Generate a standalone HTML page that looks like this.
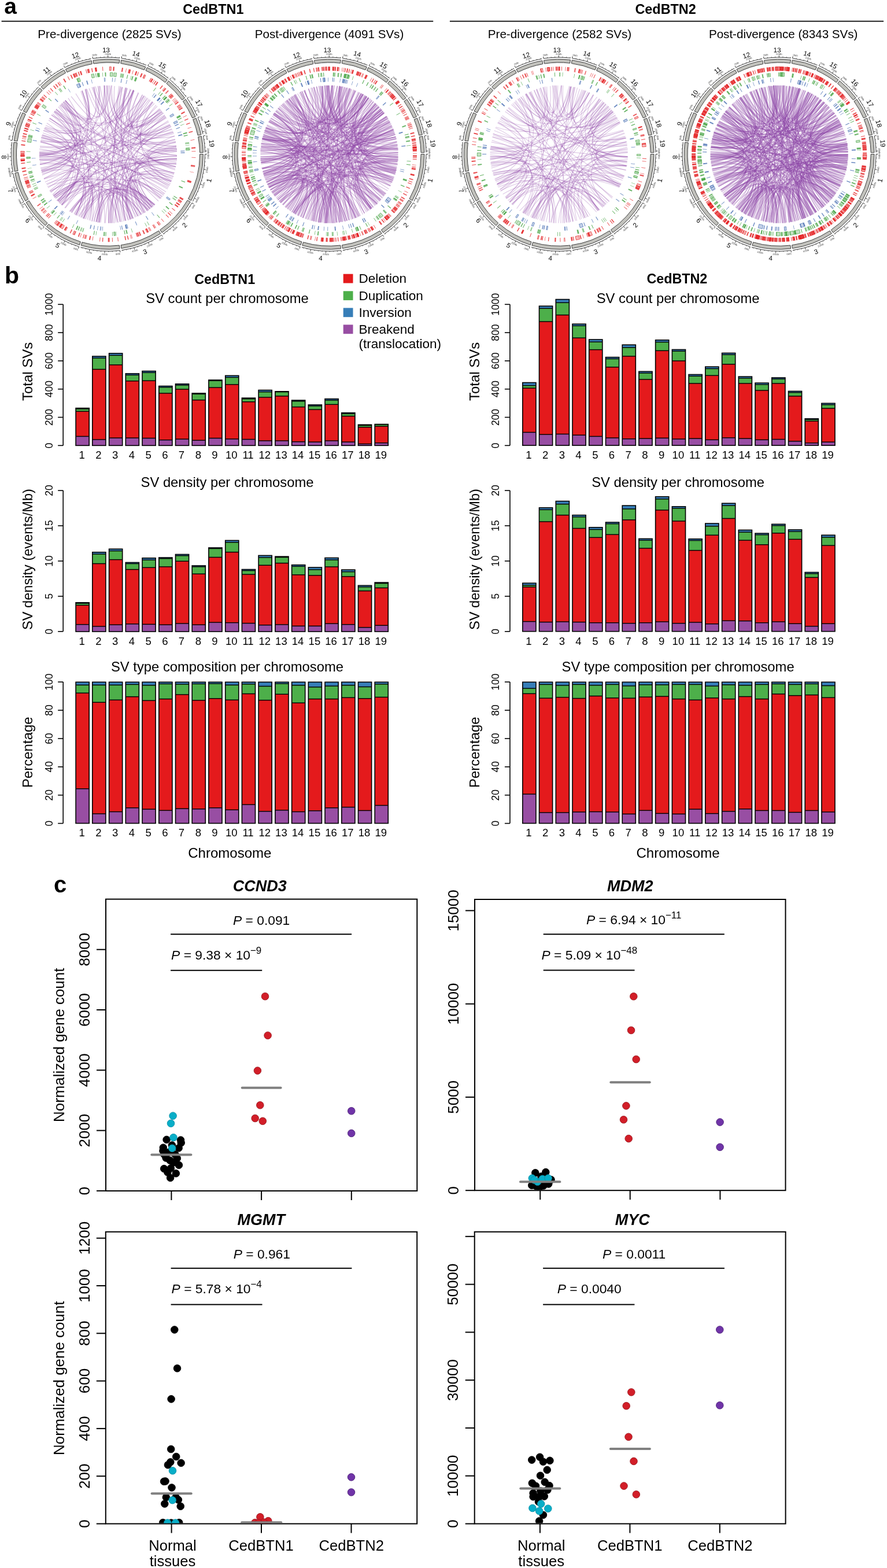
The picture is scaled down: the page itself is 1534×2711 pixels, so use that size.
<!DOCTYPE html><html><head><meta charset="utf-8"><title>Figure</title><style>html,body{margin:0;padding:0;background:#fff;}svg{display:block;}</style></head><body><svg width="1534" height="2711" viewBox="0 0 1534 2711" font-family="'Liberation Sans', Arial, Helvetica, sans-serif"><rect width="1534" height="2711" fill="#fff"/><text x="7.3" y="24" font-size="39" font-weight="bold">a</text><text x="368.8" y="23.7" font-size="23.4" text-anchor="middle" font-weight="bold">CedBTN1</text><text x="1151.1" y="23.7" font-size="23.4" text-anchor="middle" font-weight="bold">CedBTN2</text><line x1="2.6" x2="749.2" y1="36.8" y2="36.8" stroke="#222" stroke-width="2"/><line x1="777.9" x2="1528.1" y1="36.8" y2="36.8" stroke="#222" stroke-width="2"/><text x="189.5" y="65.5" font-size="20.6" text-anchor="middle">Pre-divergence (2825 SVs)</text><text x="569.5" y="65.5" font-size="20.6" text-anchor="middle">Post-divergence (4091 SVs)</text><text x="968" y="65.5" font-size="20.6" text-anchor="middle">Pre-divergence (2582 SVs)</text><text x="1354.7" y="65.5" font-size="20.6" text-anchor="middle">Post-divergence (8343 SVs)</text><g transform="translate(187,266.7)"><path fill="#C2C2BD" stroke="#3C3C3C" stroke-width="1" d="M164.4 -0.1A164.4 164.4 0 0 1 143.6 80L138.6 77.1A158.6 158.6 0 0 0 158.6 -0.1ZM142.2 82.4A164.4 164.4 0 0 1 93.1 135.5L89.8 130.7A158.6 158.6 0 0 0 137.2 79.5ZM90.7 137.1A164.4 164.4 0 0 1 22.9 162.8L22.1 157.1A158.6 158.6 0 0 0 87.5 132.3ZM20 163.2A164.4 164.4 0 0 1 -46.7 157.6L-45 152.1A158.6 158.6 0 0 0 19.3 157.4ZM-49.4 156.8A164.4 164.4 0 0 1 -106.6 125.2L-102.8 120.8A158.6 158.6 0 0 0 -47.7 151.3ZM-108.7 123.3A164.4 164.4 0 0 1 -141.8 83.2L-136.8 80.3A158.6 158.6 0 0 0 -104.9 119ZM-143.2 80.7A164.4 164.4 0 0 1 -161.2 32.5L-155.5 31.3A158.6 158.6 0 0 0 -138.2 77.9ZM-161.7 29.7A164.4 164.4 0 0 1 -163.1 -20.6L-157.3 -19.9A158.6 158.6 0 0 0 -156 28.6ZM-162.7 -23.4A164.4 164.4 0 0 1 -147.9 -71.8L-142.7 -69.3A158.6 158.6 0 0 0 -157 -22.6ZM-146.6 -74.4A164.4 164.4 0 0 1 -118.1 -114.4L-113.9 -110.4A158.6 158.6 0 0 0 -141.4 -71.8ZM-116 -116.5A164.4 164.4 0 0 1 -76.2 -145.7L-73.5 -140.6A158.6 158.6 0 0 0 -112 -112.3ZM-73.6 -147A164.4 164.4 0 0 1 -28.8 -161.9L-27.8 -156.1A158.6 158.6 0 0 0 -71 -141.8ZM-26 -162.3A164.4 164.4 0 0 1 19.8 -163.2L19.1 -157.5A158.6 158.6 0 0 0 -25.1 -156.6ZM22.6 -162.8A164.4 164.4 0 0 1 64.8 -151.1L62.5 -145.8A158.6 158.6 0 0 0 21.8 -157.1ZM67.4 -150A164.4 164.4 0 0 1 102.3 -128.7L98.7 -124.1A158.6 158.6 0 0 0 65 -144.7ZM104.6 -126.9A164.4 164.4 0 0 1 132.5 -97.3L127.8 -93.9A158.6 158.6 0 0 0 100.9 -122.4ZM134.2 -95A164.4 164.4 0 0 1 151 -65L145.7 -62.7A158.6 158.6 0 0 0 129.4 -91.6ZM152.1 -62.4A164.4 164.4 0 0 1 160.9 -33.9L155.2 -32.7A158.6 158.6 0 0 0 146.7 -60.2ZM161.4 -31.1A164.4 164.4 0 0 1 164.4 -3L158.6 -2.9A158.6 158.6 0 0 0 155.7 -30Z"/><path fill="none" stroke="#222" stroke-width="0.9" d="M167.6 -0.1A167.6 167.6 0 0 1 146.4 81.5M145 84.1A167.6 167.6 0 0 1 94.9 138.1M92.5 139.8A167.6 167.6 0 0 1 23.3 166M20.4 166.4A167.6 167.6 0 0 1 -47.6 160.7M-50.4 159.8A167.6 167.6 0 0 1 -108.6 127.6M-110.8 125.7A167.6 167.6 0 0 1 -144.6 84.8M-146 82.3A167.6 167.6 0 0 1 -164.3 33.1M-164.8 30.3A167.6 167.6 0 0 1 -166.3 -21M-165.9 -23.9A167.6 167.6 0 0 1 -150.8 -73.2M-149.5 -75.8A167.6 167.6 0 0 1 -120.4 -116.6M-118.3 -118.7A167.6 167.6 0 0 1 -77.6 -148.5M-75 -149.9A167.6 167.6 0 0 1 -29.4 -165M-26.5 -165.5A167.6 167.6 0 0 1 20.1 -166.4M23 -166A167.6 167.6 0 0 1 66 -154M68.7 -152.9A167.6 167.6 0 0 1 104.3 -131.2M106.6 -129.3A167.6 167.6 0 0 1 135.1 -99.2M136.8 -96.8A167.6 167.6 0 0 1 153.9 -66.3M155.1 -63.6A167.6 167.6 0 0 1 164 -34.6M164.6 -31.7A167.6 167.6 0 0 1 167.6 -3.1"/><path stroke="#333" stroke-width="0.7" d="M167.5 6.4L169.1 6.5M167.1 13L168.7 13.1M166.5 19.6L168 19.7M164.4 32.6L166 32.9M163 39L164.6 39.4M161.3 45.4L162.9 45.8M157.3 57.9L158.8 58.4M154.9 64L156.4 64.6M152.3 70L153.7 70.7M141.6 89.7L142.9 90.5M138 95.2L139.3 96.1M134.1 100.5L135.4 101.5M125.8 110.7L127 111.8M121.4 115.6L122.5 116.7M116.7 120.3L117.9 121.4M106.9 129L108 130.3M101.8 133.1L102.8 134.4M96.5 137L97.4 138.3M86.9 143.3L87.8 144.7M81.3 146.6L82 148M75.4 149.7L76.2 151.1M63.5 155.1L64.1 156.6M57.3 157.5L57.9 159M51.1 159.6L51.6 161.1M38.4 163.1L38.8 164.7M32 164.5L32.3 166.1M25.5 165.6L25.7 167.2M13.9 167L14 168.6M7.3 167.4L7.4 169M0.7 167.6L0.7 169.2M-12.4 167.1L-12.5 168.7M-19 166.5L-19.2 168.1M-25.5 165.6L-25.7 167.2M-38.4 163.1L-38.8 164.7M-44.8 161.5L-45.2 163M-56.6 157.7L-57.2 159.2M-62.8 155.4L-63.4 156.9M-68.8 152.8L-69.5 154.3M-80.6 146.9L-81.4 148.3M-86.3 143.7L-87.1 145M-91.9 140.2L-92.8 141.5M-102.6 132.5L-103.6 133.8M-107.7 128.4L-108.8 129.6M-115.7 121.3L-116.8 122.4M-120.4 116.6L-121.5 117.7M-124.8 111.8L-126 112.9M-133.2 101.7L-134.5 102.7M-137.1 96.4L-138.4 97.3M-140.8 90.9L-142.1 91.8M-149.1 76.5L-150.6 77.2M-152 70.6L-153.5 71.2M-154.7 64.5L-156.2 65.2M-159.3 52.2L-160.8 52.7M-161.2 45.9L-162.7 46.4M-162.9 39.6L-164.4 39.9M-165.9 23.8L-167.5 24M-166.7 17.2L-168.3 17.4M-167.3 10.7L-168.9 10.8M-167.6 -2.5L-169.2 -2.5M-167.4 -9.1L-169 -9.2M-166.9 -15.6L-168.5 -15.8M-164.8 -30.4L-166.4 -30.7M-163.5 -36.8L-165.1 -37.2M-161.9 -43.2L-163.5 -43.6M-158 -55.8L-159.5 -56.3M-155.7 -62L-157.2 -62.6M-153.2 -68L-154.6 -68.7M-146.4 -81.6L-147.8 -82.4M-143.1 -87.3L-144.4 -88.2M-139.5 -92.9L-140.8 -93.8M-131.8 -103.5L-133.1 -104.5M-127.6 -108.6L-128.9 -109.7M-123.3 -113.6L-124.4 -114.6M-113.6 -123.3L-114.6 -124.4M-108.6 -127.6L-109.7 -128.9M-103.5 -131.8L-104.5 -133.1M-92.9 -139.5L-93.8 -140.8M-87.3 -143.1L-88.2 -144.4M-81.6 -146.4L-82.4 -147.8M-69.1 -152.7L-69.8 -154.1M-63.1 -155.3L-63.7 -156.8M-56.9 -157.6L-57.5 -159.1M-44.4 -161.6L-44.8 -163.2M-38 -163.2L-38.3 -164.8M-31.5 -164.6L-31.8 -166.2M-20 -166.4L-20.2 -168M-13.4 -167.1L-13.6 -168.7M-6.9 -167.5L-6.9 -169.1M6.3 -167.5L6.3 -169.1M12.9 -167.1L13 -168.7M19.4 -166.5L19.6 -168.1M29.5 -165L29.8 -166.6M36 -163.7L36.3 -165.3M42.4 -162.2L42.8 -163.7M55 -158.3L55.5 -159.8M61.2 -156L61.7 -157.5M74.7 -150.1L75.4 -151.5M80.5 -147L81.3 -148.4M86.2 -143.7L87 -145.1M97.2 -136.5L98.1 -137.8M102.5 -132.6L103.5 -133.9M111.6 -125L112.7 -126.2M116.4 -120.6L117.5 -121.7M121.1 -115.9L122.2 -117M129.8 -106L131 -107.1M133.9 -100.9L135.1 -101.8M140.5 -91.4L141.8 -92.3M144 -85.8L145.3 -86.6M147.2 -80.1L148.6 -80.9M153.1 -68.3L154.5 -69M157.4 -57.5L158.9 -58M159.6 -51.2L161.1 -51.7M161.5 -44.9L163 -45.4M165.7 -25.2L167.3 -25.4M166.6 -18.7L168.1 -18.9M167.2 -12.1L168.8 -12.2"/><path stroke="#222" stroke-width="0.9" d="M167.6 -0.1L170.9 -0.1M165.6 26.1L168.8 26.6M159.4 51.7L162.6 52.7M149.4 76L152.3 77.5M145 84.1L147.9 85.7M130.1 105.7L132.6 107.8M111.9 124.7L114.1 127.2M92.5 139.8L94.3 142.5M69.5 152.5L70.9 155.5M44.8 161.5L45.7 164.7M20.4 166.4L20.8 169.6M-5.8 167.5L-6 170.8M-32 164.5L-32.6 167.8M-50.4 159.8L-51.4 163M-74.8 150L-76.3 152.9M-97.3 136.4L-99.2 139.1M-110.8 125.7L-113 128.2M-129.1 106.8L-131.7 108.9M-144.3 85.3L-147.1 87M-146 82.3L-148.9 83.9M-157.1 58.4L-160.2 59.6M-164.3 33.1L-167.5 33.8M-164.8 30.3L-168.1 30.9M-167.5 4.1L-170.8 4.2M-165.9 -23.9L-169.2 -24.4M-160.1 -49.6L-163.3 -50.5M-149.5 -75.8L-152.4 -77.3M-135.8 -98.3L-138.4 -100.2M-118.3 -118.7L-120.6 -121.1M-98.3 -135.8L-100.2 -138.4M-75 -149.9L-76.5 -152.8M-50.7 -159.8L-51.7 -162.9M-26.5 -165.5L-27 -168.7M-0.3 -167.6L-0.3 -170.9M23 -166L23.5 -169.3M48.7 -160.4L49.7 -163.5M68.7 -152.9L70.1 -155.9M91.8 -140.2L93.6 -143M106.6 -129.3L108.7 -131.9M125.5 -111.1L128 -113.2M136.8 -96.8L139.5 -98.8M150.3 -74.3L153.2 -75.7M155.1 -63.6L158.1 -64.8M163.1 -38.6L166.3 -39.3M164.6 -31.7L167.8 -32.3M167.5 -5.6L170.8 -5.7"/><g font-size="4.3" fill="#444" text-anchor="middle"><text transform="translate(173.2,4.1) rotate(-88.6)" dy="1.4">0Mb</text><text transform="translate(171.1,26.9) rotate(-81.1)" dy="1.4">20Mb</text><text transform="translate(164.8,53.4) rotate(-72.1)" dy="1.4">40Mb</text><text transform="translate(154.4,78.5) rotate(-63.1)" dy="1.4">60Mb</text><text transform="translate(147.7,90.5) rotate(-58.5)" dy="1.4">0Mb</text><text transform="translate(134.4,109.2) rotate(-50.9)" dy="1.4">20Mb</text><text transform="translate(115.7,128.9) rotate(-41.9)" dy="1.4">40Mb</text><text transform="translate(92,146.7) rotate(-32.1)" dy="1.4">0Mb</text><text transform="translate(71.8,157.6) rotate(-24.5)" dy="1.4">20Mb</text><text transform="translate(46.3,166.9) rotate(-15.5)" dy="1.4">40Mb</text><text transform="translate(16.9,172.4) rotate(-5.6)" dy="1.4">0Mb</text><text transform="translate(-6,173.1) rotate(2)" dy="1.4">20Mb</text><text transform="translate(-33,170) rotate(11)" dy="1.4">40Mb</text><text transform="translate(-56.1,163.9) rotate(18.9)" dy="1.4">0Mb</text><text transform="translate(-77.3,155) rotate(26.5)" dy="1.4">20Mb</text><text transform="translate(-100.6,141) rotate(35.5)" dy="1.4">40Mb</text><text transform="translate(-117.7,127.1) rotate(42.8)" dy="1.4">0Mb</text><text transform="translate(-133.5,110.4) rotate(50.4)" dy="1.4">20Mb</text><text transform="translate(-149.1,88.2) rotate(59.4)" dy="1.4">40Mb</text><text transform="translate(-152.9,81.3) rotate(62)" dy="1.4">0Mb</text><text transform="translate(-162.3,60.4) rotate(69.6)" dy="1.4">20Mb</text><text transform="translate(-169.8,34.2) rotate(78.6)" dy="1.4">40Mb</text><text transform="translate(-171.1,27.1) rotate(81)" dy="1.4">0Mb</text><text transform="translate(-173.1,4.2) rotate(88.6)" dy="1.4">20Mb</text><text transform="translate(-170.8,-28.9) rotate(-80.4)" dy="1.4">0Mb</text><text transform="translate(-165.5,-51.2) rotate(-72.8)" dy="1.4">20Mb</text><text transform="translate(-152.5,-82.1) rotate(-61.7)" dy="1.4">0Mb</text><text transform="translate(-140.3,-101.6) rotate(-54.1)" dy="1.4">20Mb</text><text transform="translate(-119.2,-125.6) rotate(-43.5)" dy="1.4">0Mb</text><text transform="translate(-101.6,-140.3) rotate(-35.9)" dy="1.4">20Mb</text><text transform="translate(-73.7,-156.7) rotate(-25.2)" dy="1.4">0Mb</text><text transform="translate(-52.4,-165.1) rotate(-17.6)" dy="1.4">20Mb</text><text transform="translate(-23.2,-171.6) rotate(-7.7)" dy="1.4">0Mb</text><text transform="translate(-0.3,-173.2) rotate(-0.1)" dy="1.4">20Mb</text><text transform="translate(28,-170.9) rotate(9.3)" dy="1.4">0Mb</text><text transform="translate(50.3,-165.7) rotate(16.9)" dy="1.4">20Mb</text><text transform="translate(74.8,-156.2) rotate(25.6)" dy="1.4">0Mb</text><text transform="translate(94.8,-144.9) rotate(33.2)" dy="1.4">20Mb</text><text transform="translate(113.4,-130.9) rotate(40.9)" dy="1.4">0Mb</text><text transform="translate(129.7,-114.8) rotate(48.5)" dy="1.4">20Mb</text><text transform="translate(143.8,-96.6) rotate(56.1)" dy="1.4">0Mb</text><text transform="translate(155.3,-76.7) rotate(63.7)" dy="1.4">20Mb</text><text transform="translate(161.8,-61.8) rotate(69.1)" dy="1.4">0Mb</text><text transform="translate(168.6,-39.8) rotate(76.7)" dy="1.4">20Mb</text><text transform="translate(170.8,-28.6) rotate(80.5)" dy="1.4">0Mb</text><text transform="translate(173.1,-5.7) rotate(88.1)" dy="1.4">20Mb</text></g><g font-size="11.5" text-anchor="middle"><text transform="translate(174.4,45.2) rotate(-75.5)" dy="4">1</text><text transform="translate(132.2,122.4) rotate(-47.2)" dy="4">2</text><text transform="translate(63.8,168.5) rotate(-20.8)" dy="4">3</text><text transform="translate(-14.9,179.6) rotate(4.8)" dy="4">4</text><text transform="translate(-87.2,157.7) rotate(28.9)" dy="4">5</text><text transform="translate(-139,114.6) rotate(50.5)" dy="4">6</text><text transform="translate(-168.9,62.8) rotate(69.6)" dy="4">7</text><text transform="translate(-180.1,5) rotate(88.4)" dy="4">8</text><text transform="translate(-172.3,-52.8) rotate(-72.9)" dy="4">9</text><text transform="translate(-146.7,-104.6) rotate(-54.5)" dy="4">10</text><text transform="translate(-106.6,-145.3) rotate(-36.2)" dy="4">11</text><text transform="translate(-56.7,-171) rotate(-18.4)" dy="4">12</text><text transform="translate(-3.5,-180.2) rotate(-1.1)" dy="4">13</text><text transform="translate(48.3,-173.6) rotate(15.5)" dy="4">14</text><text transform="translate(93.8,-153.9) rotate(31.4)" dy="4">15</text><text transform="translate(130.9,-123.8) rotate(46.6)" dy="4">16</text><text transform="translate(157.1,-88.2) rotate(60.7)" dy="4">17</text><text transform="translate(172.2,-53) rotate(72.9)" dy="4">18</text><text transform="translate(179.2,-18.8) rotate(84)" dy="4">19</text></g><circle r="148" fill="none" stroke="#E31A1C" stroke-opacity="0.78" stroke-width="7" stroke-dasharray="0.0 5.3 0.7 24.7 0.7 14.8 3.4 35.3 1.3 0.6 1.0 2.7 1.9 18.1 0.7 18.8 0.8 6.3 1.0 1.0 1.5 15.6 0.9 4.5 1.5 15.4 2.1 0.5 1.5 8.0 0.7 33.2 0.9 6.3 1.0 13.4 0.9 11.6 0.8 3.6 2.1 14.9 0.8 9.5 1.0 15.6 1.0 0.5 2.1 8.8 1.4 2.9 2.1 4.2 0.8 17.6 1.3 4.5 0.8 1.1 1.3 1.8 0.9 4.6 0.7 5.3 1.6 19.5 0.8 3.0 1.3 2.0 0.9 5.7 0.8 2.3 1.3 4.8 3.9 30.0 1.5 3.4 2.1 8.6 2.4 13.4 2.1 5.8 0.8 6.6 1.5 2.3 1.5 8.2 0.8 3.8 0.9 1.1 1.0 8.2 1.3 3.4 1.3 9.8 1.5 10.0 1.0 3.8 0.9 6.8 0.9 3.5 0.9 1.4 1.0 2.3 1.2 6.2 0.9 2.9 0.8 45.0 0.9 9.7 0.7 2.3 1.5 16.8 1.5 3.9 1.4 4.4 1.7 29.5 2.3 12.8 2.1 9.7 3.6 9.1 2.1 1.8 1.0 4.6 1.0 16.9 0.8 0.3 0.7 0.9 0.7 3.2 0.8 2.0 1.5 1.7 2.1 15.0 1.5 4.6 0.7 7.2 1.3 1.6 1.3 0.7 0.7 4.6 0.7 1.8 0.8 1.5 1.0 2.6 0.9 4.0 1.0 3.4 1.0 1.5 0.8 6.2 2.1 19.1 1.3 28.1 0.7 12.4 2.1 4.7 0.7 4.5"/><circle r="148" fill="none" stroke="#E31A1C" stroke-opacity="0.78" stroke-width="7" stroke-dasharray="0.0 19.3 0.9 58.7 3.0 1.8 1.3 5.3 0.8 3.4 2.1 6.7 1.0 9.3 1.5 3.9 1.0 26.7 0.9 0.8 1.3 8.4 0.8 9.1 2.1 5.0 1.5 0.3 0.8 14.7 0.7 4.1 1.5 3.0 1.5 11.6 1.0 14.0 2.1 9.2 1.3 27.7 0.8 0.7 1.5 1.6 1.3 6.7 1.7 13.6 1.5 9.4 0.8 7.5 2.1 23.9 1.0 1.8 1.3 13.3 1.3 23.6 0.7 3.9 2.1 5.2 0.8 8.6 1.0 2.1 0.8 1.3 0.9 0.3 2.1 2.9 0.9 1.8 0.7 1.9 1.0 3.8 1.3 4.6 2.1 3.2 2.1 11.0 2.1 6.3 2.5 23.6 0.7 3.5 0.7 1.7 0.8 6.1 0.7 3.4 2.1 1.7 2.2 5.5 1.3 5.0 0.9 1.9 1.3 8.6 1.5 1.2 0.7 9.7 4.5 0.4 2.4 2.7 1.0 5.9 2.4 2.2 0.7 19.5 1.3 5.6 1.5 2.8 1.6 3.2 1.5 1.4 0.8 7.6 2.1 6.4 1.0 4.7 1.3 2.7 3.3 0.6 2.1 6.7 2.5 7.9 1.0 1.5 2.2 11.6 2.8 9.6 1.0 39.6 0.7 11.3 0.8 4.4 0.7 9.8 1.5 2.7 0.8 14.6 2.1 18.3 1.5 3.7 0.7 2.3 0.8 4.6 1.0 8.1 1.5 1.6 1.0 11.3 1.3 6.5 0.7 0.5 0.9 2.4 1.5 13.8 0.8 5.0 1.3 14.4 0.7 6.3 1.5 38.4"/><path d="M-151.1 4.1A151.2 151.2 0 0 1 -151.2 1.2L-144.8 1.1A144.8 144.8 0 0 0 -144.7 3.9Z" fill="#E31A1C" fill-opacity="0.3" stroke="#E31A1C" stroke-opacity="0.85" stroke-width="0.8"/><path d="M2.4 -151.2A151.2 151.2 0 0 1 5.3 -151.1L5.1 -144.7A144.8 144.8 0 0 0 2.3 -144.8Z" fill="#E31A1C" fill-opacity="0.3" stroke="#E31A1C" stroke-opacity="0.85" stroke-width="0.8"/><path d="M-78.9 129A151.2 151.2 0 0 1 -84.3 125.5L-80.7 120.2A144.8 144.8 0 0 0 -75.6 123.5Z" fill="#E31A1C" fill-opacity="0.3" stroke="#E31A1C" stroke-opacity="0.85" stroke-width="0.8"/><path d="M-143.2 -48.4A151.2 151.2 0 0 1 -141.1 -54.4L-135.1 -52.1A144.8 144.8 0 0 0 -137.2 -46.4Z" fill="#E31A1C" fill-opacity="0.3" stroke="#E31A1C" stroke-opacity="0.85" stroke-width="0.8"/><path d="M-59 139.2A151.2 151.2 0 0 1 -61.2 138.3L-58.6 132.4A144.8 144.8 0 0 0 -56.5 133.3Z" fill="#E31A1C" fill-opacity="0.3" stroke="#E31A1C" stroke-opacity="0.85" stroke-width="0.8"/><path d="M-151.2 -2.9A151.2 151.2 0 0 1 -151.1 -5.3L-144.7 -5A144.8 144.8 0 0 0 -144.8 -2.8Z" fill="#E31A1C" fill-opacity="0.3" stroke="#E31A1C" stroke-opacity="0.85" stroke-width="0.8"/><path d="M63.3 -137.3A151.2 151.2 0 0 1 65 -136.5L62.3 -130.7A144.8 144.8 0 0 0 60.7 -131.5Z" fill="#E31A1C" fill-opacity="0.3" stroke="#E31A1C" stroke-opacity="0.85" stroke-width="0.8"/><path d="M149.9 19.8A151.2 151.2 0 0 1 149.6 21.6L143.3 20.7A144.8 144.8 0 0 0 143.6 18.9Z" fill="#E31A1C" fill-opacity="0.3" stroke="#E31A1C" stroke-opacity="0.85" stroke-width="0.8"/><path d="M-132.7 -72.5A151.2 151.2 0 0 1 -130.3 -76.7L-124.8 -73.4A144.8 144.8 0 0 0 -127.1 -69.5Z" fill="#E31A1C" fill-opacity="0.3" stroke="#E31A1C" stroke-opacity="0.85" stroke-width="0.8"/><path d="M-86.3 124.1A151.2 151.2 0 0 1 -91.4 120.4L-87.6 115.3A144.8 144.8 0 0 0 -82.7 118.9Z" fill="#E31A1C" fill-opacity="0.3" stroke="#E31A1C" stroke-opacity="0.85" stroke-width="0.8"/><path d="M69.8 134.1A151.2 151.2 0 0 1 67.3 135.4L64.4 129.7A144.8 144.8 0 0 0 66.9 128.4Z" fill="#E31A1C" fill-opacity="0.3" stroke="#E31A1C" stroke-opacity="0.85" stroke-width="0.8"/><path d="M-150.8 11A151.2 151.2 0 0 1 -151 8.1L-144.6 7.7A144.8 144.8 0 0 0 -144.4 10.5Z" fill="#E31A1C" fill-opacity="0.3" stroke="#E31A1C" stroke-opacity="0.85" stroke-width="0.8"/><circle r="138" fill="none" stroke="#3E9F3B" stroke-opacity="0.78" stroke-width="7" stroke-dasharray="0.0 47.4 1.2 33.6 0.8 17.2 1.9 5.3 0.7 14.2 1.0 20.6 0.8 3.9 0.7 25.4 0.7 8.0 1.9 17.3 0.7 16.8 1.2 43.3 0.8 2.3 1.4 34.3 0.8 4.7 1.2 6.6 0.7 3.1 2.3 10.5 0.7 6.2 1.4 7.2 1.9 34.6 0.8 1.4 0.8 7.4 0.8 3.2 1.4 1.6 1.2 4.8 0.7 17.2 0.8 10.3 0.7 49.0 1.0 15.8 0.7 31.8 1.2 22.2 1.0 1.0 1.2 6.4 1.4 26.5 0.7 30.0 1.0 11.0 0.7 3.6 0.7 28.1 1.4 16.7 1.9 3.6 3.2 49.6 1.4 4.9 1.3 1.1 2.9 4.4 1.4 1.0 0.7 5.5 0.8 27.7 1.2 4.8 0.8 45.9 0.7 9.7"/><circle r="138" fill="none" stroke="#3E9F3B" stroke-opacity="0.78" stroke-width="7" stroke-dasharray="0.0 57.6 1.9 18.1 1.2 2.3 0.7 9.3 1.4 18.8 0.7 75.4 1.2 20.1 0.7 13.2 1.9 12.5 0.8 2.6 1.2 18.4 1.2 1.8 0.8 7.1 1.9 5.9 0.8 18.7 0.7 2.6 0.7 21.4 0.7 15.6 0.8 5.6 0.7 23.9 1.2 1.0 1.0 3.0 0.8 2.7 0.7 6.8 1.4 3.1 1.9 7.2 1.0 16.4 1.0 55.2 0.7 76.4 0.7 42.1 1.2 34.7 4.4 9.5 1.4 25.0 1.2 2.9 1.4 6.0 1.2 5.3 0.7 45.4 1.0 9.5 0.7 12.7 1.2 37.1 3.4 13.1 0.8 14.0 1.9 2.5 1.4 11.6 1.2 0.8 0.7 1.9 0.7 4.0 0.7 2.6 0.7 6.6"/><path d="M3.6 -141.2A141.2 141.2 0 0 1 8 -141L7.7 -134.6A134.8 134.8 0 0 0 3.4 -134.8Z" fill="#3E9F3B" fill-opacity="0.3" stroke="#3E9F3B" stroke-opacity="0.85" stroke-width="0.8"/><path d="M-137.7 -31.3A141.2 141.2 0 0 1 -137.2 -33.5L-131 -32A134.8 134.8 0 0 0 -131.4 -29.9Z" fill="#3E9F3B" fill-opacity="0.3" stroke="#3E9F3B" stroke-opacity="0.85" stroke-width="0.8"/><path d="M-113.1 84.5A141.2 141.2 0 0 1 -114.2 83.1L-109 79.3A134.8 134.8 0 0 0 -108 80.7Z" fill="#3E9F3B" fill-opacity="0.3" stroke="#3E9F3B" stroke-opacity="0.85" stroke-width="0.8"/><path d="M-138.2 -28.9A141.2 141.2 0 0 1 -137.6 -31.6L-131.4 -30.2A134.8 134.8 0 0 0 -131.9 -27.6Z" fill="#3E9F3B" fill-opacity="0.3" stroke="#3E9F3B" stroke-opacity="0.85" stroke-width="0.8"/><path d="M10.1 -140.8A141.2 141.2 0 0 1 14.5 -140.5L13.9 -134.1A134.8 134.8 0 0 0 9.6 -134.5Z" fill="#3E9F3B" fill-opacity="0.3" stroke="#3E9F3B" stroke-opacity="0.85" stroke-width="0.8"/><path d="M-53.8 -130.5A141.2 141.2 0 0 1 -49.7 -132.2L-47.5 -126.2A134.8 134.8 0 0 0 -51.4 -124.6Z" fill="#3E9F3B" fill-opacity="0.3" stroke="#3E9F3B" stroke-opacity="0.85" stroke-width="0.8"/><path d="M103.7 -95.8A141.2 141.2 0 0 1 105.6 -93.8L100.8 -89.5A134.8 134.8 0 0 0 99 -91.4Z" fill="#3E9F3B" fill-opacity="0.3" stroke="#3E9F3B" stroke-opacity="0.85" stroke-width="0.8"/><path d="M-114.6 -82.5A141.2 141.2 0 0 1 -112 -86L-106.9 -82.1A134.8 134.8 0 0 0 -109.4 -78.7Z" fill="#3E9F3B" fill-opacity="0.3" stroke="#3E9F3B" stroke-opacity="0.85" stroke-width="0.8"/><path d="M-29.1 -138.2A141.2 141.2 0 0 1 -24.8 -139L-23.6 -132.7A134.8 134.8 0 0 0 -27.8 -131.9Z" fill="#3E9F3B" fill-opacity="0.3" stroke="#3E9F3B" stroke-opacity="0.85" stroke-width="0.8"/><path d="M140.9 -9.7A141.2 141.2 0 0 1 141 -7.5L134.6 -7.1A134.8 134.8 0 0 0 134.5 -9.3Z" fill="#3E9F3B" fill-opacity="0.3" stroke="#3E9F3B" stroke-opacity="0.85" stroke-width="0.8"/><path d="M-139.6 -21.3A141.2 141.2 0 0 1 -138.6 -27.1L-132.3 -25.9A134.8 134.8 0 0 0 -133.3 -20.3Z" fill="#3E9F3B" fill-opacity="0.3" stroke="#3E9F3B" stroke-opacity="0.85" stroke-width="0.8"/><path d="M12.4 140.7A141.2 141.2 0 0 1 10.2 140.8L9.7 134.4A134.8 134.8 0 0 0 11.9 134.3Z" fill="#3E9F3B" fill-opacity="0.3" stroke="#3E9F3B" stroke-opacity="0.85" stroke-width="0.8"/><path d="M-141 7.5A141.2 141.2 0 0 1 -141.1 4.8L-134.7 4.6A134.8 134.8 0 0 0 -134.6 7.2Z" fill="#3E9F3B" fill-opacity="0.3" stroke="#3E9F3B" stroke-opacity="0.85" stroke-width="0.8"/><path d="M-120.1 74.2A141.2 141.2 0 0 1 -121.5 71.9L-116 68.6A134.8 134.8 0 0 0 -114.7 70.8Z" fill="#3E9F3B" fill-opacity="0.3" stroke="#3E9F3B" stroke-opacity="0.85" stroke-width="0.8"/><circle r="129" fill="none" stroke="#3D66AE" stroke-opacity="0.78" stroke-width="7" stroke-dasharray="0.0 119.2 0.8 57.8 1.1 32.8 0.7 2.0 0.8 0.7 0.7 9.8 1.1 30.0 0.8 15.6 0.9 12.9 1.4 28.2 0.9 79.5 0.7 47.8 1.1 2.7 0.7 33.4 0.9 23.4 1.4 52.6 1.1 15.3 0.7 35.1 0.9 3.8 0.7 10.0 1.1 8.3 0.8 62.9 1.8 52.5 1.4 12.6 0.7 3.8 1.8 26.4 1.1 1.6 1.4 2.4"/><circle r="129" fill="none" stroke="#3D66AE" stroke-opacity="0.78" stroke-width="7" stroke-dasharray="0.0 131.3 1.1 20.1 0.9 17.2 1.8 8.4 0.7 38.8 0.7 11.3 1.4 51.9 0.7 3.8 0.7 10.9 1.8 51.9 1.8 28.8 0.7 41.7 0.9 16.9 0.7 12.9 1.1 22.5 0.8 52.4 0.7 19.3 0.8 12.8 1.8 28.5 0.7 0.7 0.9 88.5 0.7 2.5 1.4 6.3 1.4 3.5 0.7 3.9 1.8 12.6 1.1 36.3 1.1 45.9"/><path d="M34.2 127.7A132.2 132.2 0 0 1 31.7 128.3L30.2 122.1A125.8 125.8 0 0 0 32.5 121.5Z" fill="#3D66AE" fill-opacity="0.3" stroke="#3D66AE" stroke-opacity="0.85" stroke-width="0.8"/><path d="M112.1 -70.1A132.2 132.2 0 0 1 113.8 -67.3L108.3 -64.1A125.8 125.8 0 0 0 106.7 -66.7Z" fill="#3D66AE" fill-opacity="0.3" stroke="#3D66AE" stroke-opacity="0.85" stroke-width="0.8"/><path d="M-54.6 -120.4A132.2 132.2 0 0 1 -49.5 -122.6L-47.1 -116.7A125.8 125.8 0 0 0 -51.9 -114.6Z" fill="#3D66AE" fill-opacity="0.3" stroke="#3D66AE" stroke-opacity="0.85" stroke-width="0.8"/><path d="M118.9 -57.9A132.2 132.2 0 0 1 120.2 -54.9L114.4 -52.3A125.8 125.8 0 0 0 113.1 -55.1Z" fill="#3D66AE" fill-opacity="0.3" stroke="#3D66AE" stroke-opacity="0.85" stroke-width="0.8"/><path d="M107.3 77.3A132.2 132.2 0 0 1 105.8 79.3L100.6 75.5A125.8 125.8 0 0 0 102.1 73.5Z" fill="#3D66AE" fill-opacity="0.3" stroke="#3D66AE" stroke-opacity="0.85" stroke-width="0.8"/><g fill="none" stroke="#8E47A8" stroke-width="1.2" stroke-opacity="0.33"><path d="M80 88Q4 13 -21 117"/><path d="M1 119Q0 0 33 -114"/><path d="M-118 -14Q-1 -3 80 -88"/><path d="M81 87Q-3 16 -105 56"/><path d="M107 53Q15 6 114 35"/><path d="M-93 74Q-2 5 17 118"/><path d="M30 115Q3 3 110 46"/><path d="M89 -79Q0 -0 105 -56"/><path d="M77 -91Q21 -5 110 46"/><path d="M-57 105Q6 13 118 17"/><path d="M-56 -105Q-4 -17 -1 -119"/><path d="M-15 -118Q-9 -6 -114 36"/><path d="M-20 117Q-4 0 -45 -110"/><path d="M65 -100Q8 2 5 119"/><path d="M116 27Q15 -4 83 -85"/><path d="M-90 -78Q-22 -9 -119 -5"/><path d="M119 7Q11 9 35 114"/><path d="M-33 -114Q7 -8 116 25"/><path d="M39 -112Q-5 -7 -119 -2"/><path d="M-85 83Q-15 6 -119 -2"/><path d="M-109 48Q-20 7 -114 34"/><path d="M111 -43Q2 -3 1 -119"/><path d="M-2 -119Q6 -7 117 -22"/><path d="M-118 18Q-27 -2 -114 -34"/><path d="M119 -9Q7 -10 -22 -117"/><path d="M9 119Q1 0 60 -103"/><path d="M51 107Q5 2 116 -26"/><path d="M38 113Q11 7 119 -8"/><path d="M108 -50Q22 -12 100 -65"/><path d="M100 -64Q1 1 -80 88"/><path d="M-24 117Q0 0 31 -115"/><path d="M-91 -76Q-16 -3 -111 42"/><path d="M43 111Q-0 0 -115 -32"/><path d="M-31 115Q-12 4 -96 -70"/><path d="M-119 1Q-3 -1 -78 -90"/><path d="M111 43Q3 -2 -14 -118"/><path d="M52 -107Q10 -6 119 -5"/><path d="M59 -103Q3 1 -28 116"/><path d="M-15 118Q-9 9 -118 15"/><path d="M97 69Q0 13 -91 76"/><path d="M-119 2Q-8 5 -56 105"/><path d="M93 -74Q-0 -2 -114 -33"/><path d="M-119 9Q-2 6 92 76"/><path d="M74 93Q0 -0 -3 -119"/><path d="M6 -119Q-8 -22 -82 -86"/><path d="M-115 -30Q-2 3 77 91"/><path d="M24 -116Q-11 -13 -119 4"/><path d="M-20 117Q0 6 20 117"/><path d="M-7 -119Q-4 -22 -37 -113"/><path d="M107 -52Q-1 -4 -118 12"/><path d="M-74 93Q1 0 78 -90"/><path d="M101 -63Q0 0 -100 65"/><path d="M-25 -116Q4 -5 119 2"/><path d="M-87 81Q-3 -2 44 -111"/><path d="M-88 80Q-1 -1 76 -91"/><path d="M62 101Q14 10 115 32"/><path d="M119 4Q1 6 -111 43"/><path d="M-99 66Q-9 -3 -45 -110"/><path d="M-104 58Q-7 -0 -101 -62"/><path d="M41 112Q0 0 109 -48"/><path d="M-109 -47Q-13 -17 -16 -118"/><path d="M90 -78Q1 -3 25 -116"/><path d="M109 47Q3 3 47 109"/><path d="M58 104Q-1 20 -65 99"/><path d="M-6 119Q-4 14 -64 100"/><path d="M-74 -93Q-9 -19 -24 -117"/><path d="M96 -71Q5 -7 44 -111"/><path d="M62 -101Q-2 -15 -83 -85"/><path d="M-91 76Q-13 17 -53 106"/><path d="M-45 -110Q-10 -17 -74 -93"/><path d="M24 117Q1 4 39 112"/><path d="M119 -10Q7 3 78 90"/><path d="M57 105Q-4 3 -101 -63"/><path d="M118 -13Q10 -15 -28 -116"/><path d="M1 119Q-1 11 -18 118"/><path d="M-80 -88Q-1 1 68 98"/><path d="M49 108Q-3 3 -110 -45"/><path d="M93 -74Q1 -2 53 -106"/><path d="M-116 28Q-17 -6 -78 -90"/><path d="M-83 86Q-5 1 -112 -41"/><path d="M-28 116Q-10 10 -115 30"/><path d="M94 -73Q-1 -2 -106 53"/><path d="M-13 118Q-1 6 -39 112"/><path d="M-113 -37Q-1 2 103 60"/><path d="M-84 -84Q-12 3 -42 111"/><path d="M118 -14Q16 0 117 21"/><path d="M-116 -25Q-7 -3 -90 -78"/><path d="M52 107Q2 16 -25 116"/><path d="M110 -44Q12 -9 73 -94"/><path d="M-77 -91Q0 -0 114 33"/><path d="M-116 28Q0 5 117 22"/><path d="M3 119Q4 2 104 -58"/><path d="M-112 -41Q-8 -18 40 -112"/><path d="M-119 -9Q-17 4 -101 63"/><path d="M119 8Q3 7 -67 99"/><path d="M-33 114Q-5 2 -98 -68"/><path d="M113 39Q0 -1 -102 -62"/><path d="M64 101Q4 4 94 73"/><path d="M-43 111Q-0 1 -84 85"/><path d="M-80 88Q-1 19 70 97"/><path d="M-18 -118Q3 -1 63 101"/><path d="M-116 -29Q-14 -0 -116 26"/><path d="M44 -111Q3 -11 19 -118"/><path d="M108 -50Q0 -0 33 -114"/><path d="M3 -119Q8 -14 98 -68"/><path d="M-55 105Q-12 -1 -40 -112"/><path d="M99 -66Q6 -10 6 -119"/><path d="M-115 29Q-16 3 -119 8"/><path d="M106 54Q-0 2 -119 5"/><path d="M119 3Q2 4 -59 103"/><path d="M-16 118Q2 16 44 111"/><path d="M105 56Q2 -1 11 -118"/><path d="M21 117Q1 0 21 -117"/><path d="M96 71Q0 1 6 119"/><path d="M-58 104Q-0 0 -45 110"/><path d="M-111 42Q0 0 112 -40"/><path d="M-115 32Q-2 -4 77 -90"/><path d="M108 51Q26 3 117 -21"/><path d="M22 -117Q-6 -3 -75 93"/><path d="M52 107Q-0 1 -95 72"/><path d="M-39 -113Q-13 -8 -118 18"/><path d="M-116 -28Q0 -4 116 -25"/><path d="M118 -15Q16 -13 38 -113"/><path d="M115 -32Q16 7 56 105"/><path d="M38 113Q5 4 118 17"/><path d="M-63 101Q-1 2 -36 113"/><path d="M31 115Q3 1 92 -76"/><path d="M118 16Q1 3 -94 72"/><path d="M100 65Q10 8 87 81"/><path d="M-118 17Q-5 13 73 94"/><path d="M113 38Q4 4 43 111"/><path d="M-85 84Q-7 -0 -74 -93"/><path d="M-93 -74Q-0 0 -18 118"/><path d="M-106 -54Q-22 2 -94 73"/><path d="M-86 82Q-1 17 73 94"/><path d="M81 87Q-3 14 -107 51"/><path d="M119 2Q3 -9 -93 -75"/><path d="M43 -111Q-0 -2 -80 -88"/><path d="M42 111Q-1 1 -119 -2"/><path d="M65 100Q3 -0 30 -115"/><path d="M-117 -21Q-1 3 104 58"/><path d="M45 -110Q-5 -7 -119 0"/><path d="M62 -101Q0 -0 76 92"/><path d="M115 -31Q13 -12 44 -111"/><path d="M114 -36Q4 -2 85 -83"/><path d="M-89 80Q-0 -0 71 -95"/><path d="M-93 74Q0 1 119 -7"/><path d="M118 -11Q20 0 118 14"/><path d="M-119 10Q-12 9 -47 109"/><path d="M-117 24Q-3 -0 -103 -59"/><path d="M72 95Q2 -0 32 -115"/><path d="M-117 -23Q-18 -9 -86 -82"/><path d="M75 92Q1 3 27 116"/><path d="M-6 -119Q-1 -0 -16 118"/><path d="M-118 -12Q-22 -5 -111 -44"/><path d="M-87 81Q-4 16 40 112"/><path d="M-101 64Q-6 13 17 118"/><path d="M68 98Q13 2 98 -67"/><path d="M-15 118Q5 22 62 102"/><path d="M-95 71Q-5 7 -41 112"/><path d="M-117 -23Q-21 6 -87 81"/><path d="M-64 -100Q6 -9 117 22"/><path d="M-119 2Q-9 -9 -6 -119"/><path d="M80 88Q4 24 -47 109"/><path d="M-26 -116Q0 -0 29 115"/><path d="M60 103Q6 -2 -7 -119"/><path d="M38 113Q7 0 45 -110"/><path d="M-81 87Q-10 3 -117 -21"/><path d="M54 106Q3 2 119 9"/><path d="M1 119Q6 5 118 -13"/><path d="M119 8Q4 8 -66 99"/><path d="M-47 -109Q-9 -9 -110 -46"/><path d="M-63 101Q1 1 107 -51"/><path d="M112 41Q16 11 78 90"/><path d="M30 -115Q13 -20 91 -77"/><path d="M113 -38Q16 -12 67 -98"/><path d="M-96 70Q-19 -2 -81 -87"/><path d="M93 74Q3 3 70 96"/><path d="M-5 119Q2 1 95 -72"/><path d="M-38 -113Q-10 -5 -115 31"/><path d="M-119 2Q-2 -4 69 -97"/><path d="M109 48Q4 -5 -74 -93"/><path d="M-39 -112Q-13 -17 -98 -68"/><path d="M80 88Q-0 11 -81 87"/><path d="M-75 -93Q-18 -1 -80 88"/><path d="M24 -116Q3 0 4 119"/><path d="M119 11Q1 4 -93 75"/><path d="M98 68Q0 -0 -93 -74"/><path d="M68 98Q2 13 -43 111"/><path d="M-119 5Q-0 -1 113 -38"/><path d="M7 119Q12 10 119 -5"/><path d="M-43 111Q2 27 58 104"/><path d="M-50 108Q3 20 76 91"/><path d="M-90 -78Q1 -4 117 -20"/><path d="M22 117Q-4 2 -76 -91"/><path d="M11 119Q14 19 109 47"/><path d="M91 76Q3 -0 63 -101"/><path d="M76 92Q9 18 30 115"/><path d="M-94 -73Q-14 3 -55 106"/><path d="M-69 -97Q-8 -4 -119 -3"/><path d="M35 114Q2 26 -21 117"/><path d="M114 33Q1 -2 -108 -50"/><path d="M14 118Q3 2 109 -48"/><path d="M-51 107Q2 17 70 97"/><path d="M90 77Q20 21 72 95"/></g></g><g transform="translate(569.5,266.7)"><path fill="#C2C2BD" stroke="#3C3C3C" stroke-width="1" d="M164.4 -0.1A164.4 164.4 0 0 1 143.6 80L138.6 77.1A158.6 158.6 0 0 0 158.6 -0.1ZM142.2 82.4A164.4 164.4 0 0 1 93.1 135.5L89.8 130.7A158.6 158.6 0 0 0 137.2 79.5ZM90.7 137.1A164.4 164.4 0 0 1 22.9 162.8L22.1 157.1A158.6 158.6 0 0 0 87.5 132.3ZM20 163.2A164.4 164.4 0 0 1 -46.7 157.6L-45 152.1A158.6 158.6 0 0 0 19.3 157.4ZM-49.4 156.8A164.4 164.4 0 0 1 -106.6 125.2L-102.8 120.8A158.6 158.6 0 0 0 -47.7 151.3ZM-108.7 123.3A164.4 164.4 0 0 1 -141.8 83.2L-136.8 80.3A158.6 158.6 0 0 0 -104.9 119ZM-143.2 80.7A164.4 164.4 0 0 1 -161.2 32.5L-155.5 31.3A158.6 158.6 0 0 0 -138.2 77.9ZM-161.7 29.7A164.4 164.4 0 0 1 -163.1 -20.6L-157.3 -19.9A158.6 158.6 0 0 0 -156 28.6ZM-162.7 -23.4A164.4 164.4 0 0 1 -147.9 -71.8L-142.7 -69.3A158.6 158.6 0 0 0 -157 -22.6ZM-146.6 -74.4A164.4 164.4 0 0 1 -118.1 -114.4L-113.9 -110.4A158.6 158.6 0 0 0 -141.4 -71.8ZM-116 -116.5A164.4 164.4 0 0 1 -76.2 -145.7L-73.5 -140.6A158.6 158.6 0 0 0 -112 -112.3ZM-73.6 -147A164.4 164.4 0 0 1 -28.8 -161.9L-27.8 -156.1A158.6 158.6 0 0 0 -71 -141.8ZM-26 -162.3A164.4 164.4 0 0 1 19.8 -163.2L19.1 -157.5A158.6 158.6 0 0 0 -25.1 -156.6ZM22.6 -162.8A164.4 164.4 0 0 1 64.8 -151.1L62.5 -145.8A158.6 158.6 0 0 0 21.8 -157.1ZM67.4 -150A164.4 164.4 0 0 1 102.3 -128.7L98.7 -124.1A158.6 158.6 0 0 0 65 -144.7ZM104.6 -126.9A164.4 164.4 0 0 1 132.5 -97.3L127.8 -93.9A158.6 158.6 0 0 0 100.9 -122.4ZM134.2 -95A164.4 164.4 0 0 1 151 -65L145.7 -62.7A158.6 158.6 0 0 0 129.4 -91.6ZM152.1 -62.4A164.4 164.4 0 0 1 160.9 -33.9L155.2 -32.7A158.6 158.6 0 0 0 146.7 -60.2ZM161.4 -31.1A164.4 164.4 0 0 1 164.4 -3L158.6 -2.9A158.6 158.6 0 0 0 155.7 -30Z"/><path fill="none" stroke="#222" stroke-width="0.9" d="M167.6 -0.1A167.6 167.6 0 0 1 146.4 81.5M145 84.1A167.6 167.6 0 0 1 94.9 138.1M92.5 139.8A167.6 167.6 0 0 1 23.3 166M20.4 166.4A167.6 167.6 0 0 1 -47.6 160.7M-50.4 159.8A167.6 167.6 0 0 1 -108.6 127.6M-110.8 125.7A167.6 167.6 0 0 1 -144.6 84.8M-146 82.3A167.6 167.6 0 0 1 -164.3 33.1M-164.8 30.3A167.6 167.6 0 0 1 -166.3 -21M-165.9 -23.9A167.6 167.6 0 0 1 -150.8 -73.2M-149.5 -75.8A167.6 167.6 0 0 1 -120.4 -116.6M-118.3 -118.7A167.6 167.6 0 0 1 -77.6 -148.5M-75 -149.9A167.6 167.6 0 0 1 -29.4 -165M-26.5 -165.5A167.6 167.6 0 0 1 20.1 -166.4M23 -166A167.6 167.6 0 0 1 66 -154M68.7 -152.9A167.6 167.6 0 0 1 104.3 -131.2M106.6 -129.3A167.6 167.6 0 0 1 135.1 -99.2M136.8 -96.8A167.6 167.6 0 0 1 153.9 -66.3M155.1 -63.6A167.6 167.6 0 0 1 164 -34.6M164.6 -31.7A167.6 167.6 0 0 1 167.6 -3.1"/><path stroke="#333" stroke-width="0.7" d="M167.5 6.4L169.1 6.5M167.1 13L168.7 13.1M166.5 19.6L168 19.7M164.4 32.6L166 32.9M163 39L164.6 39.4M161.3 45.4L162.9 45.8M157.3 57.9L158.8 58.4M154.9 64L156.4 64.6M152.3 70L153.7 70.7M141.6 89.7L142.9 90.5M138 95.2L139.3 96.1M134.1 100.5L135.4 101.5M125.8 110.7L127 111.8M121.4 115.6L122.5 116.7M116.7 120.3L117.9 121.4M106.9 129L108 130.3M101.8 133.1L102.8 134.4M96.5 137L97.4 138.3M86.9 143.3L87.8 144.7M81.3 146.6L82 148M75.4 149.7L76.2 151.1M63.5 155.1L64.1 156.6M57.3 157.5L57.9 159M51.1 159.6L51.6 161.1M38.4 163.1L38.8 164.7M32 164.5L32.3 166.1M25.5 165.6L25.7 167.2M13.9 167L14 168.6M7.3 167.4L7.4 169M0.7 167.6L0.7 169.2M-12.4 167.1L-12.5 168.7M-19 166.5L-19.2 168.1M-25.5 165.6L-25.7 167.2M-38.4 163.1L-38.8 164.7M-44.8 161.5L-45.2 163M-56.6 157.7L-57.2 159.2M-62.8 155.4L-63.4 156.9M-68.8 152.8L-69.5 154.3M-80.6 146.9L-81.4 148.3M-86.3 143.7L-87.1 145M-91.9 140.2L-92.8 141.5M-102.6 132.5L-103.6 133.8M-107.7 128.4L-108.8 129.6M-115.7 121.3L-116.8 122.4M-120.4 116.6L-121.5 117.7M-124.8 111.8L-126 112.9M-133.2 101.7L-134.5 102.7M-137.1 96.4L-138.4 97.3M-140.8 90.9L-142.1 91.8M-149.1 76.5L-150.6 77.2M-152 70.6L-153.5 71.2M-154.7 64.5L-156.2 65.2M-159.3 52.2L-160.8 52.7M-161.2 45.9L-162.7 46.4M-162.9 39.6L-164.4 39.9M-165.9 23.8L-167.5 24M-166.7 17.2L-168.3 17.4M-167.3 10.7L-168.9 10.8M-167.6 -2.5L-169.2 -2.5M-167.4 -9.1L-169 -9.2M-166.9 -15.6L-168.5 -15.8M-164.8 -30.4L-166.4 -30.7M-163.5 -36.8L-165.1 -37.2M-161.9 -43.2L-163.5 -43.6M-158 -55.8L-159.5 -56.3M-155.7 -62L-157.2 -62.6M-153.2 -68L-154.6 -68.7M-146.4 -81.6L-147.8 -82.4M-143.1 -87.3L-144.4 -88.2M-139.5 -92.9L-140.8 -93.8M-131.8 -103.5L-133.1 -104.5M-127.6 -108.6L-128.9 -109.7M-123.3 -113.6L-124.4 -114.6M-113.6 -123.3L-114.6 -124.4M-108.6 -127.6L-109.7 -128.9M-103.5 -131.8L-104.5 -133.1M-92.9 -139.5L-93.8 -140.8M-87.3 -143.1L-88.2 -144.4M-81.6 -146.4L-82.4 -147.8M-69.1 -152.7L-69.8 -154.1M-63.1 -155.3L-63.7 -156.8M-56.9 -157.6L-57.5 -159.1M-44.4 -161.6L-44.8 -163.2M-38 -163.2L-38.3 -164.8M-31.5 -164.6L-31.8 -166.2M-20 -166.4L-20.2 -168M-13.4 -167.1L-13.6 -168.7M-6.9 -167.5L-6.9 -169.1M6.3 -167.5L6.3 -169.1M12.9 -167.1L13 -168.7M19.4 -166.5L19.6 -168.1M29.5 -165L29.8 -166.6M36 -163.7L36.3 -165.3M42.4 -162.2L42.8 -163.7M55 -158.3L55.5 -159.8M61.2 -156L61.7 -157.5M74.7 -150.1L75.4 -151.5M80.5 -147L81.3 -148.4M86.2 -143.7L87 -145.1M97.2 -136.5L98.1 -137.8M102.5 -132.6L103.5 -133.9M111.6 -125L112.7 -126.2M116.4 -120.6L117.5 -121.7M121.1 -115.9L122.2 -117M129.8 -106L131 -107.1M133.9 -100.9L135.1 -101.8M140.5 -91.4L141.8 -92.3M144 -85.8L145.3 -86.6M147.2 -80.1L148.6 -80.9M153.1 -68.3L154.5 -69M157.4 -57.5L158.9 -58M159.6 -51.2L161.1 -51.7M161.5 -44.9L163 -45.4M165.7 -25.2L167.3 -25.4M166.6 -18.7L168.1 -18.9M167.2 -12.1L168.8 -12.2"/><path stroke="#222" stroke-width="0.9" d="M167.6 -0.1L170.9 -0.1M165.6 26.1L168.8 26.6M159.4 51.7L162.6 52.7M149.4 76L152.3 77.5M145 84.1L147.9 85.7M130.1 105.7L132.6 107.8M111.9 124.7L114.1 127.2M92.5 139.8L94.3 142.5M69.5 152.5L70.9 155.5M44.8 161.5L45.7 164.7M20.4 166.4L20.8 169.6M-5.8 167.5L-6 170.8M-32 164.5L-32.6 167.8M-50.4 159.8L-51.4 163M-74.8 150L-76.3 152.9M-97.3 136.4L-99.2 139.1M-110.8 125.7L-113 128.2M-129.1 106.8L-131.7 108.9M-144.3 85.3L-147.1 87M-146 82.3L-148.9 83.9M-157.1 58.4L-160.2 59.6M-164.3 33.1L-167.5 33.8M-164.8 30.3L-168.1 30.9M-167.5 4.1L-170.8 4.2M-165.9 -23.9L-169.2 -24.4M-160.1 -49.6L-163.3 -50.5M-149.5 -75.8L-152.4 -77.3M-135.8 -98.3L-138.4 -100.2M-118.3 -118.7L-120.6 -121.1M-98.3 -135.8L-100.2 -138.4M-75 -149.9L-76.5 -152.8M-50.7 -159.8L-51.7 -162.9M-26.5 -165.5L-27 -168.7M-0.3 -167.6L-0.3 -170.9M23 -166L23.5 -169.3M48.7 -160.4L49.7 -163.5M68.7 -152.9L70.1 -155.9M91.8 -140.2L93.6 -143M106.6 -129.3L108.7 -131.9M125.5 -111.1L128 -113.2M136.8 -96.8L139.5 -98.8M150.3 -74.3L153.2 -75.7M155.1 -63.6L158.1 -64.8M163.1 -38.6L166.3 -39.3M164.6 -31.7L167.8 -32.3M167.5 -5.6L170.8 -5.7"/><g font-size="4.3" fill="#444" text-anchor="middle"><text transform="translate(173.2,4.1) rotate(-88.6)" dy="1.4">0Mb</text><text transform="translate(171.1,26.9) rotate(-81.1)" dy="1.4">20Mb</text><text transform="translate(164.8,53.4) rotate(-72.1)" dy="1.4">40Mb</text><text transform="translate(154.4,78.5) rotate(-63.1)" dy="1.4">60Mb</text><text transform="translate(147.7,90.5) rotate(-58.5)" dy="1.4">0Mb</text><text transform="translate(134.4,109.2) rotate(-50.9)" dy="1.4">20Mb</text><text transform="translate(115.7,128.9) rotate(-41.9)" dy="1.4">40Mb</text><text transform="translate(92,146.7) rotate(-32.1)" dy="1.4">0Mb</text><text transform="translate(71.8,157.6) rotate(-24.5)" dy="1.4">20Mb</text><text transform="translate(46.3,166.9) rotate(-15.5)" dy="1.4">40Mb</text><text transform="translate(16.9,172.4) rotate(-5.6)" dy="1.4">0Mb</text><text transform="translate(-6,173.1) rotate(2)" dy="1.4">20Mb</text><text transform="translate(-33,170) rotate(11)" dy="1.4">40Mb</text><text transform="translate(-56.1,163.9) rotate(18.9)" dy="1.4">0Mb</text><text transform="translate(-77.3,155) rotate(26.5)" dy="1.4">20Mb</text><text transform="translate(-100.6,141) rotate(35.5)" dy="1.4">40Mb</text><text transform="translate(-117.7,127.1) rotate(42.8)" dy="1.4">0Mb</text><text transform="translate(-133.5,110.4) rotate(50.4)" dy="1.4">20Mb</text><text transform="translate(-149.1,88.2) rotate(59.4)" dy="1.4">40Mb</text><text transform="translate(-152.9,81.3) rotate(62)" dy="1.4">0Mb</text><text transform="translate(-162.3,60.4) rotate(69.6)" dy="1.4">20Mb</text><text transform="translate(-169.8,34.2) rotate(78.6)" dy="1.4">40Mb</text><text transform="translate(-171.1,27.1) rotate(81)" dy="1.4">0Mb</text><text transform="translate(-173.1,4.2) rotate(88.6)" dy="1.4">20Mb</text><text transform="translate(-170.8,-28.9) rotate(-80.4)" dy="1.4">0Mb</text><text transform="translate(-165.5,-51.2) rotate(-72.8)" dy="1.4">20Mb</text><text transform="translate(-152.5,-82.1) rotate(-61.7)" dy="1.4">0Mb</text><text transform="translate(-140.3,-101.6) rotate(-54.1)" dy="1.4">20Mb</text><text transform="translate(-119.2,-125.6) rotate(-43.5)" dy="1.4">0Mb</text><text transform="translate(-101.6,-140.3) rotate(-35.9)" dy="1.4">20Mb</text><text transform="translate(-73.7,-156.7) rotate(-25.2)" dy="1.4">0Mb</text><text transform="translate(-52.4,-165.1) rotate(-17.6)" dy="1.4">20Mb</text><text transform="translate(-23.2,-171.6) rotate(-7.7)" dy="1.4">0Mb</text><text transform="translate(-0.3,-173.2) rotate(-0.1)" dy="1.4">20Mb</text><text transform="translate(28,-170.9) rotate(9.3)" dy="1.4">0Mb</text><text transform="translate(50.3,-165.7) rotate(16.9)" dy="1.4">20Mb</text><text transform="translate(74.8,-156.2) rotate(25.6)" dy="1.4">0Mb</text><text transform="translate(94.8,-144.9) rotate(33.2)" dy="1.4">20Mb</text><text transform="translate(113.4,-130.9) rotate(40.9)" dy="1.4">0Mb</text><text transform="translate(129.7,-114.8) rotate(48.5)" dy="1.4">20Mb</text><text transform="translate(143.8,-96.6) rotate(56.1)" dy="1.4">0Mb</text><text transform="translate(155.3,-76.7) rotate(63.7)" dy="1.4">20Mb</text><text transform="translate(161.8,-61.8) rotate(69.1)" dy="1.4">0Mb</text><text transform="translate(168.6,-39.8) rotate(76.7)" dy="1.4">20Mb</text><text transform="translate(170.8,-28.6) rotate(80.5)" dy="1.4">0Mb</text><text transform="translate(173.1,-5.7) rotate(88.1)" dy="1.4">20Mb</text></g><g font-size="11.5" text-anchor="middle"><text transform="translate(174.4,45.2) rotate(-75.5)" dy="4">1</text><text transform="translate(132.2,122.4) rotate(-47.2)" dy="4">2</text><text transform="translate(63.8,168.5) rotate(-20.8)" dy="4">3</text><text transform="translate(-14.9,179.6) rotate(4.8)" dy="4">4</text><text transform="translate(-87.2,157.7) rotate(28.9)" dy="4">5</text><text transform="translate(-139,114.6) rotate(50.5)" dy="4">6</text><text transform="translate(-168.9,62.8) rotate(69.6)" dy="4">7</text><text transform="translate(-180.1,5) rotate(88.4)" dy="4">8</text><text transform="translate(-172.3,-52.8) rotate(-72.9)" dy="4">9</text><text transform="translate(-146.7,-104.6) rotate(-54.5)" dy="4">10</text><text transform="translate(-106.6,-145.3) rotate(-36.2)" dy="4">11</text><text transform="translate(-56.7,-171) rotate(-18.4)" dy="4">12</text><text transform="translate(-3.5,-180.2) rotate(-1.1)" dy="4">13</text><text transform="translate(48.3,-173.6) rotate(15.5)" dy="4">14</text><text transform="translate(93.8,-153.9) rotate(31.4)" dy="4">15</text><text transform="translate(130.9,-123.8) rotate(46.6)" dy="4">16</text><text transform="translate(157.1,-88.2) rotate(60.7)" dy="4">17</text><text transform="translate(172.2,-53) rotate(72.9)" dy="4">18</text><text transform="translate(179.2,-18.8) rotate(84)" dy="4">19</text></g><circle r="148" fill="none" stroke="#E31A1C" stroke-opacity="0.78" stroke-width="7" stroke-dasharray="0.0 6.0 0.8 11.3 0.7 4.0 0.7 0.5 2.7 7.7 2.1 6.3 1.7 34.0 1.6 13.1 1.3 0.6 0.9 0.7 0.7 6.1 0.8 11.6 0.8 2.6 0.7 2.3 0.7 1.5 2.1 2.2 0.7 7.6 1.8 10.4 0.8 2.8 3.8 4.3 1.3 3.4 0.9 0.5 0.8 5.6 1.1 5.9 3.7 3.2 3.6 1.6 0.8 3.9 2.9 1.9 1.0 2.8 2.2 3.2 1.2 9.4 0.8 1.6 0.7 3.9 0.7 13.6 1.5 9.0 0.8 8.7 1.0 0.6 0.9 3.0 1.6 7.7 0.9 0.6 1.2 6.9 1.0 0.4 2.1 4.6 0.9 1.0 0.7 16.4 3.8 5.7 0.9 3.5 3.1 0.9 1.3 0.5 0.9 4.6 0.8 1.7 1.5 5.7 1.0 1.6 3.0 1.0 1.3 0.5 1.0 3.9 0.8 2.4 1.0 1.6 0.9 8.2 2.1 1.0 2.0 2.0 0.8 7.3 2.1 3.9 1.9 6.1 0.7 0.9 1.5 3.0 1.8 1.6 3.8 2.6 2.1 6.9 1.3 1.2 1.0 3.9 4.5 2.4 2.8 1.9 0.9 1.2 3.0 1.1 2.4 3.7 0.9 2.8 1.5 1.2 0.7 8.0 1.0 1.9 4.1 3.7 1.5 2.3 0.9 7.4 1.3 0.7 0.7 9.8 0.8 4.0 1.9 3.9 1.5 0.6 0.9 9.8 0.7 1.6 7.7 7.1 0.9 2.7 1.6 2.6 0.9 1.5 2.1 1.6 1.0 3.8 2.1 1.2 0.9 8.2 0.9 3.5 1.8 0.6 1.0 1.0 2.4 0.7 2.1 1.2 2.1 3.2 0.8 0.3 1.0 3.1 3.7 2.8 2.1 2.9 1.3 0.3 1.8 5.5 3.5 1.5 0.9 4.1 1.3 1.7 0.7 1.4 3.4 3.8 1.3 14.9 1.3 3.1 1.7 2.3 0.8 10.6 1.1 1.1 1.0 1.9 4.0 6.3 0.9 4.6 1.3 11.7 0.8 3.1 2.1 1.9 0.8 4.8 0.7 10.0 2.2 0.6 0.7 3.4 0.7 5.5 1.9 9.4 0.7 2.2 0.8 0.3 0.7 29.1 2.1 4.2 1.0 5.5 1.5 1.0 2.1 1.6 1.6 5.8 3.0 7.3 1.6 4.9 1.3 0.7 1.5 5.5 0.9 15.6 0.8 4.8 0.9 2.8 0.9 18.3 3.0 0.6 0.7 1.6 0.9 6.0 3.1 2.1 3.5 3.0 0.7 2.2"/><circle r="148" fill="none" stroke="#E31A1C" stroke-opacity="0.78" stroke-width="7" stroke-dasharray="0.0 1.5 1.9 0.6 1.3 3.1 0.9 11.9 0.8 13.8 1.3 10.4 1.0 2.3 1.2 6.8 1.3 6.7 0.7 3.8 1.5 9.3 0.8 0.5 1.5 3.2 1.6 1.0 0.8 7.6 5.4 2.9 1.8 8.1 0.9 1.0 3.4 8.8 1.7 3.4 0.9 18.2 1.3 1.9 1.3 4.8 1.1 1.6 2.1 2.7 0.8 4.4 0.7 2.5 3.1 1.0 1.5 1.8 1.0 2.1 1.2 3.0 2.1 5.9 2.4 1.8 2.4 6.4 1.3 2.3 0.9 4.2 7.0 3.0 3.2 3.9 4.7 6.0 0.8 2.7 0.7 20.9 0.7 3.2 1.5 1.6 4.1 5.3 3.6 1.8 1.3 2.3 1.6 6.4 1.3 6.9 2.2 1.3 1.3 0.6 1.3 0.4 0.8 1.6 1.0 10.5 1.0 3.4 0.9 5.0 2.8 8.0 0.8 6.7 1.0 7.5 1.0 1.4 1.0 9.9 1.5 2.8 1.0 2.1 1.5 5.3 0.9 1.2 1.0 3.9 2.6 2.6 2.6 0.4 0.9 0.8 3.4 1.2 1.5 2.1 1.0 12.5 2.1 9.4 4.2 3.3 0.8 13.6 0.9 0.3 1.3 7.3 2.0 2.1 1.1 4.2 1.0 1.5 0.8 2.4 2.4 1.2 1.5 1.7 0.8 0.4 0.9 1.7 0.8 11.3 2.1 0.4 0.9 3.1 1.5 9.7 0.7 1.8 2.2 0.7 1.5 0.5 2.1 2.1 1.5 0.9 3.4 2.1 1.3 4.7 1.3 8.6 1.0 9.8 0.9 2.8 1.6 5.2 3.9 5.0 0.7 2.7 2.1 1.2 0.7 1.4 0.8 4.9 2.1 0.7 0.8 2.0 0.9 2.8 1.0 5.3 1.3 4.5 0.7 8.4 0.9 8.5 1.5 12.6 0.9 0.5 1.7 4.1 1.9 0.6 2.1 2.5 2.1 3.9 0.8 4.5 3.5 0.8 2.1 2.4 2.1 0.6 0.8 4.4 0.7 1.7 0.7 2.6 0.9 5.8 1.0 2.2 0.7 1.4 2.8 5.5 3.0 2.7 2.1 3.3 1.0 5.0 2.3 14.8 1.0 1.4 2.1 9.4 0.7 1.3 1.0 7.2 0.7 2.4 0.8 2.9 0.7 0.8 0.7 2.0 1.3 0.5 3.0 0.8 1.5 1.0 1.5 7.2 2.4 0.7 1.5 3.3 1.3 6.5 0.7 6.8 1.0 6.9 0.7 0.4 1.3 0.6 1.5 0.6 0.8 8.5 0.9 0.5 1.0 2.4 0.7 9.7 2.1 3.4 1.5 3.4 1.0 7.2 1.0 1.4 2.1 1.6 2.6 2.1 0.8 7.5"/><path d="M-150.9 -9.8A151.2 151.2 0 0 1 -150.5 -14.6L-144.1 -14A144.8 144.8 0 0 0 -144.5 -9.4Z" fill="#E31A1C" fill-opacity="0.3" stroke="#E31A1C" stroke-opacity="0.85" stroke-width="0.8"/><path d="M-69.8 134.1A151.2 151.2 0 0 1 -75.3 131.1L-72.1 125.5A144.8 144.8 0 0 0 -66.8 128.5Z" fill="#E31A1C" fill-opacity="0.3" stroke="#E31A1C" stroke-opacity="0.85" stroke-width="0.8"/><path d="M-145.5 -41.2A151.2 151.2 0 0 1 -143.6 -47.3L-137.5 -45.3A144.8 144.8 0 0 0 -139.3 -39.5Z" fill="#E31A1C" fill-opacity="0.3" stroke="#E31A1C" stroke-opacity="0.85" stroke-width="0.8"/><path d="M-146.2 -38.7A151.2 151.2 0 0 1 -144.4 -44.8L-138.3 -42.9A144.8 144.8 0 0 0 -140 -37.1Z" fill="#E31A1C" fill-opacity="0.3" stroke="#E31A1C" stroke-opacity="0.85" stroke-width="0.8"/><path d="M102.7 111A151.2 151.2 0 0 1 99.9 113.5L95.7 108.7A144.8 144.8 0 0 0 98.3 106.3Z" fill="#E31A1C" fill-opacity="0.3" stroke="#E31A1C" stroke-opacity="0.85" stroke-width="0.8"/><path d="M-109.8 104A151.2 151.2 0 0 1 -115.4 97.7L-110.5 93.5A144.8 144.8 0 0 0 -105.1 99.6Z" fill="#E31A1C" fill-opacity="0.3" stroke="#E31A1C" stroke-opacity="0.85" stroke-width="0.8"/><path d="M-149.4 23.3A151.2 151.2 0 0 1 -149.9 19.7L-143.6 18.9A144.8 144.8 0 0 0 -143.1 22.4Z" fill="#E31A1C" fill-opacity="0.3" stroke="#E31A1C" stroke-opacity="0.85" stroke-width="0.8"/><path d="M-134.8 68.4A151.2 151.2 0 0 1 -135.7 66.8L-129.9 63.9A144.8 144.8 0 0 0 -129.1 65.5Z" fill="#E31A1C" fill-opacity="0.3" stroke="#E31A1C" stroke-opacity="0.85" stroke-width="0.8"/><path d="M114.5 98.8A151.2 151.2 0 0 1 112.9 100.6L108.1 96.3A144.8 144.8 0 0 0 109.6 94.6Z" fill="#E31A1C" fill-opacity="0.3" stroke="#E31A1C" stroke-opacity="0.85" stroke-width="0.8"/><path d="M101.2 112.4A151.2 151.2 0 0 1 99.4 114L95.2 109.1A144.8 144.8 0 0 0 96.9 107.6Z" fill="#E31A1C" fill-opacity="0.3" stroke="#E31A1C" stroke-opacity="0.85" stroke-width="0.8"/><path d="M27.6 148.7A151.2 151.2 0 0 1 25.8 149L24.7 142.7A144.8 144.8 0 0 0 26.4 142.4Z" fill="#E31A1C" fill-opacity="0.3" stroke="#E31A1C" stroke-opacity="0.85" stroke-width="0.8"/><path d="M-138 61.9A151.2 151.2 0 0 1 -139.4 58.5L-133.5 56A144.8 144.8 0 0 0 -132.1 59.3Z" fill="#E31A1C" fill-opacity="0.3" stroke="#E31A1C" stroke-opacity="0.85" stroke-width="0.8"/><path d="M-128.7 79.4A151.2 151.2 0 0 1 -130.2 76.9L-124.7 73.6A144.8 144.8 0 0 0 -123.3 76Z" fill="#E31A1C" fill-opacity="0.3" stroke="#E31A1C" stroke-opacity="0.85" stroke-width="0.8"/><path d="M-146.8 -36.1A151.2 151.2 0 0 1 -145.2 -42.2L-139.1 -40.4A144.8 144.8 0 0 0 -140.6 -34.5Z" fill="#E31A1C" fill-opacity="0.3" stroke="#E31A1C" stroke-opacity="0.85" stroke-width="0.8"/><path d="M-49.2 143A151.2 151.2 0 0 1 -53.6 141.4L-51.4 135.4A144.8 144.8 0 0 0 -47.1 136.9Z" fill="#E31A1C" fill-opacity="0.3" stroke="#E31A1C" stroke-opacity="0.85" stroke-width="0.8"/><path d="M-128.3 -80A151.2 151.2 0 0 1 -127.3 -81.6L-121.9 -78.1A144.8 144.8 0 0 0 -122.9 -76.6Z" fill="#E31A1C" fill-opacity="0.3" stroke="#E31A1C" stroke-opacity="0.85" stroke-width="0.8"/><path d="M-111.1 102.5A151.2 151.2 0 0 1 -115.3 97.8L-110.4 93.6A144.8 144.8 0 0 0 -106.4 98.2Z" fill="#E31A1C" fill-opacity="0.3" stroke="#E31A1C" stroke-opacity="0.85" stroke-width="0.8"/><path d="M150.8 -10.3A151.2 151.2 0 0 1 151 -8L144.6 -7.6A144.8 144.8 0 0 0 144.5 -9.9Z" fill="#E31A1C" fill-opacity="0.3" stroke="#E31A1C" stroke-opacity="0.85" stroke-width="0.8"/><path d="M-123.5 87.2A151.2 151.2 0 0 1 -126.2 83.3L-120.8 79.8A144.8 144.8 0 0 0 -118.3 83.5Z" fill="#E31A1C" fill-opacity="0.3" stroke="#E31A1C" stroke-opacity="0.85" stroke-width="0.8"/><path d="M-147.7 32.2A151.2 151.2 0 0 1 -148.2 29.9L-141.9 28.6A144.8 144.8 0 0 0 -141.5 30.8Z" fill="#E31A1C" fill-opacity="0.3" stroke="#E31A1C" stroke-opacity="0.85" stroke-width="0.8"/><path d="M-116.1 -96.9A151.2 151.2 0 0 1 -113.7 -99.7L-108.8 -95.5A144.8 144.8 0 0 0 -111.1 -92.8Z" fill="#E31A1C" fill-opacity="0.3" stroke="#E31A1C" stroke-opacity="0.85" stroke-width="0.8"/><path d="M-70.7 133.6A151.2 151.2 0 0 1 -72.4 132.8L-69.3 127.1A144.8 144.8 0 0 0 -67.7 128Z" fill="#E31A1C" fill-opacity="0.3" stroke="#E31A1C" stroke-opacity="0.85" stroke-width="0.8"/><circle r="138" fill="none" stroke="#3E9F3B" stroke-opacity="0.78" stroke-width="7" stroke-dasharray="0.0 66.4 0.7 11.1 1.2 1.9 1.4 1.1 0.7 14.3 0.7 10.8 0.7 14.9 1.6 0.6 0.7 3.5 0.7 28.3 1.0 3.2 0.7 2.8 1.2 5.9 0.8 10.2 0.7 2.7 1.0 1.3 0.7 9.0 0.7 15.5 0.7 2.0 0.7 13.1 1.9 14.1 0.8 9.3 1.4 0.7 1.0 6.7 1.2 3.2 1.4 10.6 0.7 3.1 0.7 21.9 0.8 23.0 1.9 7.0 1.0 16.8 1.9 2.2 0.7 1.8 0.8 5.8 0.7 4.6 0.7 1.9 1.9 2.1 0.7 1.9 2.1 2.7 0.7 4.0 0.7 3.1 1.2 8.5 0.7 1.7 2.9 0.8 1.9 7.2 1.4 9.9 1.0 1.0 1.4 9.1 0.7 7.0 0.7 15.1 2.5 11.8 1.9 12.6 1.0 3.4 1.2 5.6 1.0 4.6 3.3 6.3 0.7 3.7 3.1 7.0 1.9 32.5 1.4 33.5 1.4 1.3 2.4 9.1 1.4 7.4 1.2 15.6 1.9 0.7 1.4 9.1 1.0 6.2 1.2 1.3 0.7 3.1 1.2 25.8 1.2 13.8 1.2 6.8 1.4 38.5 1.0 19.5 0.8 48.8 1.9 6.4 0.7 14.5"/><circle r="138" fill="none" stroke="#3E9F3B" stroke-opacity="0.78" stroke-width="7" stroke-dasharray="0.0 11.5 1.0 5.0 1.2 24.9 3.0 8.8 1.4 19.8 0.7 4.9 1.3 15.9 0.7 22.7 1.4 21.2 0.7 3.0 1.2 15.9 1.0 42.1 0.7 0.7 1.4 6.6 1.4 21.2 0.7 8.8 0.8 23.9 0.7 7.0 1.9 4.3 2.2 0.6 1.0 0.5 0.7 18.5 0.7 7.0 1.4 14.5 0.7 1.9 0.7 0.8 0.8 11.3 1.9 8.7 1.2 14.3 1.4 9.3 1.4 12.2 1.4 5.6 1.4 1.1 0.7 3.6 1.9 9.7 1.0 12.5 1.9 5.5 1.2 8.9 0.8 2.0 1.3 8.9 0.7 10.4 0.7 0.9 1.2 0.8 0.8 17.4 1.4 5.8 0.7 11.6 2.6 14.1 2.6 0.5 0.7 9.5 1.2 0.3 0.8 4.8 0.8 4.3 1.0 20.0 1.0 1.8 0.7 5.6 1.2 11.0 1.2 5.8 0.7 17.3 0.8 0.8 1.6 26.8 1.2 0.3 1.0 3.7 1.0 3.5 0.8 1.0 1.9 2.7 1.4 2.1 0.7 5.3 0.8 26.2 1.4 8.6 1.9 7.3 1.4 7.1 1.7 0.7 1.7 66.5 1.9 13.5 1.2 2.5 0.8 29.7"/><path d="M51.1 131.6A141.2 141.2 0 0 1 48.5 132.6L46.3 126.6A134.8 134.8 0 0 0 48.8 125.7Z" fill="#3E9F3B" fill-opacity="0.3" stroke="#3E9F3B" stroke-opacity="0.85" stroke-width="0.8"/><path d="M-86 -112A141.2 141.2 0 0 1 -81.3 -115.5L-77.6 -110.2A134.8 134.8 0 0 0 -82.1 -106.9Z" fill="#3E9F3B" fill-opacity="0.3" stroke="#3E9F3B" stroke-opacity="0.85" stroke-width="0.8"/><path d="M99 100.7A141.2 141.2 0 0 1 97.4 102.2L93 97.6A134.8 134.8 0 0 0 94.5 96.1Z" fill="#3E9F3B" fill-opacity="0.3" stroke="#3E9F3B" stroke-opacity="0.85" stroke-width="0.8"/><path d="M-120 74.4A141.2 141.2 0 0 1 -121.8 71.5L-116.3 68.2A134.8 134.8 0 0 0 -114.6 71Z" fill="#3E9F3B" fill-opacity="0.3" stroke="#3E9F3B" stroke-opacity="0.85" stroke-width="0.8"/><path d="M-95.1 104.3A141.2 141.2 0 0 1 -96.8 102.8L-92.4 98.2A134.8 134.8 0 0 0 -90.8 99.6Z" fill="#3E9F3B" fill-opacity="0.3" stroke="#3E9F3B" stroke-opacity="0.85" stroke-width="0.8"/><path d="M-141 -6.8A141.2 141.2 0 0 1 -140.8 -10.3L-134.4 -9.8A134.8 134.8 0 0 0 -134.6 -6.5Z" fill="#3E9F3B" fill-opacity="0.3" stroke="#3E9F3B" stroke-opacity="0.85" stroke-width="0.8"/><path d="M-140.5 -14.2A141.2 141.2 0 0 1 -140.1 -17.6L-133.7 -16.8A134.8 134.8 0 0 0 -134.1 -13.6Z" fill="#3E9F3B" fill-opacity="0.3" stroke="#3E9F3B" stroke-opacity="0.85" stroke-width="0.8"/><path d="M93.1 106.2A141.2 141.2 0 0 1 89.7 109.1L85.6 104.1A134.8 134.8 0 0 0 88.8 101.4Z" fill="#3E9F3B" fill-opacity="0.3" stroke="#3E9F3B" stroke-opacity="0.85" stroke-width="0.8"/><path d="M137.8 -30.8A141.2 141.2 0 0 1 138.2 -29.1L131.9 -27.8A134.8 134.8 0 0 0 131.6 -29.4Z" fill="#3E9F3B" fill-opacity="0.3" stroke="#3E9F3B" stroke-opacity="0.85" stroke-width="0.8"/><path d="M-117.6 78.2A141.2 141.2 0 0 1 -118.8 76.3L-113.4 72.9A134.8 134.8 0 0 0 -112.2 74.6Z" fill="#3E9F3B" fill-opacity="0.3" stroke="#3E9F3B" stroke-opacity="0.85" stroke-width="0.8"/><path d="M26.6 -138.7A141.2 141.2 0 0 1 34.3 -137L32.8 -130.8A134.8 134.8 0 0 0 25.4 -132.4Z" fill="#3E9F3B" fill-opacity="0.3" stroke="#3E9F3B" stroke-opacity="0.85" stroke-width="0.8"/><path d="M-136.9 -34.6A141.2 141.2 0 0 1 -134.7 -42.2L-128.6 -40.3A134.8 134.8 0 0 0 -130.7 -33.1Z" fill="#3E9F3B" fill-opacity="0.3" stroke="#3E9F3B" stroke-opacity="0.85" stroke-width="0.8"/><circle r="129" fill="none" stroke="#3D66AE" stroke-opacity="0.78" stroke-width="7" stroke-dasharray="0.0 26.5 0.7 71.6 1.4 37.6 1.4 1.6 1.4 17.7 1.4 17.1 0.7 12.3 1.8 11.7 0.8 22.5 0.8 2.2 1.4 40.8 0.8 5.5 1.1 21.3 0.7 4.8 1.7 3.4 1.4 4.8 0.8 1.5 0.9 3.5 0.8 2.4 0.9 17.2 1.1 9.9 1.8 47.1 0.7 24.8 0.8 1.3 1.8 23.6 1.8 17.8 1.1 50.4 1.1 8.5 0.7 0.8 1.4 14.6 2.0 9.4 1.8 5.3 0.7 22.3 1.1 32.6 1.8 1.0 1.4 76.6 1.4 95.8"/><circle r="129" fill="none" stroke="#3D66AE" stroke-opacity="0.78" stroke-width="7" stroke-dasharray="0.0 29.6 0.9 133.5 1.1 2.5 0.9 42.9 0.7 8.6 1.8 25.3 1.1 10.2 0.7 11.3 1.4 66.9 1.1 51.2 0.8 9.0 0.8 9.1 0.9 5.3 0.9 13.2 0.7 13.2 0.7 5.0 0.7 2.4 0.7 8.0 1.1 21.3 0.9 6.9 0.9 25.7 1.1 45.3 0.7 25.2 1.1 4.6 0.8 6.6 0.7 7.0 1.1 1.4 0.9 9.7 0.7 3.6 2.6 5.6 0.8 8.1 0.7 8.3 0.7 114.5 1.8 21.8 1.4 13.8"/><path d="M106.8 77.9A132.2 132.2 0 0 1 103.5 82.3L98.4 78.3A125.8 125.8 0 0 0 101.6 74.1Z" fill="#3D66AE" fill-opacity="0.3" stroke="#3D66AE" stroke-opacity="0.85" stroke-width="0.8"/><path d="M-11.2 -131.7A132.2 132.2 0 0 1 -8 -132L-7.6 -125.6A125.8 125.8 0 0 0 -10.6 -125.3Z" fill="#3D66AE" fill-opacity="0.3" stroke="#3D66AE" stroke-opacity="0.85" stroke-width="0.8"/><path d="M85.2 -101.1A132.2 132.2 0 0 1 86.5 -100L82.3 -95.2A125.8 125.8 0 0 0 81.1 -96.2Z" fill="#3D66AE" fill-opacity="0.3" stroke="#3D66AE" stroke-opacity="0.85" stroke-width="0.8"/><path d="M103.4 82.4A132.2 132.2 0 0 1 101.4 84.9L96.5 80.7A125.8 125.8 0 0 0 98.4 78.4Z" fill="#3D66AE" fill-opacity="0.3" stroke="#3D66AE" stroke-opacity="0.85" stroke-width="0.8"/><path d="M-104.7 80.7A132.2 132.2 0 0 1 -106.6 78.1L-101.5 74.3A125.8 125.8 0 0 0 -99.6 76.8Z" fill="#3D66AE" fill-opacity="0.3" stroke="#3D66AE" stroke-opacity="0.85" stroke-width="0.8"/><path d="M-129 28.7A132.2 132.2 0 0 1 -129.6 26.3L-123.3 25A125.8 125.8 0 0 0 -122.8 27.4Z" fill="#3D66AE" fill-opacity="0.3" stroke="#3D66AE" stroke-opacity="0.85" stroke-width="0.8"/><path d="M-38 -126.6A132.2 132.2 0 0 1 -36 -127.2L-34.3 -121A125.8 125.8 0 0 0 -36.2 -120.5Z" fill="#3D66AE" fill-opacity="0.3" stroke="#3D66AE" stroke-opacity="0.85" stroke-width="0.8"/><path d="M-63.8 115.8A132.2 132.2 0 0 1 -65.2 115L-62 109.5A125.8 125.8 0 0 0 -60.7 110.2Z" fill="#3D66AE" fill-opacity="0.3" stroke="#3D66AE" stroke-opacity="0.85" stroke-width="0.8"/><g fill="none" stroke="#8E47A8" stroke-width="1.2" stroke-opacity="0.33"><path d="M-29 115Q-2 2 -119 7"/><path d="M-79 -89Q-13 -10 -104 -58"/><path d="M-100 65Q-7 0 -105 -56"/><path d="M-18 -118Q2 -4 94 -73"/><path d="M83 86Q5 9 30 115"/><path d="M-119 8Q-7 -3 -77 -91"/><path d="M-16 118Q0 10 27 116"/><path d="M-80 88Q-6 2 -119 -10"/><path d="M-99 66Q-5 -4 26 -116"/><path d="M-102 62Q-0 -0 91 -77"/><path d="M-16 118Q2 16 47 109"/><path d="M39 -112Q-0 -3 -64 -100"/><path d="M-30 -115Q-1 0 22 117"/><path d="M95 -72Q3 2 7 119"/><path d="M117 -22Q5 5 -25 116"/><path d="M-116 25Q-1 2 5 119"/><path d="M-30 115Q-0 1 -53 107"/><path d="M-7 119Q-2 8 -48 109"/><path d="M21 -117Q1 -10 -5 -119"/><path d="M58 104Q9 7 115 30"/><path d="M-101 -63Q-1 1 76 91"/><path d="M-62 101Q-0 -0 -47 -109"/><path d="M-118 -19Q-2 0 -109 47"/><path d="M-84 84Q-4 11 5 119"/><path d="M71 96Q1 0 116 28"/><path d="M-95 -71Q-6 -1 -115 31"/><path d="M-30 -115Q0 -4 52 -107"/><path d="M-114 33Q-0 -1 99 -66"/><path d="M-1 119Q3 1 99 -66"/><path d="M68 -97Q-0 -0 -105 -56"/><path d="M18 -118Q0 -0 44 111"/><path d="M6 -119Q-5 -4 -115 30"/><path d="M-119 11Q-5 -1 -103 -59"/><path d="M119 4Q8 1 116 24"/><path d="M76 -91Q1 -1 105 -56"/><path d="M72 95Q-1 2 -110 -47"/><path d="M85 83Q4 -1 22 -117"/><path d="M-104 -57Q0 -3 105 -57"/><path d="M-97 -70Q-0 0 -72 95"/><path d="M49 109Q-1 1 -108 -49"/><path d="M18 -118Q4 -6 93 -74"/><path d="M-31 115Q-9 12 -99 66"/><path d="M-44 -110Q1 -11 59 -104"/><path d="M-112 40Q-0 -1 57 -105"/><path d="M-102 62Q-4 10 20 117"/><path d="M-115 31Q-2 2 -38 113"/><path d="M-55 106Q-2 2 -107 52"/><path d="M-61 102Q1 9 89 79"/><path d="M-60 -103Q1 -9 86 -82"/><path d="M-118 15Q-3 -3 19 -118"/><path d="M4 119Q0 2 18 118"/><path d="M51 108Q1 3 20 117"/><path d="M64 -100Q6 -0 73 94"/><path d="M52 107Q1 0 86 -82"/><path d="M86 -82Q-1 -3 -119 -7"/><path d="M46 110Q-2 2 -116 -26"/><path d="M43 -111Q1 0 -16 118"/><path d="M118 -15Q1 -3 -89 -79"/><path d="M115 -30Q1 -1 5 -119"/><path d="M80 -88Q3 1 -23 117"/><path d="M118 12Q3 7 -59 103"/><path d="M-81 87Q1 6 109 48"/><path d="M14 118Q-4 7 -105 57"/><path d="M-19 118Q3 1 91 -77"/><path d="M-1 119Q-4 6 -113 37"/><path d="M106 -54Q1 1 -41 112"/><path d="M-116 25Q-0 5 112 39"/><path d="M-104 57Q-3 2 -85 84"/><path d="M-114 -34Q-3 -1 -111 -44"/><path d="M71 95Q-0 0 -74 -93"/><path d="M-110 -45Q-6 -9 9 -119"/><path d="M30 115Q-2 2 -112 -41"/><path d="M-60 -103Q-0 -0 -74 93"/><path d="M4 -119Q-6 -13 -95 -71"/><path d="M-45 110Q-5 5 -104 58"/><path d="M119 10Q8 -1 111 -43"/><path d="M-106 53Q-8 7 -72 95"/><path d="M114 -34Q0 1 -91 77"/><path d="M28 116Q-1 0 -43 -111"/><path d="M-68 98Q-8 6 -112 41"/><path d="M72 -95Q-1 -2 -118 13"/><path d="M-105 57Q-6 10 -7 119"/><path d="M92 76Q3 0 102 -62"/><path d="M-105 56Q-8 11 -18 118"/><path d="M82 87Q2 -1 22 -117"/><path d="M76 -91Q12 -12 86 -82"/><path d="M99 -65Q-0 -0 -114 35"/><path d="M-70 -96Q0 -0 119 2"/><path d="M-111 42Q0 0 112 -41"/><path d="M-96 71Q-9 9 -65 100"/><path d="M-9 -119Q8 -9 119 -8"/><path d="M-81 87Q-1 -1 58 -104"/><path d="M-26 -116Q4 -13 90 -77"/><path d="M-15 -118Q-1 -17 -3 -119"/><path d="M69 97Q-0 0 -113 -38"/><path d="M-50 108Q1 1 74 -93"/><path d="M46 -110Q2 -8 -2 -119"/><path d="M90 -78Q10 -7 104 -58"/><path d="M21 -117Q3 -0 34 114"/><path d="M31 115Q-6 5 -111 -43"/><path d="M-104 58Q0 0 118 18"/><path d="M117 23Q0 -0 -95 -71"/><path d="M114 -34Q-0 -2 -118 -19"/><path d="M79 -89Q1 0 13 118"/><path d="M101 -64Q5 3 -20 117"/><path d="M51 107Q-2 2 -114 -35"/><path d="M107 51Q0 0 -89 79"/><path d="M-64 100Q-11 11 -102 62"/><path d="M67 -98Q1 -2 -1 -119"/><path d="M-116 -28Q-0 -1 69 -97"/><path d="M-69 97Q-7 -1 -22 -117"/><path d="M55 -105Q10 -5 117 24"/><path d="M-60 -103Q-0 0 -27 116"/><path d="M89 79Q1 -1 -67 -98"/><path d="M112 -41Q1 -0 109 -47"/><path d="M-26 116Q-2 0 -65 -100"/><path d="M19 -117Q4 -2 108 49"/><path d="M-29 115Q-3 -0 -8 -119"/><path d="M-12 -118Q-5 -4 -119 6"/><path d="M-108 -51Q-1 -3 42 -112"/><path d="M112 40Q2 8 -87 81"/><path d="M95 -71Q3 1 19 117"/><path d="M19 -117Q0 -0 95 -71"/><path d="M-113 39Q0 0 118 -16"/><path d="M-66 -99Q-10 -3 -111 43"/><path d="M-27 -116Q4 -2 80 88"/><path d="M-62 102Q0 2 105 55"/><path d="M111 43Q10 -2 89 -79"/><path d="M-116 25Q-4 -4 14 -118"/><path d="M119 0Q1 -0 116 -26"/><path d="M-61 -102Q0 -0 73 94"/><path d="M72 95Q-1 2 -118 -12"/><path d="M-12 -118Q1 -0 42 111"/><path d="M-103 -59Q-3 -5 5 -119"/><path d="M-108 49Q-6 -4 14 -118"/><path d="M-42 -111Q-10 -10 -112 -41"/><path d="M-115 29Q-0 1 110 46"/><path d="M35 -114Q-2 -5 -91 -77"/><path d="M-50 -108Q1 -1 110 45"/><path d="M117 21Q4 -3 -4 -119"/><path d="M109 48Q2 6 -62 101"/><path d="M62 -102Q9 -3 114 34"/><path d="M108 -50Q2 3 -75 92"/><path d="M-110 -46Q-6 -9 4 -119"/><path d="M45 -110Q-4 -4 -114 34"/><path d="M95 72Q11 3 117 -21"/><path d="M27 116Q-4 7 -110 45"/><path d="M119 9Q9 7 46 110"/><path d="M-119 9Q-16 -2 -113 -37"/><path d="M-80 -88Q0 -3 89 -79"/><path d="M-118 15Q-5 8 28 116"/><path d="M84 84Q1 -0 36 -114"/><path d="M-108 -50Q-13 -5 -116 -27"/><path d="M111 -42Q5 -1 119 -2"/><path d="M118 13Q5 -1 92 -75"/><path d="M-114 33Q-3 -0 -110 -45"/><path d="M-3 119Q1 1 113 -37"/><path d="M112 -39Q16 -3 119 -10"/><path d="M-118 -13Q-6 -4 -65 -100"/><path d="M-97 -70Q-2 0 -65 100"/><path d="M-113 37Q-12 2 -119 -4"/><path d="M-95 71Q-5 10 12 118"/><path d="M116 28Q10 -3 77 -91"/><path d="M85 -83Q7 -8 65 -99"/><path d="M-69 -97Q-1 -3 -7 -119"/><path d="M110 -45Q1 -3 -82 -86"/><path d="M68 97Q-3 9 -113 36"/><path d="M65 -100Q-0 -0 -100 65"/><path d="M76 92Q0 -0 -13 -118"/><path d="M111 42Q-0 2 -119 -8"/><path d="M-36 -113Q-3 0 -14 118"/><path d="M-27 -116Q1 -0 45 110"/><path d="M74 93Q-0 3 -84 84"/><path d="M62 -101Q3 1 -8 119"/><path d="M12 118Q3 14 33 114"/><path d="M-114 -33Q0 -0 115 29"/><path d="M31 115Q-4 9 -111 44"/><path d="M-24 117Q-1 2 -42 111"/><path d="M30 -115Q-3 -13 -83 -85"/><path d="M35 -114Q0 -0 53 107"/><path d="M61 102Q0 1 -59 104"/><path d="M-60 103Q-0 6 47 110"/><path d="M-18 118Q-5 1 -70 -96"/><path d="M73 94Q-0 1 -99 -66"/><path d="M116 25Q3 -1 83 -85"/><path d="M-36 113Q-3 -0 -13 -118"/><path d="M-102 61Q-0 4 101 63"/><path d="M118 -11Q1 -2 -5 -119"/><path d="M36 -114Q-4 -3 -98 67"/><path d="M-114 33Q-0 4 106 55"/><path d="M-59 -104Q-7 -5 -116 -28"/><path d="M64 -100Q4 -2 119 7"/><path d="M-89 -80Q-2 1 -4 119"/><path d="M119 5Q3 -6 -74 -93"/><path d="M-112 -40Q-13 2 -94 73"/><path d="M-87 -82Q-13 -10 -102 -62"/><path d="M116 26Q8 -6 -3 -119"/><path d="M115 -30Q3 -1 93 -74"/><path d="M-119 -0Q-0 -1 115 -30"/><path d="M-98 68Q0 0 103 -59"/><path d="M-110 -46Q-5 -8 14 -118"/><path d="M17 118Q-6 5 -114 -34"/><path d="M118 18Q1 -0 68 -98"/><path d="M-44 -110Q4 -6 119 -8"/><path d="M-97 -68Q-2 -12 64 -101"/><path d="M-109 48Q-10 2 -119 -4"/><path d="M-49 108Q-1 -0 -18 -118"/><path d="M115 30Q0 2 -106 54"/><path d="M110 45Q-0 2 -119 4"/><path d="M115 32Q1 7 -95 72"/><path d="M-73 -94Q1 -1 111 44"/><path d="M118 12Q11 7 61 102"/><path d="M58 -104Q-1 -7 -73 -94"/><path d="M-80 88Q-8 11 -55 105"/><path d="M119 -3Q0 0 -119 10"/><path d="M89 -79Q5 -4 103 -59"/><path d="M71 -96Q0 -11 -70 -96"/><path d="M-36 -114Q3 -9 100 -65"/><path d="M-105 -57Q0 -4 113 -36"/><path d="M82 -86Q1 -2 -5 -119"/><path d="M-109 47Q-9 8 -50 108"/><path d="M113 -36Q7 -10 -1 -119"/><path d="M-6 119Q3 1 80 -88"/><path d="M119 7Q1 4 -86 82"/><path d="M29 -115Q-3 -11 -88 -80"/><path d="M103 60Q0 -0 65 -100"/><path d="M-4 119Q-0 0 -116 -27"/><path d="M-96 -70Q0 -9 102 -61"/><path d="M97 69Q0 -0 -75 -92"/><path d="M-63 101Q0 0 111 -43"/><path d="M-106 55Q-4 3 -70 96"/><path d="M109 -48Q14 -2 118 16"/><path d="M-61 102Q1 1 94 -72"/><path d="M89 79Q0 -0 -71 -95"/><path d="M111 42Q-0 1 -116 -28"/><path d="M17 -118Q-5 -8 -109 -47"/><path d="M118 -14Q0 1 -105 57"/><path d="M-92 -76Q-1 0 -46 110"/><path d="M-118 14Q-4 -2 -74 -93"/><path d="M106 54Q5 -2 31 -115"/><path d="M94 73Q8 2 118 -17"/><path d="M83 -85Q-1 -2 -118 17"/><path d="M59 -103Q-3 -10 -110 -45"/><path d="M23 -117Q-4 -10 -92 -75"/><path d="M-86 -83Q-3 -9 18 -118"/><path d="M74 93Q11 12 88 80"/><path d="M118 18Q2 -2 6 -119"/><path d="M-47 -109Q-2 1 8 119"/><path d="M-57 104Q2 4 119 1"/><path d="M-67 98Q-12 11 -104 58"/><path d="M100 -65Q3 2 -19 118"/><path d="M64 -100Q0 -5 -62 -101"/><path d="M-96 70Q-3 6 6 119"/><path d="M-58 -104Q-3 -1 -117 24"/><path d="M-116 25Q-7 -5 -3 -119"/><path d="M-88 -80Q-6 -1 -109 49"/><path d="M-76 92Q-0 4 54 106"/><path d="M30 -115Q1 -10 -2 -119"/><path d="M116 28Q2 3 -12 118"/><path d="M72 94Q8 8 95 71"/><path d="M40 112Q-4 3 -103 -60"/><path d="M-114 33Q-2 -3 63 -101"/><path d="M115 31Q11 -1 104 -57"/><path d="M119 10Q4 4 -5 119"/><path d="M-22 -117Q5 -6 119 -11"/><path d="M91 -76Q-1 -3 -119 -7"/><path d="M119 11Q8 0 119 -9"/><path d="M66 99Q12 6 119 -3"/><path d="M27 -116Q4 -8 68 -98"/><path d="M111 -42Q0 1 -107 52"/><path d="M119 6Q0 -1 -116 -26"/><path d="M-117 -22Q-1 2 90 78"/><path d="M-115 -31Q-3 -6 61 -102"/><path d="M8 -119Q-0 -9 -16 -118"/><path d="M119 -9Q0 -1 -119 -10"/><path d="M98 68Q5 -3 0 -119"/><path d="M-116 26Q-11 0 -118 -18"/><path d="M110 45Q8 6 76 92"/><path d="M81 87Q-0 0 -110 -46"/><path d="M95 -72Q3 -2 116 -27"/><path d="M96 70Q1 0 114 -35"/><path d="M35 114Q0 0 93 -75"/><path d="M-112 -39Q-6 -4 -81 -87"/><path d="M-60 103Q3 8 108 49"/><path d="M-107 53Q0 0 108 -49"/><path d="M-119 8Q-3 7 83 85"/><path d="M109 -47Q6 -7 24 -117"/><path d="M-116 -26Q-6 1 -89 79"/><path d="M-96 70Q-6 -3 20 -117"/><path d="M32 -115Q6 -6 115 -30"/><path d="M105 -55Q0 -1 -52 -107"/><path d="M-93 -75Q-8 0 -85 83"/><path d="M111 -44Q5 4 -5 119"/><path d="M-36 -113Q3 -3 115 29"/><path d="M114 -34Q0 1 -89 79"/><path d="M-59 104Q2 1 81 -87"/><path d="M-95 -72Q0 -0 114 35"/><path d="M-81 -87Q-1 -8 59 -104"/><path d="M114 33Q-0 0 -115 -31"/><path d="M-118 -15Q0 -1 118 -11"/><path d="M-10 119Q-1 3 -77 91"/><path d="M-54 106Q-4 2 -115 -31"/><path d="M105 -56Q4 -0 109 47"/><path d="M-27 -116Q-5 -5 -116 -27"/><path d="M44 -111Q-1 -1 -62 101"/><path d="M119 9Q5 1 112 41"/><path d="M98 68Q0 2 -97 69"/><path d="M72 94Q10 4 118 -14"/><path d="M107 -52Q2 2 -76 92"/><path d="M115 32Q3 -4 -50 -108"/><path d="M-118 14Q-1 -1 27 -116"/><path d="M-107 52Q0 0 111 -43"/><path d="M45 110Q-1 1 -67 -98"/><path d="M-61 -102Q-0 0 -17 118"/><path d="M87 81Q11 13 61 102"/><path d="M55 -106Q1 -9 -22 -117"/><path d="M5 -119Q-1 -0 -28 116"/><path d="M68 -97Q-0 -1 -114 -32"/><path d="M-117 24Q-1 -2 91 -77"/><path d="M-114 35Q-4 -3 -12 -118"/><path d="M53 -107Q-1 -5 -101 -62"/><path d="M8 119Q-2 6 -85 83"/><path d="M-7 119Q4 2 94 -72"/><path d="M-32 -115Q-10 -10 -116 -26"/><path d="M83 86Q10 3 117 -20"/><path d="M95 71Q6 -1 58 -104"/><path d="M55 -105Q0 0 -46 110"/><path d="M21 117Q0 2 10 119"/><path d="M-115 30Q-0 -1 101 -62"/><path d="M118 13Q7 9 -14 118"/><path d="M-107 52Q-3 -0 -97 -69"/><path d="M118 16Q0 1 -7 119"/><path d="M67 -98Q4 1 -4 119"/><path d="M116 26Q3 -1 73 -94"/><path d="M-43 -111Q-0 -5 34 -114"/><path d="M-97 -68Q-1 -0 -111 -42"/><path d="M101 -63Q6 1 73 94"/><path d="M-118 -13Q-0 1 116 27"/><path d="M23 117Q-0 5 -40 112"/><path d="M106 54Q-0 1 -113 -38"/><path d="M-119 4Q0 0 119 -3"/><path d="M83 -85Q0 -0 88 81"/><path d="M87 -81Q-1 -1 -114 35"/><path d="M115 -30Q11 -6 90 -77"/><path d="M-117 -19Q-0 -3 116 -27"/><path d="M-119 -6Q-7 7 18 118"/><path d="M-118 14Q-0 -0 37 -113"/><path d="M111 -43Q10 -5 95 -72"/><path d="M5 -119Q-1 -0 -27 116"/><path d="M41 112Q1 0 116 -28"/><path d="M-8 119Q-5 3 -112 -41"/><path d="M81 -87Q1 0 -54 106"/><path d="M-118 -12Q0 -0 119 4"/><path d="M-119 11Q-10 -6 -50 -108"/><path d="M-84 -85Q0 -2 113 -38"/><path d="M119 5Q0 -1 -115 -30"/><path d="M-110 44Q-12 8 -87 82"/><path d="M67 98Q1 -0 65 -100"/><path d="M56 -105Q-1 -1 -92 75"/><path d="M17 118Q0 2 2 119"/><path d="M-117 -24Q0 -2 119 -6"/><path d="M-116 -27Q-0 -0 74 -93"/><path d="M-15 -118Q-0 0 13 118"/><path d="M-48 -109Q-3 -2 -118 -14"/><path d="M92 75Q1 0 100 -65"/><path d="M107 -53Q0 0 23 117"/><path d="M-118 -17Q-3 3 0 119"/><path d="M44 -110Q3 -0 79 89"/><path d="M38 113Q-4 4 -112 -41"/><path d="M-102 61Q-4 0 -104 -57"/><path d="M93 -74Q4 -5 59 -103"/><path d="M-15 118Q2 2 108 -49"/><path d="M-11 -118Q-5 -14 -70 -96"/><path d="M-55 -105Q-1 -10 38 -113"/><path d="M55 -105Q-2 -6 -111 -42"/><path d="M-96 -71Q-5 2 -22 117"/><path d="M114 33Q9 9 40 112"/><path d="M-107 51Q-7 11 -4 119"/><path d="M46 -110Q-2 -1 -95 72"/><path d="M108 -50Q1 -8 -93 -74"/><path d="M112 -39Q10 -9 51 -107"/><path d="M-113 36Q-0 0 -73 94"/><path d="M-115 -29Q-1 1 50 108"/><path d="M25 116Q-4 6 -118 15"/><path d="M10 119Q0 -0 -7 -119"/><path d="M80 -88Q1 0 35 114"/><path d="M64 100Q6 1 85 -84"/><path d="M-118 12Q-3 -4 68 -98"/><path d="M-90 77Q-7 5 -109 49"/><path d="M-1 -119Q8 -9 118 -17"/><path d="M-99 67Q-0 1 -32 115"/><path d="M-37 113Q3 13 83 86"/><path d="M-113 38Q-1 8 97 69"/><path d="M50 -108Q2 -2 117 -22"/><path d="M-46 110Q-4 11 -34 114"/><path d="M19 -117Q1 0 2 119"/><path d="M-63 -101Q1 -2 114 35"/><path d="M57 -104Q3 -4 81 -87"/><path d="M-105 56Q0 0 105 -55"/><path d="M-76 -92Q-1 -0 -119 -1"/></g></g><g transform="translate(966.6,266.7)"><path fill="#C2C2BD" stroke="#3C3C3C" stroke-width="1" d="M164.4 -0.1A164.4 164.4 0 0 1 143.6 80L138.6 77.1A158.6 158.6 0 0 0 158.6 -0.1ZM142.2 82.4A164.4 164.4 0 0 1 93.1 135.5L89.8 130.7A158.6 158.6 0 0 0 137.2 79.5ZM90.7 137.1A164.4 164.4 0 0 1 22.9 162.8L22.1 157.1A158.6 158.6 0 0 0 87.5 132.3ZM20 163.2A164.4 164.4 0 0 1 -46.7 157.6L-45 152.1A158.6 158.6 0 0 0 19.3 157.4ZM-49.4 156.8A164.4 164.4 0 0 1 -106.6 125.2L-102.8 120.8A158.6 158.6 0 0 0 -47.7 151.3ZM-108.7 123.3A164.4 164.4 0 0 1 -141.8 83.2L-136.8 80.3A158.6 158.6 0 0 0 -104.9 119ZM-143.2 80.7A164.4 164.4 0 0 1 -161.2 32.5L-155.5 31.3A158.6 158.6 0 0 0 -138.2 77.9ZM-161.7 29.7A164.4 164.4 0 0 1 -163.1 -20.6L-157.3 -19.9A158.6 158.6 0 0 0 -156 28.6ZM-162.7 -23.4A164.4 164.4 0 0 1 -147.9 -71.8L-142.7 -69.3A158.6 158.6 0 0 0 -157 -22.6ZM-146.6 -74.4A164.4 164.4 0 0 1 -118.1 -114.4L-113.9 -110.4A158.6 158.6 0 0 0 -141.4 -71.8ZM-116 -116.5A164.4 164.4 0 0 1 -76.2 -145.7L-73.5 -140.6A158.6 158.6 0 0 0 -112 -112.3ZM-73.6 -147A164.4 164.4 0 0 1 -28.8 -161.9L-27.8 -156.1A158.6 158.6 0 0 0 -71 -141.8ZM-26 -162.3A164.4 164.4 0 0 1 19.8 -163.2L19.1 -157.5A158.6 158.6 0 0 0 -25.1 -156.6ZM22.6 -162.8A164.4 164.4 0 0 1 64.8 -151.1L62.5 -145.8A158.6 158.6 0 0 0 21.8 -157.1ZM67.4 -150A164.4 164.4 0 0 1 102.3 -128.7L98.7 -124.1A158.6 158.6 0 0 0 65 -144.7ZM104.6 -126.9A164.4 164.4 0 0 1 132.5 -97.3L127.8 -93.9A158.6 158.6 0 0 0 100.9 -122.4ZM134.2 -95A164.4 164.4 0 0 1 151 -65L145.7 -62.7A158.6 158.6 0 0 0 129.4 -91.6ZM152.1 -62.4A164.4 164.4 0 0 1 160.9 -33.9L155.2 -32.7A158.6 158.6 0 0 0 146.7 -60.2ZM161.4 -31.1A164.4 164.4 0 0 1 164.4 -3L158.6 -2.9A158.6 158.6 0 0 0 155.7 -30Z"/><path fill="none" stroke="#222" stroke-width="0.9" d="M167.6 -0.1A167.6 167.6 0 0 1 146.4 81.5M145 84.1A167.6 167.6 0 0 1 94.9 138.1M92.5 139.8A167.6 167.6 0 0 1 23.3 166M20.4 166.4A167.6 167.6 0 0 1 -47.6 160.7M-50.4 159.8A167.6 167.6 0 0 1 -108.6 127.6M-110.8 125.7A167.6 167.6 0 0 1 -144.6 84.8M-146 82.3A167.6 167.6 0 0 1 -164.3 33.1M-164.8 30.3A167.6 167.6 0 0 1 -166.3 -21M-165.9 -23.9A167.6 167.6 0 0 1 -150.8 -73.2M-149.5 -75.8A167.6 167.6 0 0 1 -120.4 -116.6M-118.3 -118.7A167.6 167.6 0 0 1 -77.6 -148.5M-75 -149.9A167.6 167.6 0 0 1 -29.4 -165M-26.5 -165.5A167.6 167.6 0 0 1 20.1 -166.4M23 -166A167.6 167.6 0 0 1 66 -154M68.7 -152.9A167.6 167.6 0 0 1 104.3 -131.2M106.6 -129.3A167.6 167.6 0 0 1 135.1 -99.2M136.8 -96.8A167.6 167.6 0 0 1 153.9 -66.3M155.1 -63.6A167.6 167.6 0 0 1 164 -34.6M164.6 -31.7A167.6 167.6 0 0 1 167.6 -3.1"/><path stroke="#333" stroke-width="0.7" d="M167.5 6.4L169.1 6.5M167.1 13L168.7 13.1M166.5 19.6L168 19.7M164.4 32.6L166 32.9M163 39L164.6 39.4M161.3 45.4L162.9 45.8M157.3 57.9L158.8 58.4M154.9 64L156.4 64.6M152.3 70L153.7 70.7M141.6 89.7L142.9 90.5M138 95.2L139.3 96.1M134.1 100.5L135.4 101.5M125.8 110.7L127 111.8M121.4 115.6L122.5 116.7M116.7 120.3L117.9 121.4M106.9 129L108 130.3M101.8 133.1L102.8 134.4M96.5 137L97.4 138.3M86.9 143.3L87.8 144.7M81.3 146.6L82 148M75.4 149.7L76.2 151.1M63.5 155.1L64.1 156.6M57.3 157.5L57.9 159M51.1 159.6L51.6 161.1M38.4 163.1L38.8 164.7M32 164.5L32.3 166.1M25.5 165.6L25.7 167.2M13.9 167L14 168.6M7.3 167.4L7.4 169M0.7 167.6L0.7 169.2M-12.4 167.1L-12.5 168.7M-19 166.5L-19.2 168.1M-25.5 165.6L-25.7 167.2M-38.4 163.1L-38.8 164.7M-44.8 161.5L-45.2 163M-56.6 157.7L-57.2 159.2M-62.8 155.4L-63.4 156.9M-68.8 152.8L-69.5 154.3M-80.6 146.9L-81.4 148.3M-86.3 143.7L-87.1 145M-91.9 140.2L-92.8 141.5M-102.6 132.5L-103.6 133.8M-107.7 128.4L-108.8 129.6M-115.7 121.3L-116.8 122.4M-120.4 116.6L-121.5 117.7M-124.8 111.8L-126 112.9M-133.2 101.7L-134.5 102.7M-137.1 96.4L-138.4 97.3M-140.8 90.9L-142.1 91.8M-149.1 76.5L-150.6 77.2M-152 70.6L-153.5 71.2M-154.7 64.5L-156.2 65.2M-159.3 52.2L-160.8 52.7M-161.2 45.9L-162.7 46.4M-162.9 39.6L-164.4 39.9M-165.9 23.8L-167.5 24M-166.7 17.2L-168.3 17.4M-167.3 10.7L-168.9 10.8M-167.6 -2.5L-169.2 -2.5M-167.4 -9.1L-169 -9.2M-166.9 -15.6L-168.5 -15.8M-164.8 -30.4L-166.4 -30.7M-163.5 -36.8L-165.1 -37.2M-161.9 -43.2L-163.5 -43.6M-158 -55.8L-159.5 -56.3M-155.7 -62L-157.2 -62.6M-153.2 -68L-154.6 -68.7M-146.4 -81.6L-147.8 -82.4M-143.1 -87.3L-144.4 -88.2M-139.5 -92.9L-140.8 -93.8M-131.8 -103.5L-133.1 -104.5M-127.6 -108.6L-128.9 -109.7M-123.3 -113.6L-124.4 -114.6M-113.6 -123.3L-114.6 -124.4M-108.6 -127.6L-109.7 -128.9M-103.5 -131.8L-104.5 -133.1M-92.9 -139.5L-93.8 -140.8M-87.3 -143.1L-88.2 -144.4M-81.6 -146.4L-82.4 -147.8M-69.1 -152.7L-69.8 -154.1M-63.1 -155.3L-63.7 -156.8M-56.9 -157.6L-57.5 -159.1M-44.4 -161.6L-44.8 -163.2M-38 -163.2L-38.3 -164.8M-31.5 -164.6L-31.8 -166.2M-20 -166.4L-20.2 -168M-13.4 -167.1L-13.6 -168.7M-6.9 -167.5L-6.9 -169.1M6.3 -167.5L6.3 -169.1M12.9 -167.1L13 -168.7M19.4 -166.5L19.6 -168.1M29.5 -165L29.8 -166.6M36 -163.7L36.3 -165.3M42.4 -162.2L42.8 -163.7M55 -158.3L55.5 -159.8M61.2 -156L61.7 -157.5M74.7 -150.1L75.4 -151.5M80.5 -147L81.3 -148.4M86.2 -143.7L87 -145.1M97.2 -136.5L98.1 -137.8M102.5 -132.6L103.5 -133.9M111.6 -125L112.7 -126.2M116.4 -120.6L117.5 -121.7M121.1 -115.9L122.2 -117M129.8 -106L131 -107.1M133.9 -100.9L135.1 -101.8M140.5 -91.4L141.8 -92.3M144 -85.8L145.3 -86.6M147.2 -80.1L148.6 -80.9M153.1 -68.3L154.5 -69M157.4 -57.5L158.9 -58M159.6 -51.2L161.1 -51.7M161.5 -44.9L163 -45.4M165.7 -25.2L167.3 -25.4M166.6 -18.7L168.1 -18.9M167.2 -12.1L168.8 -12.2"/><path stroke="#222" stroke-width="0.9" d="M167.6 -0.1L170.9 -0.1M165.6 26.1L168.8 26.6M159.4 51.7L162.6 52.7M149.4 76L152.3 77.5M145 84.1L147.9 85.7M130.1 105.7L132.6 107.8M111.9 124.7L114.1 127.2M92.5 139.8L94.3 142.5M69.5 152.5L70.9 155.5M44.8 161.5L45.7 164.7M20.4 166.4L20.8 169.6M-5.8 167.5L-6 170.8M-32 164.5L-32.6 167.8M-50.4 159.8L-51.4 163M-74.8 150L-76.3 152.9M-97.3 136.4L-99.2 139.1M-110.8 125.7L-113 128.2M-129.1 106.8L-131.7 108.9M-144.3 85.3L-147.1 87M-146 82.3L-148.9 83.9M-157.1 58.4L-160.2 59.6M-164.3 33.1L-167.5 33.8M-164.8 30.3L-168.1 30.9M-167.5 4.1L-170.8 4.2M-165.9 -23.9L-169.2 -24.4M-160.1 -49.6L-163.3 -50.5M-149.5 -75.8L-152.4 -77.3M-135.8 -98.3L-138.4 -100.2M-118.3 -118.7L-120.6 -121.1M-98.3 -135.8L-100.2 -138.4M-75 -149.9L-76.5 -152.8M-50.7 -159.8L-51.7 -162.9M-26.5 -165.5L-27 -168.7M-0.3 -167.6L-0.3 -170.9M23 -166L23.5 -169.3M48.7 -160.4L49.7 -163.5M68.7 -152.9L70.1 -155.9M91.8 -140.2L93.6 -143M106.6 -129.3L108.7 -131.9M125.5 -111.1L128 -113.2M136.8 -96.8L139.5 -98.8M150.3 -74.3L153.2 -75.7M155.1 -63.6L158.1 -64.8M163.1 -38.6L166.3 -39.3M164.6 -31.7L167.8 -32.3M167.5 -5.6L170.8 -5.7"/><g font-size="4.3" fill="#444" text-anchor="middle"><text transform="translate(173.2,4.1) rotate(-88.6)" dy="1.4">0Mb</text><text transform="translate(171.1,26.9) rotate(-81.1)" dy="1.4">20Mb</text><text transform="translate(164.8,53.4) rotate(-72.1)" dy="1.4">40Mb</text><text transform="translate(154.4,78.5) rotate(-63.1)" dy="1.4">60Mb</text><text transform="translate(147.7,90.5) rotate(-58.5)" dy="1.4">0Mb</text><text transform="translate(134.4,109.2) rotate(-50.9)" dy="1.4">20Mb</text><text transform="translate(115.7,128.9) rotate(-41.9)" dy="1.4">40Mb</text><text transform="translate(92,146.7) rotate(-32.1)" dy="1.4">0Mb</text><text transform="translate(71.8,157.6) rotate(-24.5)" dy="1.4">20Mb</text><text transform="translate(46.3,166.9) rotate(-15.5)" dy="1.4">40Mb</text><text transform="translate(16.9,172.4) rotate(-5.6)" dy="1.4">0Mb</text><text transform="translate(-6,173.1) rotate(2)" dy="1.4">20Mb</text><text transform="translate(-33,170) rotate(11)" dy="1.4">40Mb</text><text transform="translate(-56.1,163.9) rotate(18.9)" dy="1.4">0Mb</text><text transform="translate(-77.3,155) rotate(26.5)" dy="1.4">20Mb</text><text transform="translate(-100.6,141) rotate(35.5)" dy="1.4">40Mb</text><text transform="translate(-117.7,127.1) rotate(42.8)" dy="1.4">0Mb</text><text transform="translate(-133.5,110.4) rotate(50.4)" dy="1.4">20Mb</text><text transform="translate(-149.1,88.2) rotate(59.4)" dy="1.4">40Mb</text><text transform="translate(-152.9,81.3) rotate(62)" dy="1.4">0Mb</text><text transform="translate(-162.3,60.4) rotate(69.6)" dy="1.4">20Mb</text><text transform="translate(-169.8,34.2) rotate(78.6)" dy="1.4">40Mb</text><text transform="translate(-171.1,27.1) rotate(81)" dy="1.4">0Mb</text><text transform="translate(-173.1,4.2) rotate(88.6)" dy="1.4">20Mb</text><text transform="translate(-170.8,-28.9) rotate(-80.4)" dy="1.4">0Mb</text><text transform="translate(-165.5,-51.2) rotate(-72.8)" dy="1.4">20Mb</text><text transform="translate(-152.5,-82.1) rotate(-61.7)" dy="1.4">0Mb</text><text transform="translate(-140.3,-101.6) rotate(-54.1)" dy="1.4">20Mb</text><text transform="translate(-119.2,-125.6) rotate(-43.5)" dy="1.4">0Mb</text><text transform="translate(-101.6,-140.3) rotate(-35.9)" dy="1.4">20Mb</text><text transform="translate(-73.7,-156.7) rotate(-25.2)" dy="1.4">0Mb</text><text transform="translate(-52.4,-165.1) rotate(-17.6)" dy="1.4">20Mb</text><text transform="translate(-23.2,-171.6) rotate(-7.7)" dy="1.4">0Mb</text><text transform="translate(-0.3,-173.2) rotate(-0.1)" dy="1.4">20Mb</text><text transform="translate(28,-170.9) rotate(9.3)" dy="1.4">0Mb</text><text transform="translate(50.3,-165.7) rotate(16.9)" dy="1.4">20Mb</text><text transform="translate(74.8,-156.2) rotate(25.6)" dy="1.4">0Mb</text><text transform="translate(94.8,-144.9) rotate(33.2)" dy="1.4">20Mb</text><text transform="translate(113.4,-130.9) rotate(40.9)" dy="1.4">0Mb</text><text transform="translate(129.7,-114.8) rotate(48.5)" dy="1.4">20Mb</text><text transform="translate(143.8,-96.6) rotate(56.1)" dy="1.4">0Mb</text><text transform="translate(155.3,-76.7) rotate(63.7)" dy="1.4">20Mb</text><text transform="translate(161.8,-61.8) rotate(69.1)" dy="1.4">0Mb</text><text transform="translate(168.6,-39.8) rotate(76.7)" dy="1.4">20Mb</text><text transform="translate(170.8,-28.6) rotate(80.5)" dy="1.4">0Mb</text><text transform="translate(173.1,-5.7) rotate(88.1)" dy="1.4">20Mb</text></g><g font-size="11.5" text-anchor="middle"><text transform="translate(174.4,45.2) rotate(-75.5)" dy="4">1</text><text transform="translate(132.2,122.4) rotate(-47.2)" dy="4">2</text><text transform="translate(63.8,168.5) rotate(-20.8)" dy="4">3</text><text transform="translate(-14.9,179.6) rotate(4.8)" dy="4">4</text><text transform="translate(-87.2,157.7) rotate(28.9)" dy="4">5</text><text transform="translate(-139,114.6) rotate(50.5)" dy="4">6</text><text transform="translate(-168.9,62.8) rotate(69.6)" dy="4">7</text><text transform="translate(-180.1,5) rotate(88.4)" dy="4">8</text><text transform="translate(-172.3,-52.8) rotate(-72.9)" dy="4">9</text><text transform="translate(-146.7,-104.6) rotate(-54.5)" dy="4">10</text><text transform="translate(-106.6,-145.3) rotate(-36.2)" dy="4">11</text><text transform="translate(-56.7,-171) rotate(-18.4)" dy="4">12</text><text transform="translate(-3.5,-180.2) rotate(-1.1)" dy="4">13</text><text transform="translate(48.3,-173.6) rotate(15.5)" dy="4">14</text><text transform="translate(93.8,-153.9) rotate(31.4)" dy="4">15</text><text transform="translate(130.9,-123.8) rotate(46.6)" dy="4">16</text><text transform="translate(157.1,-88.2) rotate(60.7)" dy="4">17</text><text transform="translate(172.2,-53) rotate(72.9)" dy="4">18</text><text transform="translate(179.2,-18.8) rotate(84)" dy="4">19</text></g><circle r="148" fill="none" stroke="#E31A1C" stroke-opacity="0.78" stroke-width="7" stroke-dasharray="0.0 7.1 1.0 15.0 0.9 9.6 0.7 13.1 0.8 7.8 1.5 34.9 1.0 2.2 0.8 38.4 0.7 5.1 0.9 15.9 2.1 0.7 0.7 19.3 1.4 8.0 0.7 3.2 1.8 13.6 2.5 18.2 0.9 19.1 1.3 9.3 0.8 1.5 1.3 17.9 1.0 13.1 2.2 17.7 1.1 5.5 0.9 3.0 1.5 2.3 1.5 0.5 2.1 7.5 1.5 0.8 1.6 58.0 1.6 7.7 0.8 7.2 0.7 1.4 3.4 19.6 1.0 5.5 1.3 3.4 1.3 1.0 0.9 31.9 1.0 6.8 1.4 38.3 0.8 5.3 0.9 12.3 2.2 1.1 2.8 7.0 1.3 9.3 0.7 16.2 2.1 6.9 1.5 3.1 0.7 10.1 0.9 3.9 0.8 3.1 1.5 30.7 1.3 7.9 0.7 8.8 1.3 6.5 2.1 2.7 2.1 3.3 0.9 8.8 2.1 10.5 0.9 6.9 0.7 1.2 1.0 0.8 1.0 1.1 0.9 15.0 0.7 2.2 0.7 16.9 0.9 2.0 2.1 0.6 2.1 18.2 0.7 1.9 1.3 2.7 1.5 7.4 2.1 5.2 0.8 4.3 1.3 1.3 0.7 10.1 1.5 38.2 2.1 2.4 0.7 0.5 1.0 15.9 0.9 25.6"/><circle r="148" fill="none" stroke="#E31A1C" stroke-opacity="0.78" stroke-width="7" stroke-dasharray="0.0 11.8 0.7 23.6 2.1 18.9 0.8 0.9 2.1 0.4 1.3 19.9 0.7 7.0 0.9 9.0 0.9 30.0 1.6 1.9 0.8 17.5 1.0 7.9 2.1 2.6 1.7 9.9 2.1 2.3 0.9 23.2 1.3 13.7 0.9 0.6 0.7 13.9 2.1 16.4 0.7 4.0 0.9 0.8 0.7 33.5 2.1 6.1 1.5 11.1 0.7 8.7 1.5 0.6 2.0 3.1 1.3 10.9 0.9 21.8 2.3 3.8 0.9 1.0 1.5 21.7 1.5 5.4 0.9 2.8 1.3 0.5 0.9 18.0 2.1 18.2 0.9 28.3 1.0 4.1 0.8 13.0 1.0 5.6 0.8 1.8 0.9 11.6 2.1 13.3 1.3 16.1 2.1 1.4 1.0 6.7 1.0 6.3 0.9 21.2 1.5 9.6 2.1 12.8 2.1 13.8 2.1 1.6 1.0 7.8 0.7 1.4 0.7 28.6 0.9 5.1 0.9 6.4 1.5 1.8 1.8 9.0 0.7 4.9 1.3 10.2 1.0 5.1 2.1 9.6 1.3 15.6 1.0 9.3 2.1 3.3 3.0 6.0 1.0 6.2 0.9 0.5 1.5 23.8 2.7 5.1 2.1 4.1 2.1 23.4 1.5 22.3 1.0 12.4 1.3 0.3 1.3 12.9 1.5 16.9"/><path d="M-31.3 -147.9A151.2 151.2 0 0 1 -28.4 -148.5L-27.2 -142.2A144.8 144.8 0 0 0 -30 -141.7Z" fill="#E31A1C" fill-opacity="0.3" stroke="#E31A1C" stroke-opacity="0.85" stroke-width="0.8"/><path d="M149.9 -19.5A151.2 151.2 0 0 1 150.6 -13.2L144.2 -12.7A144.8 144.8 0 0 0 143.6 -18.7Z" fill="#E31A1C" fill-opacity="0.3" stroke="#E31A1C" stroke-opacity="0.85" stroke-width="0.8"/><path d="M57.9 139.7A151.2 151.2 0 0 1 52 142L49.8 136A144.8 144.8 0 0 0 55.5 133.7Z" fill="#E31A1C" fill-opacity="0.3" stroke="#E31A1C" stroke-opacity="0.85" stroke-width="0.8"/><path d="M36 146.9A151.2 151.2 0 0 1 29.8 148.2L28.5 142A144.8 144.8 0 0 0 34.5 140.6Z" fill="#E31A1C" fill-opacity="0.3" stroke="#E31A1C" stroke-opacity="0.85" stroke-width="0.8"/><path d="M141.6 52.9A151.2 151.2 0 0 1 138.5 60.8L132.6 58.2A144.8 144.8 0 0 0 135.6 50.7Z" fill="#E31A1C" fill-opacity="0.3" stroke="#E31A1C" stroke-opacity="0.85" stroke-width="0.8"/><path d="M136.2 -65.8A151.2 151.2 0 0 1 137.4 -63.1L131.6 -60.5A144.8 144.8 0 0 0 130.4 -63Z" fill="#E31A1C" fill-opacity="0.3" stroke="#E31A1C" stroke-opacity="0.85" stroke-width="0.8"/><path d="M109.3 -104.4A151.2 151.2 0 0 1 110.6 -103.1L105.9 -98.7A144.8 144.8 0 0 0 104.7 -100Z" fill="#E31A1C" fill-opacity="0.3" stroke="#E31A1C" stroke-opacity="0.85" stroke-width="0.8"/><path d="M-35.6 147A151.2 151.2 0 0 1 -37.4 146.5L-35.8 140.3A144.8 144.8 0 0 0 -34.1 140.7Z" fill="#E31A1C" fill-opacity="0.3" stroke="#E31A1C" stroke-opacity="0.85" stroke-width="0.8"/><path d="M-20.6 -149.8A151.2 151.2 0 0 1 -16.9 -150.2L-16.2 -143.9A144.8 144.8 0 0 0 -19.7 -143.5Z" fill="#E31A1C" fill-opacity="0.3" stroke="#E31A1C" stroke-opacity="0.85" stroke-width="0.8"/><path d="M-19.9 -149.9A151.2 151.2 0 0 1 -17 -150.2L-16.3 -143.9A144.8 144.8 0 0 0 -19 -143.5Z" fill="#E31A1C" fill-opacity="0.3" stroke="#E31A1C" stroke-opacity="0.85" stroke-width="0.8"/><circle r="138" fill="none" stroke="#3E9F3B" stroke-opacity="0.78" stroke-width="7" stroke-dasharray="0.0 5.9 0.8 16.0 0.7 27.7 0.7 11.5 1.9 20.0 1.9 19.6 0.7 23.3 0.7 5.0 0.7 19.1 1.0 61.3 0.8 29.6 1.9 0.5 1.9 11.3 0.7 0.4 0.7 4.4 0.7 11.1 1.4 2.9 0.7 30.1 1.9 25.3 0.7 10.9 0.8 1.1 1.4 26.9 1.9 25.9 1.9 7.6 0.7 21.0 1.2 10.4 2.2 8.2 1.9 21.7 1.4 7.7 0.8 55.7 1.9 18.8 1.0 4.5 0.7 12.3 0.8 15.6 0.7 2.1 0.8 26.4 1.0 12.8 0.7 27.6 1.9 5.1 1.2 17.3 1.2 6.1 1.4 21.5 0.7 1.2 0.7 28.5 0.7 9.4 2.1 3.4 1.4 15.9 0.7 27.3 1.2 32.8"/><circle r="138" fill="none" stroke="#3E9F3B" stroke-opacity="0.78" stroke-width="7" stroke-dasharray="0.0 26.2 1.4 3.1 1.0 8.4 1.2 15.1 0.7 24.7 1.0 20.3 1.4 7.3 1.0 20.5 0.8 27.5 1.9 9.3 1.4 0.6 0.7 6.6 2.6 29.9 1.0 37.9 0.7 24.7 1.0 14.8 1.0 13.4 0.7 8.4 1.9 1.1 1.9 1.5 1.0 7.9 1.0 20.1 1.9 20.7 1.2 17.8 1.0 42.0 1.4 29.6 1.4 48.4 1.4 5.2 1.0 5.2 1.0 41.5 1.4 33.5 1.9 6.3 1.4 3.3 2.0 25.4 0.7 0.4 1.0 23.8 0.7 8.4 1.0 7.0 1.4 13.9 0.7 42.4 0.7 34.0 0.7 22.0 0.8 3.9 1.4 13.5 1.9 16.4 0.7 1.9 1.2 15.6"/><path d="M-138.7 -26.4A141.2 141.2 0 0 1 -138.3 -28.6L-132 -27.3A134.8 134.8 0 0 0 -132.4 -25.2Z" fill="#3E9F3B" fill-opacity="0.3" stroke="#3E9F3B" stroke-opacity="0.85" stroke-width="0.8"/><path d="M-69.1 123.1A141.2 141.2 0 0 1 -74.2 120.1L-70.8 114.7A134.8 134.8 0 0 0 -66 117.6Z" fill="#3E9F3B" fill-opacity="0.3" stroke="#3E9F3B" stroke-opacity="0.85" stroke-width="0.8"/><path d="M-129.3 56.8A141.2 141.2 0 0 1 -130.3 54.3L-124.4 51.9A134.8 134.8 0 0 0 -123.4 54.3Z" fill="#3E9F3B" fill-opacity="0.3" stroke="#3E9F3B" stroke-opacity="0.85" stroke-width="0.8"/><path d="M138.9 -25.1A141.2 141.2 0 0 1 139.5 -21.7L133.2 -20.7A134.8 134.8 0 0 0 132.6 -24Z" fill="#3E9F3B" fill-opacity="0.3" stroke="#3E9F3B" stroke-opacity="0.85" stroke-width="0.8"/><path d="M-138.6 -27.1A141.2 141.2 0 0 1 -138.2 -28.8L-132 -27.5A134.8 134.8 0 0 0 -132.3 -25.9Z" fill="#3E9F3B" fill-opacity="0.3" stroke="#3E9F3B" stroke-opacity="0.85" stroke-width="0.8"/><path d="M133.7 -45.5A141.2 141.2 0 0 1 134.4 -43.4L128.3 -41.4A134.8 134.8 0 0 0 127.6 -43.4Z" fill="#3E9F3B" fill-opacity="0.3" stroke="#3E9F3B" stroke-opacity="0.85" stroke-width="0.8"/><path d="M136 38.1A141.2 141.2 0 0 1 135.2 40.7L129.1 38.8A134.8 134.8 0 0 0 129.8 36.3Z" fill="#3E9F3B" fill-opacity="0.3" stroke="#3E9F3B" stroke-opacity="0.85" stroke-width="0.8"/><path d="M39.1 -135.7A141.2 141.2 0 0 1 41.3 -135L39.4 -128.9A134.8 134.8 0 0 0 37.4 -129.5Z" fill="#3E9F3B" fill-opacity="0.3" stroke="#3E9F3B" stroke-opacity="0.85" stroke-width="0.8"/><path d="M139.8 -19.8A141.2 141.2 0 0 1 140 -18.1L133.7 -17.3A134.8 134.8 0 0 0 133.5 -18.9Z" fill="#3E9F3B" fill-opacity="0.3" stroke="#3E9F3B" stroke-opacity="0.85" stroke-width="0.8"/><path d="M141.2 0A141.2 141.2 0 0 1 141.2 2.7L134.8 2.6A134.8 134.8 0 0 0 134.8 0Z" fill="#3E9F3B" fill-opacity="0.3" stroke="#3E9F3B" stroke-opacity="0.85" stroke-width="0.8"/><path d="M137.9 30.2A141.2 141.2 0 0 1 136.9 34.5L130.7 32.9A134.8 134.8 0 0 0 131.7 28.8Z" fill="#3E9F3B" fill-opacity="0.3" stroke="#3E9F3B" stroke-opacity="0.85" stroke-width="0.8"/><path d="M-141.2 3.4A141.2 141.2 0 0 1 -141.2 -2.5L-134.8 -2.4A134.8 134.8 0 0 0 -134.8 3.3Z" fill="#3E9F3B" fill-opacity="0.3" stroke="#3E9F3B" stroke-opacity="0.85" stroke-width="0.8"/><circle r="129" fill="none" stroke="#3D66AE" stroke-opacity="0.78" stroke-width="7" stroke-dasharray="0.0 16.2 0.8 23.4 1.1 31.3 0.7 11.6 1.1 143.8 1.4 31.8 0.7 4.1 1.1 23.9 0.8 120.8 1.1 0.6 1.8 2.0 1.1 24.5 0.8 51.1 2.1 9.1 1.1 2.2 0.8 17.2 0.7 19.3 0.8 1.5 1.8 20.2 0.7 68.6 0.8 33.4 1.1 103.2 1.8 13.5 0.7 12.0"/><circle r="129" fill="none" stroke="#3D66AE" stroke-opacity="0.78" stroke-width="7" stroke-dasharray="0.0 22.5 0.8 109.7 1.1 7.9 0.7 14.2 1.1 30.3 1.1 1.8 1.8 34.4 1.4 7.0 0.7 23.2 0.9 5.6 1.1 31.6 1.8 27.6 0.8 75.7 1.1 42.8 0.8 35.9 0.8 29.8 0.8 0.3 1.8 14.8 0.7 43.7 1.1 16.0 1.1 48.5 1.1 18.4 1.4 11.2 0.7 40.9 1.8 27.4 0.7 62.0"/><path d="M-44.2 124.6A132.2 132.2 0 0 1 -47.3 123.5L-45 117.5A125.8 125.8 0 0 0 -42.1 118.6Z" fill="#3D66AE" fill-opacity="0.3" stroke="#3D66AE" stroke-opacity="0.85" stroke-width="0.8"/><path d="M42 125.4A132.2 132.2 0 0 1 36.7 127L34.9 120.9A125.8 125.8 0 0 0 40 119.3Z" fill="#3D66AE" fill-opacity="0.3" stroke="#3D66AE" stroke-opacity="0.85" stroke-width="0.8"/><path d="M-72.9 110.3A132.2 132.2 0 0 1 -75 108.8L-71.4 103.6A125.8 125.8 0 0 0 -69.4 104.9Z" fill="#3D66AE" fill-opacity="0.3" stroke="#3D66AE" stroke-opacity="0.85" stroke-width="0.8"/><path d="M-20 130.7A132.2 132.2 0 0 1 -22 130.4L-20.9 124A125.8 125.8 0 0 0 -19 124.4Z" fill="#3D66AE" fill-opacity="0.3" stroke="#3D66AE" stroke-opacity="0.85" stroke-width="0.8"/><path d="M117.3 -61A132.2 132.2 0 0 1 118.7 -58.1L113 -55.3A125.8 125.8 0 0 0 111.6 -58.1Z" fill="#3D66AE" fill-opacity="0.3" stroke="#3D66AE" stroke-opacity="0.85" stroke-width="0.8"/><g fill="none" stroke="#8E47A8" stroke-width="1.2" stroke-opacity="0.28"><path d="M-118 17Q0 3 118 13"/><path d="M-119 -9Q-2 -5 73 -94"/><path d="M-92 75Q-11 -1 -76 -91"/><path d="M79 -89Q0 0 -22 117"/><path d="M-11 -119Q-4 -19 -34 -114"/><path d="M12 118Q7 8 117 21"/><path d="M115 -30Q16 1 112 39"/><path d="M53 -107Q-0 -9 -57 -105"/><path d="M-15 -118Q-8 -20 -69 -97"/><path d="M119 -8Q0 2 -107 53"/><path d="M-62 102Q-1 6 29 115"/><path d="M-107 52Q-11 -8 18 -118"/><path d="M119 4Q1 3 -109 48"/><path d="M87 82Q4 4 69 97"/><path d="M9 119Q10 4 91 -77"/><path d="M-56 -105Q-1 -7 20 -117"/><path d="M-50 -108Q2 -3 118 13"/><path d="M32 -115Q0 0 -28 116"/><path d="M-111 44Q-19 -6 -68 -97"/><path d="M-81 87Q-5 -2 -8 -119"/><path d="M-107 52Q-1 0 -118 -13"/><path d="M24 117Q-0 2 -30 115"/><path d="M-40 112Q-7 1 -63 -101"/><path d="M86 -83Q-0 -4 -93 -74"/><path d="M116 28Q1 -0 93 -75"/><path d="M-106 -55Q-0 -11 101 -63"/><path d="M-71 -96Q-1 -12 53 -106"/><path d="M-2 -119Q-2 -0 -33 114"/><path d="M119 -5Q9 -1 118 -16"/><path d="M113 -37Q4 0 105 56"/><path d="M39 112Q11 11 113 38"/><path d="M-110 -46Q-6 4 -17 118"/><path d="M107 53Q-0 4 -111 42"/><path d="M-118 14Q-15 -4 -100 -64"/><path d="M-118 -13Q-1 -2 45 -110"/><path d="M105 -56Q-1 -5 -119 6"/><path d="M-86 82Q-1 -1 71 -95"/><path d="M118 19Q7 12 -42 111"/><path d="M-119 10Q-12 -12 4 -119"/><path d="M-107 51Q-2 7 70 96"/><path d="M-105 -56Q-11 6 -9 119"/><path d="M-48 -109Q-2 -0 -56 105"/><path d="M24 116Q-0 0 -28 -116"/><path d="M-119 4Q-9 3 -93 74"/><path d="M-114 35Q-3 2 -92 76"/><path d="M59 -103Q13 -19 73 -94"/><path d="M-46 110Q1 1 78 -89"/><path d="M-43 111Q8 13 119 9"/><path d="M81 -87Q18 -17 93 -74"/><path d="M50 -108Q-0 -0 -53 107"/><path d="M78 -90Q10 -9 96 -71"/><path d="M-118 14Q-13 6 -85 83"/><path d="M-63 101Q-11 6 -118 -14"/><path d="M82 86Q-2 12 -101 63"/><path d="M107 53Q-0 1 -117 -21"/><path d="M-113 37Q-22 11 -101 64"/><path d="M66 -99Q5 -18 -5 -119"/><path d="M119 5Q2 -1 52 -107"/><path d="M92 -76Q4 -2 102 -61"/><path d="M107 52Q-0 2 -119 -2"/><path d="M-7 119Q-11 25 -82 86"/><path d="M70 -96Q-1 -1 -80 88"/><path d="M-66 -99Q-1 -1 -88 -80"/><path d="M98 -67Q22 -19 82 -86"/><path d="M115 -31Q9 -4 104 -59"/><path d="M-81 87Q-8 11 -62 101"/><path d="M-49 108Q2 16 78 90"/><path d="M119 5Q4 -7 -52 -107"/><path d="M105 57Q-1 5 -117 19"/><path d="M112 40Q3 1 111 42"/><path d="M-119 1Q-7 11 54 106"/><path d="M81 87Q5 2 118 12"/><path d="M117 -21Q9 1 111 42"/><path d="M114 -36Q15 0 113 37"/><path d="M-66 -99Q3 -13 98 -68"/><path d="M-114 -36Q-10 8 14 118"/><path d="M-50 -108Q1 -4 94 -73"/><path d="M-107 52Q-3 14 70 96"/><path d="M44 -111Q-2 -9 -82 -86"/><path d="M76 91Q-3 6 -115 -30"/><path d="M-119 4Q-4 2 -73 94"/><path d="M117 20Q1 5 -91 77"/><path d="M40 -112Q4 -20 7 -119"/><path d="M76 -92Q1 1 -61 102"/><path d="M89 -79Q16 -3 113 38"/><path d="M117 -22Q6 9 -61 102"/><path d="M17 118Q11 6 106 -54"/><path d="M-106 -54Q-1 1 84 84"/><path d="M-1 119Q12 11 118 -12"/><path d="M50 108Q1 -0 -43 -111"/><path d="M111 -42Q1 -8 -104 -58"/><path d="M46 -110Q3 -9 36 -113"/><path d="M9 119Q2 0 21 -117"/><path d="M-55 106Q-1 14 46 110"/><path d="M25 116Q2 2 119 -3"/><path d="M84 -84Q3 2 -58 104"/><path d="M118 -15Q2 -3 -57 -105"/><path d="M-68 98Q4 17 104 57"/><path d="M118 -18Q1 -3 -90 -77"/><path d="M-117 21Q-2 0 -119 8"/><path d="M-107 51Q-0 -0 -102 -61"/><path d="M-102 61Q-0 -0 101 -63"/><path d="M25 -116Q-1 -2 -114 -35"/><path d="M-10 119Q4 24 45 110"/><path d="M48 109Q-5 11 -113 36"/><path d="M91 -76Q1 1 -44 111"/><path d="M-119 8Q-3 -4 21 -117"/><path d="M-97 69Q-7 17 20 117"/><path d="M-59 103Q1 1 119 -3"/><path d="M-116 29Q-11 1 -118 -11"/><path d="M-116 -24Q-7 7 37 113"/><path d="M-106 55Q-3 1 -110 45"/><path d="M28 -116Q4 -8 77 -90"/><path d="M-85 83Q-2 -2 47 -110"/><path d="M-85 83Q-2 20 65 100"/><path d="M-43 -111Q-5 -28 5 -119"/><path d="M44 110Q20 16 117 20"/><path d="M19 -117Q14 -10 117 20"/><path d="M105 -56Q13 -2 117 21"/><path d="M116 -28Q20 -12 81 -87"/><path d="M70 97Q-1 1 -80 -88"/><path d="M-57 -104Q1 -1 68 98"/><path d="M106 55Q16 -5 60 -103"/><path d="M107 52Q11 21 -14 118"/><path d="M-38 -113Q-1 -13 22 -117"/><path d="M-58 -104Q3 -3 92 76"/><path d="M119 7Q6 -7 -27 -116"/><path d="M-26 116Q-2 13 -13 118"/><path d="M118 15Q2 -2 -7 -119"/><path d="M-102 61Q-16 -4 -58 -104"/><path d="M105 -56Q-0 -0 -110 46"/><path d="M93 74Q-0 0 -98 -67"/><path d="M-16 118Q-12 17 -105 57"/><path d="M-115 -30Q0 -0 119 4"/><path d="M-100 -65Q-9 -8 -71 -95"/><path d="M-114 32Q-6 12 51 108"/><path d="M78 90Q10 25 6 119"/><path d="M-21 -117Q-13 -19 -101 -63"/><path d="M-91 76Q-5 20 43 111"/><path d="M-75 -93Q-2 1 20 117"/><path d="M112 -40Q-1 -4 -119 -4"/><path d="M-112 -41Q-10 -2 -119 -11"/><path d="M70 -96Q22 -14 117 -21"/><path d="M87 81Q0 1 -39 112"/><path d="M-119 -9Q-11 6 -59 103"/><path d="M94 -73Q11 -4 119 4"/><path d="M112 -41Q6 -4 87 -81"/><path d="M100 -64Q-1 -3 -118 16"/><path d="M26 -116Q0 -0 89 -79"/><path d="M-32 -115Q-4 -27 -5 -119"/><path d="M68 97Q2 0 86 -83"/><path d="M-51 -107Q-6 -14 -39 -112"/><path d="M14 118Q2 1 106 -55"/><path d="M105 55Q6 15 -37 113"/><path d="M31 115Q5 5 116 27"/><path d="M-91 -77Q-1 -2 -24 -117"/><path d="M-119 -8Q-11 12 18 118"/><path d="M-87 -81Q1 -4 116 -28"/><path d="M116 -28Q4 5 -45 110"/><path d="M-5 119Q-4 5 -114 33"/><path d="M108 51Q2 -2 -78 -90"/><path d="M20 -117Q-8 -15 -109 -47"/><path d="M42 -111Q1 -17 -32 -115"/><path d="M-47 110Q5 4 94 -74"/><path d="M60 -103Q2 -10 -10 -119"/><path d="M27 -116Q5 -7 99 -65"/><path d="M-39 -113Q1 -1 79 89"/><path d="M76 92Q5 14 3 119"/><path d="M-114 -33Q-7 -0 -115 30"/><path d="M-88 80Q1 6 105 55"/><path d="M119 -10Q17 6 80 88"/><path d="M110 45Q3 6 -31 115"/><path d="M-117 24Q-10 -7 -26 -116"/><path d="M-47 109Q1 7 67 98"/><path d="M4 -119Q6 -25 53 -107"/></g></g><g transform="translate(1347.6,266.7)"><path fill="#C2C2BD" stroke="#3C3C3C" stroke-width="1" d="M164.4 -0.1A164.4 164.4 0 0 1 143.6 80L138.6 77.1A158.6 158.6 0 0 0 158.6 -0.1ZM142.2 82.4A164.4 164.4 0 0 1 93.1 135.5L89.8 130.7A158.6 158.6 0 0 0 137.2 79.5ZM90.7 137.1A164.4 164.4 0 0 1 22.9 162.8L22.1 157.1A158.6 158.6 0 0 0 87.5 132.3ZM20 163.2A164.4 164.4 0 0 1 -46.7 157.6L-45 152.1A158.6 158.6 0 0 0 19.3 157.4ZM-49.4 156.8A164.4 164.4 0 0 1 -106.6 125.2L-102.8 120.8A158.6 158.6 0 0 0 -47.7 151.3ZM-108.7 123.3A164.4 164.4 0 0 1 -141.8 83.2L-136.8 80.3A158.6 158.6 0 0 0 -104.9 119ZM-143.2 80.7A164.4 164.4 0 0 1 -161.2 32.5L-155.5 31.3A158.6 158.6 0 0 0 -138.2 77.9ZM-161.7 29.7A164.4 164.4 0 0 1 -163.1 -20.6L-157.3 -19.9A158.6 158.6 0 0 0 -156 28.6ZM-162.7 -23.4A164.4 164.4 0 0 1 -147.9 -71.8L-142.7 -69.3A158.6 158.6 0 0 0 -157 -22.6ZM-146.6 -74.4A164.4 164.4 0 0 1 -118.1 -114.4L-113.9 -110.4A158.6 158.6 0 0 0 -141.4 -71.8ZM-116 -116.5A164.4 164.4 0 0 1 -76.2 -145.7L-73.5 -140.6A158.6 158.6 0 0 0 -112 -112.3ZM-73.6 -147A164.4 164.4 0 0 1 -28.8 -161.9L-27.8 -156.1A158.6 158.6 0 0 0 -71 -141.8ZM-26 -162.3A164.4 164.4 0 0 1 19.8 -163.2L19.1 -157.5A158.6 158.6 0 0 0 -25.1 -156.6ZM22.6 -162.8A164.4 164.4 0 0 1 64.8 -151.1L62.5 -145.8A158.6 158.6 0 0 0 21.8 -157.1ZM67.4 -150A164.4 164.4 0 0 1 102.3 -128.7L98.7 -124.1A158.6 158.6 0 0 0 65 -144.7ZM104.6 -126.9A164.4 164.4 0 0 1 132.5 -97.3L127.8 -93.9A158.6 158.6 0 0 0 100.9 -122.4ZM134.2 -95A164.4 164.4 0 0 1 151 -65L145.7 -62.7A158.6 158.6 0 0 0 129.4 -91.6ZM152.1 -62.4A164.4 164.4 0 0 1 160.9 -33.9L155.2 -32.7A158.6 158.6 0 0 0 146.7 -60.2ZM161.4 -31.1A164.4 164.4 0 0 1 164.4 -3L158.6 -2.9A158.6 158.6 0 0 0 155.7 -30Z"/><path fill="none" stroke="#222" stroke-width="0.9" d="M167.6 -0.1A167.6 167.6 0 0 1 146.4 81.5M145 84.1A167.6 167.6 0 0 1 94.9 138.1M92.5 139.8A167.6 167.6 0 0 1 23.3 166M20.4 166.4A167.6 167.6 0 0 1 -47.6 160.7M-50.4 159.8A167.6 167.6 0 0 1 -108.6 127.6M-110.8 125.7A167.6 167.6 0 0 1 -144.6 84.8M-146 82.3A167.6 167.6 0 0 1 -164.3 33.1M-164.8 30.3A167.6 167.6 0 0 1 -166.3 -21M-165.9 -23.9A167.6 167.6 0 0 1 -150.8 -73.2M-149.5 -75.8A167.6 167.6 0 0 1 -120.4 -116.6M-118.3 -118.7A167.6 167.6 0 0 1 -77.6 -148.5M-75 -149.9A167.6 167.6 0 0 1 -29.4 -165M-26.5 -165.5A167.6 167.6 0 0 1 20.1 -166.4M23 -166A167.6 167.6 0 0 1 66 -154M68.7 -152.9A167.6 167.6 0 0 1 104.3 -131.2M106.6 -129.3A167.6 167.6 0 0 1 135.1 -99.2M136.8 -96.8A167.6 167.6 0 0 1 153.9 -66.3M155.1 -63.6A167.6 167.6 0 0 1 164 -34.6M164.6 -31.7A167.6 167.6 0 0 1 167.6 -3.1"/><path stroke="#333" stroke-width="0.7" d="M167.5 6.4L169.1 6.5M167.1 13L168.7 13.1M166.5 19.6L168 19.7M164.4 32.6L166 32.9M163 39L164.6 39.4M161.3 45.4L162.9 45.8M157.3 57.9L158.8 58.4M154.9 64L156.4 64.6M152.3 70L153.7 70.7M141.6 89.7L142.9 90.5M138 95.2L139.3 96.1M134.1 100.5L135.4 101.5M125.8 110.7L127 111.8M121.4 115.6L122.5 116.7M116.7 120.3L117.9 121.4M106.9 129L108 130.3M101.8 133.1L102.8 134.4M96.5 137L97.4 138.3M86.9 143.3L87.8 144.7M81.3 146.6L82 148M75.4 149.7L76.2 151.1M63.5 155.1L64.1 156.6M57.3 157.5L57.9 159M51.1 159.6L51.6 161.1M38.4 163.1L38.8 164.7M32 164.5L32.3 166.1M25.5 165.6L25.7 167.2M13.9 167L14 168.6M7.3 167.4L7.4 169M0.7 167.6L0.7 169.2M-12.4 167.1L-12.5 168.7M-19 166.5L-19.2 168.1M-25.5 165.6L-25.7 167.2M-38.4 163.1L-38.8 164.7M-44.8 161.5L-45.2 163M-56.6 157.7L-57.2 159.2M-62.8 155.4L-63.4 156.9M-68.8 152.8L-69.5 154.3M-80.6 146.9L-81.4 148.3M-86.3 143.7L-87.1 145M-91.9 140.2L-92.8 141.5M-102.6 132.5L-103.6 133.8M-107.7 128.4L-108.8 129.6M-115.7 121.3L-116.8 122.4M-120.4 116.6L-121.5 117.7M-124.8 111.8L-126 112.9M-133.2 101.7L-134.5 102.7M-137.1 96.4L-138.4 97.3M-140.8 90.9L-142.1 91.8M-149.1 76.5L-150.6 77.2M-152 70.6L-153.5 71.2M-154.7 64.5L-156.2 65.2M-159.3 52.2L-160.8 52.7M-161.2 45.9L-162.7 46.4M-162.9 39.6L-164.4 39.9M-165.9 23.8L-167.5 24M-166.7 17.2L-168.3 17.4M-167.3 10.7L-168.9 10.8M-167.6 -2.5L-169.2 -2.5M-167.4 -9.1L-169 -9.2M-166.9 -15.6L-168.5 -15.8M-164.8 -30.4L-166.4 -30.7M-163.5 -36.8L-165.1 -37.2M-161.9 -43.2L-163.5 -43.6M-158 -55.8L-159.5 -56.3M-155.7 -62L-157.2 -62.6M-153.2 -68L-154.6 -68.7M-146.4 -81.6L-147.8 -82.4M-143.1 -87.3L-144.4 -88.2M-139.5 -92.9L-140.8 -93.8M-131.8 -103.5L-133.1 -104.5M-127.6 -108.6L-128.9 -109.7M-123.3 -113.6L-124.4 -114.6M-113.6 -123.3L-114.6 -124.4M-108.6 -127.6L-109.7 -128.9M-103.5 -131.8L-104.5 -133.1M-92.9 -139.5L-93.8 -140.8M-87.3 -143.1L-88.2 -144.4M-81.6 -146.4L-82.4 -147.8M-69.1 -152.7L-69.8 -154.1M-63.1 -155.3L-63.7 -156.8M-56.9 -157.6L-57.5 -159.1M-44.4 -161.6L-44.8 -163.2M-38 -163.2L-38.3 -164.8M-31.5 -164.6L-31.8 -166.2M-20 -166.4L-20.2 -168M-13.4 -167.1L-13.6 -168.7M-6.9 -167.5L-6.9 -169.1M6.3 -167.5L6.3 -169.1M12.9 -167.1L13 -168.7M19.4 -166.5L19.6 -168.1M29.5 -165L29.8 -166.6M36 -163.7L36.3 -165.3M42.4 -162.2L42.8 -163.7M55 -158.3L55.5 -159.8M61.2 -156L61.7 -157.5M74.7 -150.1L75.4 -151.5M80.5 -147L81.3 -148.4M86.2 -143.7L87 -145.1M97.2 -136.5L98.1 -137.8M102.5 -132.6L103.5 -133.9M111.6 -125L112.7 -126.2M116.4 -120.6L117.5 -121.7M121.1 -115.9L122.2 -117M129.8 -106L131 -107.1M133.9 -100.9L135.1 -101.8M140.5 -91.4L141.8 -92.3M144 -85.8L145.3 -86.6M147.2 -80.1L148.6 -80.9M153.1 -68.3L154.5 -69M157.4 -57.5L158.9 -58M159.6 -51.2L161.1 -51.7M161.5 -44.9L163 -45.4M165.7 -25.2L167.3 -25.4M166.6 -18.7L168.1 -18.9M167.2 -12.1L168.8 -12.2"/><path stroke="#222" stroke-width="0.9" d="M167.6 -0.1L170.9 -0.1M165.6 26.1L168.8 26.6M159.4 51.7L162.6 52.7M149.4 76L152.3 77.5M145 84.1L147.9 85.7M130.1 105.7L132.6 107.8M111.9 124.7L114.1 127.2M92.5 139.8L94.3 142.5M69.5 152.5L70.9 155.5M44.8 161.5L45.7 164.7M20.4 166.4L20.8 169.6M-5.8 167.5L-6 170.8M-32 164.5L-32.6 167.8M-50.4 159.8L-51.4 163M-74.8 150L-76.3 152.9M-97.3 136.4L-99.2 139.1M-110.8 125.7L-113 128.2M-129.1 106.8L-131.7 108.9M-144.3 85.3L-147.1 87M-146 82.3L-148.9 83.9M-157.1 58.4L-160.2 59.6M-164.3 33.1L-167.5 33.8M-164.8 30.3L-168.1 30.9M-167.5 4.1L-170.8 4.2M-165.9 -23.9L-169.2 -24.4M-160.1 -49.6L-163.3 -50.5M-149.5 -75.8L-152.4 -77.3M-135.8 -98.3L-138.4 -100.2M-118.3 -118.7L-120.6 -121.1M-98.3 -135.8L-100.2 -138.4M-75 -149.9L-76.5 -152.8M-50.7 -159.8L-51.7 -162.9M-26.5 -165.5L-27 -168.7M-0.3 -167.6L-0.3 -170.9M23 -166L23.5 -169.3M48.7 -160.4L49.7 -163.5M68.7 -152.9L70.1 -155.9M91.8 -140.2L93.6 -143M106.6 -129.3L108.7 -131.9M125.5 -111.1L128 -113.2M136.8 -96.8L139.5 -98.8M150.3 -74.3L153.2 -75.7M155.1 -63.6L158.1 -64.8M163.1 -38.6L166.3 -39.3M164.6 -31.7L167.8 -32.3M167.5 -5.6L170.8 -5.7"/><g font-size="4.3" fill="#444" text-anchor="middle"><text transform="translate(173.2,4.1) rotate(-88.6)" dy="1.4">0Mb</text><text transform="translate(171.1,26.9) rotate(-81.1)" dy="1.4">20Mb</text><text transform="translate(164.8,53.4) rotate(-72.1)" dy="1.4">40Mb</text><text transform="translate(154.4,78.5) rotate(-63.1)" dy="1.4">60Mb</text><text transform="translate(147.7,90.5) rotate(-58.5)" dy="1.4">0Mb</text><text transform="translate(134.4,109.2) rotate(-50.9)" dy="1.4">20Mb</text><text transform="translate(115.7,128.9) rotate(-41.9)" dy="1.4">40Mb</text><text transform="translate(92,146.7) rotate(-32.1)" dy="1.4">0Mb</text><text transform="translate(71.8,157.6) rotate(-24.5)" dy="1.4">20Mb</text><text transform="translate(46.3,166.9) rotate(-15.5)" dy="1.4">40Mb</text><text transform="translate(16.9,172.4) rotate(-5.6)" dy="1.4">0Mb</text><text transform="translate(-6,173.1) rotate(2)" dy="1.4">20Mb</text><text transform="translate(-33,170) rotate(11)" dy="1.4">40Mb</text><text transform="translate(-56.1,163.9) rotate(18.9)" dy="1.4">0Mb</text><text transform="translate(-77.3,155) rotate(26.5)" dy="1.4">20Mb</text><text transform="translate(-100.6,141) rotate(35.5)" dy="1.4">40Mb</text><text transform="translate(-117.7,127.1) rotate(42.8)" dy="1.4">0Mb</text><text transform="translate(-133.5,110.4) rotate(50.4)" dy="1.4">20Mb</text><text transform="translate(-149.1,88.2) rotate(59.4)" dy="1.4">40Mb</text><text transform="translate(-152.9,81.3) rotate(62)" dy="1.4">0Mb</text><text transform="translate(-162.3,60.4) rotate(69.6)" dy="1.4">20Mb</text><text transform="translate(-169.8,34.2) rotate(78.6)" dy="1.4">40Mb</text><text transform="translate(-171.1,27.1) rotate(81)" dy="1.4">0Mb</text><text transform="translate(-173.1,4.2) rotate(88.6)" dy="1.4">20Mb</text><text transform="translate(-170.8,-28.9) rotate(-80.4)" dy="1.4">0Mb</text><text transform="translate(-165.5,-51.2) rotate(-72.8)" dy="1.4">20Mb</text><text transform="translate(-152.5,-82.1) rotate(-61.7)" dy="1.4">0Mb</text><text transform="translate(-140.3,-101.6) rotate(-54.1)" dy="1.4">20Mb</text><text transform="translate(-119.2,-125.6) rotate(-43.5)" dy="1.4">0Mb</text><text transform="translate(-101.6,-140.3) rotate(-35.9)" dy="1.4">20Mb</text><text transform="translate(-73.7,-156.7) rotate(-25.2)" dy="1.4">0Mb</text><text transform="translate(-52.4,-165.1) rotate(-17.6)" dy="1.4">20Mb</text><text transform="translate(-23.2,-171.6) rotate(-7.7)" dy="1.4">0Mb</text><text transform="translate(-0.3,-173.2) rotate(-0.1)" dy="1.4">20Mb</text><text transform="translate(28,-170.9) rotate(9.3)" dy="1.4">0Mb</text><text transform="translate(50.3,-165.7) rotate(16.9)" dy="1.4">20Mb</text><text transform="translate(74.8,-156.2) rotate(25.6)" dy="1.4">0Mb</text><text transform="translate(94.8,-144.9) rotate(33.2)" dy="1.4">20Mb</text><text transform="translate(113.4,-130.9) rotate(40.9)" dy="1.4">0Mb</text><text transform="translate(129.7,-114.8) rotate(48.5)" dy="1.4">20Mb</text><text transform="translate(143.8,-96.6) rotate(56.1)" dy="1.4">0Mb</text><text transform="translate(155.3,-76.7) rotate(63.7)" dy="1.4">20Mb</text><text transform="translate(161.8,-61.8) rotate(69.1)" dy="1.4">0Mb</text><text transform="translate(168.6,-39.8) rotate(76.7)" dy="1.4">20Mb</text><text transform="translate(170.8,-28.6) rotate(80.5)" dy="1.4">0Mb</text><text transform="translate(173.1,-5.7) rotate(88.1)" dy="1.4">20Mb</text></g><g font-size="11.5" text-anchor="middle"><text transform="translate(174.4,45.2) rotate(-75.5)" dy="4">1</text><text transform="translate(132.2,122.4) rotate(-47.2)" dy="4">2</text><text transform="translate(63.8,168.5) rotate(-20.8)" dy="4">3</text><text transform="translate(-14.9,179.6) rotate(4.8)" dy="4">4</text><text transform="translate(-87.2,157.7) rotate(28.9)" dy="4">5</text><text transform="translate(-139,114.6) rotate(50.5)" dy="4">6</text><text transform="translate(-168.9,62.8) rotate(69.6)" dy="4">7</text><text transform="translate(-180.1,5) rotate(88.4)" dy="4">8</text><text transform="translate(-172.3,-52.8) rotate(-72.9)" dy="4">9</text><text transform="translate(-146.7,-104.6) rotate(-54.5)" dy="4">10</text><text transform="translate(-106.6,-145.3) rotate(-36.2)" dy="4">11</text><text transform="translate(-56.7,-171) rotate(-18.4)" dy="4">12</text><text transform="translate(-3.5,-180.2) rotate(-1.1)" dy="4">13</text><text transform="translate(48.3,-173.6) rotate(15.5)" dy="4">14</text><text transform="translate(93.8,-153.9) rotate(31.4)" dy="4">15</text><text transform="translate(130.9,-123.8) rotate(46.6)" dy="4">16</text><text transform="translate(157.1,-88.2) rotate(60.7)" dy="4">17</text><text transform="translate(172.2,-53) rotate(72.9)" dy="4">18</text><text transform="translate(179.2,-18.8) rotate(84)" dy="4">19</text></g><circle r="148" fill="none" stroke="#E31A1C" stroke-opacity="0.78" stroke-width="7" stroke-dasharray="0.0 0.7 0.9 0.6 0.7 3.5 3.0 10.3 2.3 3.0 1.8 2.2 1.0 2.6 0.8 9.8 1.0 8.2 2.0 1.8 0.8 1.1 0.8 0.9 0.7 4.5 0.7 13.5 4.3 0.3 1.9 3.0 1.7 2.1 1.3 0.3 1.0 0.8 0.8 2.2 1.3 1.9 2.1 0.8 1.5 2.9 2.4 1.5 3.5 2.5 1.2 0.6 2.9 1.4 0.9 0.7 3.5 4.7 3.8 1.2 1.5 4.5 1.0 1.4 0.8 0.5 2.1 1.0 4.4 1.4 1.3 1.1 0.7 0.7 1.0 0.6 0.9 4.0 0.9 0.5 2.4 0.4 2.0 0.3 1.0 0.5 2.1 5.7 2.2 1.8 1.5 1.9 0.9 2.5 0.9 4.6 1.5 2.5 3.5 2.0 1.0 3.6 2.5 0.4 0.9 3.4 1.8 1.5 2.1 1.3 2.4 0.8 0.9 2.0 5.4 1.0 2.1 1.3 0.9 0.9 3.0 0.4 2.7 2.3 1.5 1.3 4.4 3.6 0.9 1.2 1.5 1.9 2.1 3.6 2.6 1.3 2.5 3.7 0.9 10.2 2.1 3.5 2.6 1.1 2.2 1.7 0.8 1.3 2.2 3.1 1.5 5.7 4.0 1.2 2.1 1.5 0.8 4.9 7.9 1.4 1.6 0.6 2.7 4.1 3.0 2.4 4.6 0.6 0.7 0.7 2.9 1.8 0.7 1.4 1.3 2.3 1.2 12.1 3.7 5.8 1.5 7.4 0.9 0.7 1.7 11.9 2.0 2.2 1.0 0.5 0.7 3.1 0.8 2.3 1.1 4.1 1.9 5.9 6.4 0.4 1.5 0.7 3.5 2.1 2.4 1.6 2.1 1.1 3.0 0.7 0.7 0.7 0.8 1.2 1.0 2.1 1.1 1.9 0.7 2.7 1.0 0.8 1.0 0.6 1.9 4.6 1.3 2.5 2.1 2.3 1.7 1.1 3.7 0.5 1.3 2.5 3.0 5.2 0.9 3.9 4.4 2.2 2.1 3.0 0.8 6.0 1.3 2.7 0.7 4.8 2.1 2.7 2.2 2.3 2.3 0.5 1.8 5.1 2.1 2.7 0.9 3.2 3.9 2.2 1.5 2.7 2.3 5.8 0.9 1.5 1.0 2.6 2.1 2.9 1.5 0.4 1.5 1.5 0.7 0.6 2.1 7.0 1.3 2.2 0.8 0.7 2.5 8.8 1.5 11.5 2.0 1.1 1.3 1.9 1.3 4.3 2.1 2.1 1.5 3.9 2.5 3.9 0.7 2.9 1.3 6.6 1.3 3.5 0.7 0.7 1.3 1.0 1.0 8.6 1.0 1.5 2.4 0.6 1.5 2.7 1.3 1.3 1.7 8.9 3.1 3.9 1.0 1.8 3.0 9.2 1.5 1.0 1.5 0.5 1.6 1.2 1.0 3.4 1.5 2.1 0.7 1.4 2.1 3.8 0.8 5.5 0.7 3.6 1.5 1.9 1.5 0.8 0.8 0.9 1.0 1.3 1.3 0.4 2.1 2.7 3.1 1.1 2.1 0.9 1.0 1.7 0.8 5.6 3.8 9.9 1.2 2.7 0.8 5.0 1.0 1.3 1.9 2.0 1.3 4.4 0.7 5.1 1.0 3.2 1.5 7.9 0.9 1.5 0.7 10.5 1.3 5.1 1.0 0.9 2.3 1.5 2.1 0.7 3.6 0.4 0.9 5.4 2.1 0.7"/><circle r="148" fill="none" stroke="#E31A1C" stroke-opacity="0.78" stroke-width="7" stroke-dasharray="0.0 5.3 1.5 13.6 1.5 3.9 1.5 6.2 1.9 1.8 0.7 0.4 1.0 0.4 0.7 6.8 1.7 1.5 0.8 1.1 1.0 0.9 0.8 2.3 0.9 2.0 0.9 2.7 1.3 4.1 1.5 1.5 1.5 5.2 2.1 5.1 0.8 1.3 2.8 3.3 0.8 2.5 2.4 0.4 1.0 0.7 1.5 0.4 1.0 2.8 0.8 1.3 1.0 2.0 4.4 1.2 1.1 8.9 1.5 3.1 0.7 7.3 2.6 9.6 3.0 0.5 0.8 0.5 3.0 3.2 1.6 1.2 0.9 1.2 2.1 2.8 0.9 0.9 1.5 2.5 2.4 4.6 0.9 1.7 1.0 1.4 0.9 0.7 2.7 1.0 2.2 2.3 1.7 1.7 1.5 1.7 1.0 5.5 0.7 0.4 2.1 0.4 2.1 2.6 2.1 0.3 0.8 4.3 0.9 1.1 1.0 6.4 0.8 2.0 2.3 0.9 3.9 3.7 0.8 2.4 2.5 1.5 1.1 1.3 1.7 1.3 6.7 5.9 1.0 2.7 0.8 4.4 1.5 6.1 2.3 3.5 3.2 0.4 0.7 2.8 0.7 1.3 1.3 2.8 1.3 3.3 3.8 4.4 2.5 2.5 2.5 0.5 1.3 3.1 1.3 2.1 0.7 5.1 1.1 3.8 0.9 0.9 1.0 2.5 0.9 4.8 1.3 1.1 1.7 0.6 5.9 0.5 1.2 8.5 1.0 2.6 1.3 1.3 0.8 1.1 2.5 1.6 0.8 5.3 2.0 4.6 7.1 1.1 0.9 1.2 0.7 4.2 3.5 3.7 1.1 1.0 0.8 3.7 3.0 0.5 1.5 1.8 2.3 1.4 1.3 7.4 3.9 8.1 3.6 0.3 2.5 0.7 1.5 3.5 1.4 2.1 2.4 5.0 2.6 1.1 0.9 0.9 2.7 0.9 4.8 5.4 1.3 1.4 4.0 1.5 1.5 1.2 4.3 2.0 2.2 3.0 1.8 2.3 2.4 1.7 0.9 1.3 4.7 2.6 3.1 0.7 3.7 3.5 1.5 1.0 4.9 0.4 2.1 7.7 0.9 0.5 1.0 5.6 1.9 2.7 1.3 1.2 6.2 3.1 0.7 2.7 6.7 5.5 1.5 2.7 1.3 14.1 3.5 1.8 0.9 0.5 1.0 5.9 1.0 3.2 4.9 1.9 0.9 0.7 2.0 0.8 1.3 4.2 1.5 1.3 2.3 1.2 0.9 1.4 1.8 3.8 1.7 1.1 2.2 2.8 7.6 1.0 2.1 2.7 2.1 1.1 1.0 4.1 0.9 0.9 2.1 4.5 0.8 2.2 1.5 0.8 0.8 5.0 1.0 0.3 0.9 0.9 0.9 0.7 4.3 0.4 1.0 1.1 0.9 3.1 1.6 0.7 0.7 2.3 1.0 1.0 5.4 1.2 0.7 0.3 2.8 0.3 3.9 0.8 1.5 4.0 2.6 0.9 0.9 3.4 1.6 3.6 1.3 4.0 3.0 4.8 1.0 9.8 1.5 2.7 0.8 5.3 1.0 3.7 0.8 20.3 1.0 2.7 2.1 5.3 1.3 0.4 1.0 11.5 1.3 0.8 2.6 2.8 0.9 8.7 0.9 3.5 2.1 4.8 0.8 2.6 1.1 1.9 1.2 3.3 2.8 6.2"/><path d="M-74.8 131.4A151.2 151.2 0 0 1 -77.9 129.6L-74.6 124.1A144.8 144.8 0 0 0 -71.6 125.9Z" fill="#E31A1C" fill-opacity="0.3" stroke="#E31A1C" stroke-opacity="0.85" stroke-width="0.8"/><path d="M-104.9 108.9A151.2 151.2 0 0 1 -110.8 102.8L-106.2 98.5A144.8 144.8 0 0 0 -100.5 104.3Z" fill="#E31A1C" fill-opacity="0.3" stroke="#E31A1C" stroke-opacity="0.85" stroke-width="0.8"/><path d="M-56.1 -140.4A151.2 151.2 0 0 1 -50.2 -142.6L-48.1 -136.6A144.8 144.8 0 0 0 -53.7 -134.5Z" fill="#E31A1C" fill-opacity="0.3" stroke="#E31A1C" stroke-opacity="0.85" stroke-width="0.8"/><path d="M16 -150.3A151.2 151.2 0 0 1 17.9 -150.1L17.1 -143.8A144.8 144.8 0 0 0 15.3 -144Z" fill="#E31A1C" fill-opacity="0.3" stroke="#E31A1C" stroke-opacity="0.85" stroke-width="0.8"/><path d="M3 -151.2A151.2 151.2 0 0 1 5.9 -151.1L5.7 -144.7A144.8 144.8 0 0 0 2.9 -144.8Z" fill="#E31A1C" fill-opacity="0.3" stroke="#E31A1C" stroke-opacity="0.85" stroke-width="0.8"/><path d="M-122.8 88.3A151.2 151.2 0 0 1 -123.8 86.7L-118.6 83.1A144.8 144.8 0 0 0 -117.6 84.5Z" fill="#E31A1C" fill-opacity="0.3" stroke="#E31A1C" stroke-opacity="0.85" stroke-width="0.8"/><path d="M-36.8 146.6A151.2 151.2 0 0 1 -42.9 145L-41.1 138.8A144.8 144.8 0 0 0 -35.3 140.4Z" fill="#E31A1C" fill-opacity="0.3" stroke="#E31A1C" stroke-opacity="0.85" stroke-width="0.8"/><path d="M107.3 -106.5A151.2 151.2 0 0 1 110.6 -103.1L105.9 -98.7A144.8 144.8 0 0 0 102.8 -102Z" fill="#E31A1C" fill-opacity="0.3" stroke="#E31A1C" stroke-opacity="0.85" stroke-width="0.8"/><path d="M-38.4 146.2A151.2 151.2 0 0 1 -40.7 145.6L-39 139.5A144.8 144.8 0 0 0 -36.8 140Z" fill="#E31A1C" fill-opacity="0.3" stroke="#E31A1C" stroke-opacity="0.85" stroke-width="0.8"/><path d="M-147.7 -32.2A151.2 151.2 0 0 1 -147.2 -34.6L-141 -33.1A144.8 144.8 0 0 0 -141.5 -30.9Z" fill="#E31A1C" fill-opacity="0.3" stroke="#E31A1C" stroke-opacity="0.85" stroke-width="0.8"/><path d="M-72.6 -132.6A151.2 151.2 0 0 1 -70.1 -134L-67.1 -128.3A144.8 144.8 0 0 0 -69.5 -127Z" fill="#E31A1C" fill-opacity="0.3" stroke="#E31A1C" stroke-opacity="0.85" stroke-width="0.8"/><path d="M-131 -75.5A151.2 151.2 0 0 1 -128.6 -79.6L-123.1 -76.2A144.8 144.8 0 0 0 -125.5 -72.3Z" fill="#E31A1C" fill-opacity="0.3" stroke="#E31A1C" stroke-opacity="0.85" stroke-width="0.8"/><path d="M41.8 145.3A151.2 151.2 0 0 1 35.7 146.9L34.2 140.7A144.8 144.8 0 0 0 40.1 139.1Z" fill="#E31A1C" fill-opacity="0.3" stroke="#E31A1C" stroke-opacity="0.85" stroke-width="0.8"/><path d="M151.2 0.2A151.2 151.2 0 0 1 151.1 6.5L144.7 6.2A144.8 144.8 0 0 0 144.8 0.2Z" fill="#E31A1C" fill-opacity="0.3" stroke="#E31A1C" stroke-opacity="0.85" stroke-width="0.8"/><path d="M-58.9 139.3A151.2 151.2 0 0 1 -61.1 138.3L-58.5 132.5A144.8 144.8 0 0 0 -56.4 133.4Z" fill="#E31A1C" fill-opacity="0.3" stroke="#E31A1C" stroke-opacity="0.85" stroke-width="0.8"/><path d="M59.7 138.9A151.2 151.2 0 0 1 58 139.6L55.6 133.7A144.8 144.8 0 0 0 57.2 133Z" fill="#E31A1C" fill-opacity="0.3" stroke="#E31A1C" stroke-opacity="0.85" stroke-width="0.8"/><path d="M143.4 48.1A151.2 151.2 0 0 1 142.1 51.5L136.1 49.4A144.8 144.8 0 0 0 137.3 46Z" fill="#E31A1C" fill-opacity="0.3" stroke="#E31A1C" stroke-opacity="0.85" stroke-width="0.8"/><path d="M-6.2 -151.1A151.2 151.2 0 0 1 2.2 -151.2L2.1 -144.8A144.8 144.8 0 0 0 -6 -144.7Z" fill="#E31A1C" fill-opacity="0.3" stroke="#E31A1C" stroke-opacity="0.85" stroke-width="0.8"/><path d="M-147.5 -33.4A151.2 151.2 0 0 1 -147 -35.2L-140.8 -33.7A144.8 144.8 0 0 0 -141.2 -32Z" fill="#E31A1C" fill-opacity="0.3" stroke="#E31A1C" stroke-opacity="0.85" stroke-width="0.8"/><path d="M43.9 144.7A151.2 151.2 0 0 1 35.8 146.9L34.3 140.7A144.8 144.8 0 0 0 42.1 138.6Z" fill="#E31A1C" fill-opacity="0.3" stroke="#E31A1C" stroke-opacity="0.85" stroke-width="0.8"/><path d="M120.5 91.3A151.2 151.2 0 0 1 116.6 96.3L111.7 92.2A144.8 144.8 0 0 0 115.4 87.4Z" fill="#E31A1C" fill-opacity="0.3" stroke="#E31A1C" stroke-opacity="0.85" stroke-width="0.8"/><path d="M12.5 -150.7A151.2 151.2 0 0 1 17.2 -150.2L16.5 -143.9A144.8 144.8 0 0 0 11.9 -144.3Z" fill="#E31A1C" fill-opacity="0.3" stroke="#E31A1C" stroke-opacity="0.85" stroke-width="0.8"/><path d="M-132.7 -72.4A151.2 151.2 0 0 1 -131.6 -74.5L-126 -71.4A144.8 144.8 0 0 0 -127.1 -69.4Z" fill="#E31A1C" fill-opacity="0.3" stroke="#E31A1C" stroke-opacity="0.85" stroke-width="0.8"/><path d="M41.9 145.3A151.2 151.2 0 0 1 35.8 146.9L34.3 140.7A144.8 144.8 0 0 0 40.1 139.1Z" fill="#E31A1C" fill-opacity="0.3" stroke="#E31A1C" stroke-opacity="0.85" stroke-width="0.8"/><path d="M9.3 150.9A151.2 151.2 0 0 1 7.5 151L7.2 144.6A144.8 144.8 0 0 0 8.9 144.5Z" fill="#E31A1C" fill-opacity="0.3" stroke="#E31A1C" stroke-opacity="0.85" stroke-width="0.8"/><path d="M-106.1 -107.7A151.2 151.2 0 0 1 -101.5 -112L-97.2 -107.3A144.8 144.8 0 0 0 -101.6 -103.1Z" fill="#E31A1C" fill-opacity="0.3" stroke="#E31A1C" stroke-opacity="0.85" stroke-width="0.8"/><path d="M114.6 98.7A151.2 151.2 0 0 1 110.3 103.4L105.7 99A144.8 144.8 0 0 0 109.7 94.5Z" fill="#E31A1C" fill-opacity="0.3" stroke="#E31A1C" stroke-opacity="0.85" stroke-width="0.8"/><path d="M149.3 24A151.2 151.2 0 0 1 148.1 30.3L141.9 29A144.8 144.8 0 0 0 143 23Z" fill="#E31A1C" fill-opacity="0.3" stroke="#E31A1C" stroke-opacity="0.85" stroke-width="0.8"/><path d="M-139.9 57.4A151.2 151.2 0 0 1 -141.6 53L-135.6 50.7A144.8 144.8 0 0 0 -134 55Z" fill="#E31A1C" fill-opacity="0.3" stroke="#E31A1C" stroke-opacity="0.85" stroke-width="0.8"/><path d="M149.6 22.2A151.2 151.2 0 0 1 149 25.9L142.7 24.8A144.8 144.8 0 0 0 143.2 21.3Z" fill="#E31A1C" fill-opacity="0.3" stroke="#E31A1C" stroke-opacity="0.85" stroke-width="0.8"/><circle r="138" fill="none" stroke="#3E9F3B" stroke-opacity="0.78" stroke-width="7" stroke-dasharray="0.0 6.0 0.7 20.0 1.0 1.7 0.7 11.2 0.7 3.7 1.0 8.6 1.0 16.4 1.4 2.6 2.0 0.9 0.7 0.7 1.2 3.1 1.0 7.4 1.5 4.8 0.7 9.4 0.7 0.7 0.7 1.0 1.9 1.2 1.4 9.0 0.7 1.6 1.0 17.2 1.9 0.9 1.0 2.7 1.4 6.8 0.7 0.6 1.9 4.1 1.8 5.9 1.2 10.2 2.3 6.7 1.4 5.1 1.9 7.0 1.2 7.3 0.7 7.2 0.7 4.1 0.7 3.2 1.4 1.8 0.7 4.9 1.9 5.7 1.0 9.0 1.9 4.0 0.7 6.5 1.9 0.4 2.2 4.3 0.8 10.2 1.4 1.2 2.6 9.9 1.9 12.6 0.7 8.9 0.7 3.6 1.9 0.5 1.7 7.9 1.4 4.8 0.8 6.2 0.7 1.5 0.7 10.8 1.9 0.3 1.9 3.5 3.0 5.5 2.1 3.2 2.1 17.9 2.0 1.1 0.8 5.1 0.7 4.6 0.7 1.5 0.7 2.4 0.8 4.5 2.0 10.2 1.2 4.4 0.8 4.2 1.2 11.5 1.9 3.3 1.6 17.1 1.0 9.2 1.0 10.4 0.8 8.2 1.9 15.7 1.4 5.3 1.2 1.3 0.7 4.0 1.2 5.7 1.4 3.7 1.9 29.2 0.8 17.5 1.3 0.7 1.9 0.9 1.4 13.6 0.8 22.8 2.8 12.9 0.7 2.9 1.8 0.7 1.9 14.0 1.3 0.7 1.9 17.7 0.7 12.6 1.0 2.3 3.3 22.0 1.4 10.2 2.3 1.5 1.4 3.7 0.7 10.8 0.7 2.6 1.0 17.0 1.2 4.6 0.7 22.1 2.6 1.4 0.7 6.0"/><circle r="138" fill="none" stroke="#3E9F3B" stroke-opacity="0.78" stroke-width="7" stroke-dasharray="0.0 5.2 0.8 0.3 1.9 0.3 0.7 16.6 1.2 0.6 1.0 2.3 1.4 5.2 0.8 12.0 1.9 4.0 0.7 16.5 1.9 0.4 0.8 0.9 1.0 4.1 1.0 1.9 1.9 1.8 2.5 0.8 0.7 2.7 1.0 13.0 2.9 9.3 1.0 4.0 0.8 3.4 0.7 0.7 0.7 4.1 1.6 1.7 3.4 4.7 0.7 4.2 1.0 2.0 1.4 1.6 1.4 4.2 1.0 1.5 0.7 19.0 2.0 1.0 0.7 13.4 0.8 5.2 1.8 1.1 0.7 6.7 0.7 5.2 1.0 3.3 0.8 11.7 1.2 1.9 1.4 3.4 1.4 7.1 0.8 8.8 1.0 3.8 0.7 1.5 1.4 13.0 0.8 4.0 1.4 20.4 0.8 1.5 1.2 14.2 1.9 10.9 1.0 0.7 1.0 0.5 0.8 2.2 1.2 0.7 1.2 1.3 1.4 8.1 0.8 1.3 1.4 6.7 1.0 8.5 4.0 10.9 0.7 1.4 1.9 5.9 1.4 5.1 0.7 6.7 2.2 0.4 0.7 4.5 0.8 10.1 1.4 15.0 0.7 3.5 1.9 7.0 1.2 0.7 1.4 3.0 0.7 3.0 0.7 0.7 2.3 0.6 0.8 2.9 1.0 1.2 0.7 3.3 1.2 4.9 1.6 7.3 2.0 1.9 0.7 9.8 1.4 0.6 0.7 3.5 0.7 2.5 1.2 2.6 1.0 1.4 0.7 9.8 1.4 32.2 0.7 5.9 0.8 1.2 1.4 8.6 1.0 3.6 0.8 0.7 1.4 1.2 0.8 4.2 1.9 27.0 0.7 2.0 0.7 0.4 1.6 47.7 0.8 12.6 0.7 1.3 1.2 46.9 0.7 0.8 1.0 3.0 1.0 1.8 3.6 22.6 0.8 23.6 1.9 4.2 1.6 24.6 0.8 8.1"/><path d="M-47.6 -132.9A141.2 141.2 0 0 1 -45 -133.8L-43 -127.8A134.8 134.8 0 0 0 -45.4 -126.9Z" fill="#3E9F3B" fill-opacity="0.3" stroke="#3E9F3B" stroke-opacity="0.85" stroke-width="0.8"/><path d="M-141 -6.6A141.2 141.2 0 0 1 -140.9 -9.3L-134.5 -8.9A134.8 134.8 0 0 0 -134.7 -6.3Z" fill="#3E9F3B" fill-opacity="0.3" stroke="#3E9F3B" stroke-opacity="0.85" stroke-width="0.8"/><path d="M-97.6 102A141.2 141.2 0 0 1 -99.6 100.1L-95.1 95.6A134.8 134.8 0 0 0 -93.2 97.4Z" fill="#3E9F3B" fill-opacity="0.3" stroke="#3E9F3B" stroke-opacity="0.85" stroke-width="0.8"/><path d="M36.4 136.4A141.2 141.2 0 0 1 28.7 138.2L27.4 132A134.8 134.8 0 0 0 34.7 130.2Z" fill="#3E9F3B" fill-opacity="0.3" stroke="#3E9F3B" stroke-opacity="0.85" stroke-width="0.8"/><path d="M-15.6 140.3A141.2 141.2 0 0 1 -17.8 140.1L-17 133.7A134.8 134.8 0 0 0 -14.9 134Z" fill="#3E9F3B" fill-opacity="0.3" stroke="#3E9F3B" stroke-opacity="0.85" stroke-width="0.8"/><path d="M73.6 -120.5A141.2 141.2 0 0 1 76.5 -118.7L73 -113.3A134.8 134.8 0 0 0 70.3 -115Z" fill="#3E9F3B" fill-opacity="0.3" stroke="#3E9F3B" stroke-opacity="0.85" stroke-width="0.8"/><path d="M-136.9 -34.4A141.2 141.2 0 0 1 -136.1 -37.8L-129.9 -36.1A134.8 134.8 0 0 0 -130.7 -32.9Z" fill="#3E9F3B" fill-opacity="0.3" stroke="#3E9F3B" stroke-opacity="0.85" stroke-width="0.8"/><path d="M-79.2 -116.9A141.2 141.2 0 0 1 -77.3 -118.1L-73.8 -112.8A134.8 134.8 0 0 0 -75.6 -111.6Z" fill="#3E9F3B" fill-opacity="0.3" stroke="#3E9F3B" stroke-opacity="0.85" stroke-width="0.8"/><path d="M25.5 138.9A141.2 141.2 0 0 1 19.7 139.8L18.8 133.5A134.8 134.8 0 0 0 24.3 132.6Z" fill="#3E9F3B" fill-opacity="0.3" stroke="#3E9F3B" stroke-opacity="0.85" stroke-width="0.8"/><path d="M-131.5 -51.5A141.2 141.2 0 0 1 -130.8 -53.1L-124.9 -50.7A134.8 134.8 0 0 0 -125.5 -49.1Z" fill="#3E9F3B" fill-opacity="0.3" stroke="#3E9F3B" stroke-opacity="0.85" stroke-width="0.8"/><path d="M1.2 -141.2A141.2 141.2 0 0 1 9.1 -140.9L8.7 -134.5A134.8 134.8 0 0 0 1.2 -134.8Z" fill="#3E9F3B" fill-opacity="0.3" stroke="#3E9F3B" stroke-opacity="0.85" stroke-width="0.8"/><path d="M3.7 -141.2A141.2 141.2 0 0 1 6.4 -141.1L6.1 -134.7A134.8 134.8 0 0 0 3.5 -134.8Z" fill="#3E9F3B" fill-opacity="0.3" stroke="#3E9F3B" stroke-opacity="0.85" stroke-width="0.8"/><path d="M16.6 140.2A141.2 141.2 0 0 1 8.7 140.9L8.3 134.5A134.8 134.8 0 0 0 15.8 133.9Z" fill="#3E9F3B" fill-opacity="0.3" stroke="#3E9F3B" stroke-opacity="0.85" stroke-width="0.8"/><path d="M-104.9 94.5A141.2 141.2 0 0 1 -106.7 92.4L-101.9 88.3A134.8 134.8 0 0 0 -100.2 90.2Z" fill="#3E9F3B" fill-opacity="0.3" stroke="#3E9F3B" stroke-opacity="0.85" stroke-width="0.8"/><path d="M117.9 77.7A141.2 141.2 0 0 1 115.4 81.4L110.2 77.7A134.8 134.8 0 0 0 112.5 74.2Z" fill="#3E9F3B" fill-opacity="0.3" stroke="#3E9F3B" stroke-opacity="0.85" stroke-width="0.8"/><path d="M-99.2 -100.5A141.2 141.2 0 0 1 -97.3 -102.3L-92.9 -97.7A134.8 134.8 0 0 0 -94.7 -95.9Z" fill="#3E9F3B" fill-opacity="0.3" stroke="#3E9F3B" stroke-opacity="0.85" stroke-width="0.8"/><path d="M13.7 140.5A141.2 141.2 0 0 1 11 140.8L10.5 134.4A134.8 134.8 0 0 0 13.1 134.2Z" fill="#3E9F3B" fill-opacity="0.3" stroke="#3E9F3B" stroke-opacity="0.85" stroke-width="0.8"/><path d="M82.9 114.3A141.2 141.2 0 0 1 81.5 115.3L77.8 110.1A134.8 134.8 0 0 0 79.2 109.1Z" fill="#3E9F3B" fill-opacity="0.3" stroke="#3E9F3B" stroke-opacity="0.85" stroke-width="0.8"/><path d="M139.1 -24.5A141.2 141.2 0 0 1 139.6 -21.1L133.3 -20.2A134.8 134.8 0 0 0 132.7 -23.4Z" fill="#3E9F3B" fill-opacity="0.3" stroke="#3E9F3B" stroke-opacity="0.85" stroke-width="0.8"/><path d="M-140.1 17.2A141.2 141.2 0 0 1 -140.9 9.4L-134.5 9A134.8 134.8 0 0 0 -133.8 16.5Z" fill="#3E9F3B" fill-opacity="0.3" stroke="#3E9F3B" stroke-opacity="0.85" stroke-width="0.8"/><path d="M-84.3 113.3A141.2 141.2 0 0 1 -87.8 110.6L-83.8 105.6A134.8 134.8 0 0 0 -80.4 108.2Z" fill="#3E9F3B" fill-opacity="0.3" stroke="#3E9F3B" stroke-opacity="0.85" stroke-width="0.8"/><path d="M1 141.2A141.2 141.2 0 0 1 -4.9 141.1L-4.7 134.7A134.8 134.8 0 0 0 1 134.8Z" fill="#3E9F3B" fill-opacity="0.3" stroke="#3E9F3B" stroke-opacity="0.85" stroke-width="0.8"/><circle r="129" fill="none" stroke="#3D66AE" stroke-opacity="0.78" stroke-width="7" stroke-dasharray="0.0 7.4 0.8 5.5 1.6 52.9 0.7 3.4 1.1 2.7 1.5 2.6 1.1 5.7 1.1 1.0 1.8 10.8 1.1 10.4 0.8 14.3 1.8 8.6 1.1 8.1 0.7 9.1 0.7 6.0 1.4 36.9 1.1 0.9 0.9 3.4 0.8 36.7 1.4 14.1 1.1 6.0 1.4 13.9 0.7 15.5 0.8 39.0 0.8 32.0 2.1 70.1 1.8 20.7 0.7 13.9 0.9 12.7 0.7 6.0 1.8 17.0 0.7 8.5 1.8 17.9 1.8 9.9 0.7 8.4 1.4 4.6 1.8 48.4 1.0 14.6 0.7 4.5 0.9 3.3 0.7 3.7 0.7 27.8 0.9 29.2 0.9 5.8 0.9 8.7 0.9 3.4 0.7 65.2 1.8 6.8"/><circle r="129" fill="none" stroke="#3D66AE" stroke-opacity="0.78" stroke-width="7" stroke-dasharray="0.0 27.8 1.1 18.9 1.4 22.3 0.8 6.0 0.7 12.3 0.7 4.8 1.1 2.4 0.7 9.9 1.4 8.8 1.4 35.4 1.5 17.4 0.7 29.7 1.1 6.2 1.9 6.8 1.4 3.5 1.4 60.6 1.8 20.7 0.8 31.9 1.4 1.7 1.1 5.7 1.8 6.6 0.9 23.5 1.8 18.7 1.1 3.7 0.7 7.7 1.8 8.6 0.7 27.1 2.1 14.8 1.1 1.7 1.8 8.1 0.7 26.6 0.7 2.3 0.9 17.1 0.8 11.5 0.7 3.8 0.8 24.5 0.9 11.6 0.9 3.6 0.7 45.4 1.8 8.5 0.8 37.9 1.4 7.5 0.8 2.6 0.8 1.2 0.8 10.6 1.4 2.4 0.9 4.1 2.0 27.4 1.1 6.2 0.7 9.9 0.8 36.3"/><path d="M55.8 119.8A132.2 132.2 0 0 1 52 121.5L49.5 115.7A125.8 125.8 0 0 0 53.1 114Z" fill="#3D66AE" fill-opacity="0.3" stroke="#3D66AE" stroke-opacity="0.85" stroke-width="0.8"/><path d="M-116.3 -62.8A132.2 132.2 0 0 1 -115.3 -64.6L-109.7 -61.5A125.8 125.8 0 0 0 -110.7 -59.8Z" fill="#3D66AE" fill-opacity="0.3" stroke="#3D66AE" stroke-opacity="0.85" stroke-width="0.8"/><path d="M-131.4 -15A132.2 132.2 0 0 1 -131.2 -16.6L-124.8 -15.8A125.8 125.8 0 0 0 -125 -14.2Z" fill="#3D66AE" fill-opacity="0.3" stroke="#3D66AE" stroke-opacity="0.85" stroke-width="0.8"/><path d="M-66.5 114.3A132.2 132.2 0 0 1 -68.7 113L-65.4 107.5A125.8 125.8 0 0 0 -63.3 108.7Z" fill="#3D66AE" fill-opacity="0.3" stroke="#3D66AE" stroke-opacity="0.85" stroke-width="0.8"/><path d="M43.3 124.9A132.2 132.2 0 0 1 38.1 126.6L36.2 120.5A125.8 125.8 0 0 0 41.2 118.8Z" fill="#3D66AE" fill-opacity="0.3" stroke="#3D66AE" stroke-opacity="0.85" stroke-width="0.8"/><path d="M124.9 -43.4A132.2 132.2 0 0 1 125.9 -40.4L119.8 -38.4A125.8 125.8 0 0 0 118.8 -41.3Z" fill="#3D66AE" fill-opacity="0.3" stroke="#3D66AE" stroke-opacity="0.85" stroke-width="0.8"/><path d="M33.2 -128A132.2 132.2 0 0 1 38.5 -126.5L36.6 -120.3A125.8 125.8 0 0 0 31.6 -121.8Z" fill="#3D66AE" fill-opacity="0.3" stroke="#3D66AE" stroke-opacity="0.85" stroke-width="0.8"/><path d="M-116.7 62.1A132.2 132.2 0 0 1 -120 55.5L-114.2 52.8A125.8 125.8 0 0 0 -111 59.1Z" fill="#3D66AE" fill-opacity="0.3" stroke="#3D66AE" stroke-opacity="0.85" stroke-width="0.8"/><path d="M-29.3 128.9A132.2 132.2 0 0 1 -36.4 127.1L-34.7 120.9A125.8 125.8 0 0 0 -27.8 122.7Z" fill="#3D66AE" fill-opacity="0.3" stroke="#3D66AE" stroke-opacity="0.85" stroke-width="0.8"/><path d="M12.4 131.6A132.2 132.2 0 0 1 9.1 131.9L8.7 125.5A125.8 125.8 0 0 0 11.8 125.2Z" fill="#3D66AE" fill-opacity="0.3" stroke="#3D66AE" stroke-opacity="0.85" stroke-width="0.8"/><g fill="none" stroke="#8E47A8" stroke-width="1.2" stroke-opacity="0.34"><path d="M56 105Q1 -0 -31 -115"/><path d="M-51 107Q-1 -0 35 -114"/><path d="M117 22Q3 0 119 1"/><path d="M-38 -113Q-7 -2 -90 78"/><path d="M-32 -115Q0 -2 58 -104"/><path d="M-87 82Q1 1 101 -62"/><path d="M-116 26Q-13 1 -119 -8"/><path d="M21 117Q5 12 64 100"/><path d="M66 -99Q-1 -1 -94 73"/><path d="M20 117Q4 1 59 -103"/><path d="M103 -60Q3 1 44 110"/><path d="M78 -90Q2 -2 103 -59"/><path d="M-22 117Q-3 3 -118 17"/><path d="M114 36Q0 -1 -87 -81"/><path d="M-18 -118Q2 -12 63 -101"/><path d="M-94 -74Q-11 -4 -118 -13"/><path d="M-104 -58Q-1 -1 -48 -109"/><path d="M-114 -35Q-7 -6 -40 -112"/><path d="M95 -71Q3 1 22 117"/><path d="M118 19Q7 5 45 110"/><path d="M118 -15Q0 1 -66 99"/><path d="M-71 95Q-1 -0 57 -104"/><path d="M119 4Q10 -2 110 -45"/><path d="M0 -119Q1 -0 18 118"/><path d="M-60 103Q-1 0 -110 -44"/><path d="M77 -91Q-1 -5 -96 -71"/><path d="M-118 -14Q0 -0 118 14"/><path d="M64 100Q0 -0 6 -119"/><path d="M-119 5Q-0 2 114 34"/><path d="M99 66Q3 4 27 116"/><path d="M77 91Q3 2 97 68"/><path d="M-51 107Q-3 2 -119 0"/><path d="M-49 -109Q-9 -5 -118 15"/><path d="M119 -5Q8 -2 107 -52"/><path d="M56 -105Q-3 -7 -118 -19"/><path d="M55 105Q-1 4 -87 82"/><path d="M111 -43Q-0 -2 -114 -33"/><path d="M-28 116Q-1 0 -96 -70"/><path d="M113 -38Q5 -4 56 -105"/><path d="M28 116Q-0 1 -61 102"/><path d="M96 70Q3 9 -36 113"/><path d="M112 -40Q4 -2 95 -72"/><path d="M80 88Q6 1 103 -60"/><path d="M118 16Q1 3 -105 55"/><path d="M37 -113Q-2 -1 -88 80"/><path d="M68 98Q4 -1 2 -119"/><path d="M119 5Q6 -3 78 -90"/><path d="M84 84Q6 5 100 64"/><path d="M-1 119Q-6 9 -107 53"/><path d="M116 -25Q1 -3 -69 -97"/><path d="M51 -107Q3 -3 96 -71"/><path d="M57 105Q6 1 87 -81"/><path d="M-117 -20Q-1 2 93 74"/><path d="M-116 -26Q-5 -5 -35 -114"/><path d="M91 76Q5 7 29 115"/><path d="M-82 86Q-3 2 -117 20"/><path d="M-118 13Q-8 -6 -27 -116"/><path d="M-45 -110Q-0 0 17 118"/><path d="M119 -3Q0 -0 -116 -26"/><path d="M119 1Q9 -1 116 -27"/><path d="M98 68Q4 -2 7 -119"/><path d="M30 -115Q-5 -6 -118 14"/><path d="M-116 26Q-2 2 -4 119"/><path d="M-110 -46Q-0 -3 92 -76"/><path d="M110 47Q0 -1 -102 -62"/><path d="M-90 77Q0 0 96 -71"/><path d="M-1 -119Q-6 -8 -113 -38"/><path d="M6 119Q-0 0 -119 -2"/><path d="M-79 -89Q-3 1 6 119"/><path d="M110 -45Q2 -2 45 -110"/><path d="M-74 -94Q-0 0 -14 118"/><path d="M26 116Q6 3 107 -52"/><path d="M33 114Q4 4 108 50"/><path d="M-68 -98Q-3 0 -54 106"/><path d="M49 -108Q-0 -0 -101 62"/><path d="M96 -71Q4 -2 114 -34"/><path d="M-42 111Q3 8 108 50"/><path d="M-68 -98Q-1 0 -23 117"/><path d="M-62 -101Q0 -4 64 -100"/><path d="M-113 -39Q-1 -0 -99 -66"/><path d="M13 -118Q6 -4 114 35"/><path d="M-16 -118Q5 -6 119 10"/><path d="M-70 96Q-3 5 -61 102"/><path d="M19 -117Q1 -0 62 102"/><path d="M-55 106Q1 1 102 -62"/><path d="M-113 38Q-1 -0 -87 -81"/><path d="M-2 -119Q4 -2 81 88"/><path d="M-40 -112Q3 -5 118 -12"/><path d="M42 111Q8 5 118 -12"/><path d="M92 -76Q-0 -4 -92 -75"/><path d="M-112 41Q-3 3 -49 108"/><path d="M-62 -102Q-2 -9 19 -117"/><path d="M86 -83Q-1 -5 -116 -27"/><path d="M116 26Q0 1 -91 76"/><path d="M118 -11Q8 6 24 117"/><path d="M103 60Q-0 1 -118 16"/><path d="M111 43Q2 3 -5 119"/><path d="M-21 117Q-5 5 -114 33"/><path d="M65 -99Q-0 -0 -110 45"/><path d="M92 76Q1 1 43 111"/><path d="M65 100Q-0 0 -75 -93"/><path d="M-114 35Q-3 -4 54 -106"/><path d="M-54 106Q-2 13 11 118"/><path d="M50 -108Q-4 -6 -118 -12"/><path d="M-92 -75Q0 -0 116 28"/><path d="M46 110Q3 0 82 -86"/><path d="M25 -116Q2 0 20 117"/><path d="M-117 21Q-4 0 -119 3"/><path d="M-18 118Q0 0 20 -117"/><path d="M63 101Q0 -0 -40 -112"/><path d="M-27 116Q-6 2 -93 -75"/><path d="M94 73Q-1 3 -119 3"/><path d="M57 104Q1 -0 -41 -112"/><path d="M-97 -69Q-6 -3 -114 -36"/><path d="M-85 83Q-0 -0 -10 -119"/><path d="M-113 -38Q-9 -5 -99 -66"/><path d="M-50 -108Q-1 -9 18 -118"/><path d="M17 -118Q-2 -6 -94 -73"/><path d="M-56 -105Q-0 -0 -92 -76"/><path d="M119 -10Q6 -8 -11 -118"/><path d="M-36 113Q0 2 45 110"/><path d="M77 91Q3 -1 8 -119"/><path d="M-92 -76Q-9 -8 -82 -86"/><path d="M63 -101Q2 -3 73 -94"/><path d="M101 -64Q1 0 39 112"/><path d="M-116 -25Q-5 -6 -9 -119"/><path d="M-93 -74Q-0 0 -5 119"/><path d="M-67 98Q-1 8 48 109"/><path d="M80 88Q-0 10 -80 88"/><path d="M-27 116Q-0 11 20 117"/><path d="M10 119Q-2 3 -96 71"/><path d="M-119 9Q-2 -4 61 -102"/><path d="M-38 113Q-1 -0 -26 -116"/><path d="M-96 -71Q-7 0 -94 73"/><path d="M-48 109Q0 0 84 -85"/><path d="M6 -119Q3 -8 85 -83"/><path d="M83 85Q3 -1 40 -112"/><path d="M-40 -112Q-2 -2 -104 -57"/><path d="M65 100Q1 -1 -34 -114"/><path d="M104 -58Q13 -3 119 1"/><path d="M1 119Q1 0 14 -118"/><path d="M-51 -107Q2 -2 91 76"/><path d="M118 15Q9 3 101 63"/><path d="M-93 74Q-7 1 -113 -39"/><path d="M-117 -22Q-10 1 -109 48"/><path d="M119 -4Q0 0 -119 8"/><path d="M-62 -101Q-0 -1 35 -114"/><path d="M-64 -100Q1 -1 105 56"/><path d="M113 38Q-0 0 -114 -34"/><path d="M-3 -119Q-0 -0 -117 -21"/><path d="M-69 97Q0 0 99 -67"/><path d="M35 -114Q6 -5 118 -18"/><path d="M54 106Q0 1 -16 118"/><path d="M119 8Q2 -2 32 -115"/><path d="M-18 -118Q0 -14 24 -117"/><path d="M119 -4Q3 -3 22 -117"/><path d="M-65 100Q-0 1 41 112"/><path d="M118 -11Q12 2 104 58"/><path d="M10 -119Q-2 -2 -118 12"/><path d="M-30 115Q0 5 50 108"/><path d="M-115 -32Q-0 0 112 39"/><path d="M-30 -115Q-0 -7 23 -117"/><path d="M-51 -108Q-4 -3 -119 -11"/><path d="M46 110Q1 -0 -10 -119"/><path d="M-108 -50Q-11 -7 -86 -82"/><path d="M64 100Q-0 0 -81 -87"/><path d="M-119 -4Q-1 1 54 106"/><path d="M-80 -88Q2 -4 118 18"/><path d="M54 -106Q1 0 33 114"/><path d="M-107 -52Q-0 0 106 54"/><path d="M-17 118Q3 3 118 -18"/><path d="M117 -22Q0 1 -109 49"/><path d="M13 118Q-4 2 -88 -80"/><path d="M109 47Q-0 1 -119 -5"/><path d="M34 114Q-1 6 -58 104"/><path d="M119 5Q0 -0 -15 -118"/><path d="M-30 -115Q3 -8 93 -74"/><path d="M-74 93Q-2 -1 -7 -119"/><path d="M-13 -118Q2 -6 77 -90"/><path d="M-110 45Q0 2 118 15"/><path d="M-10 119Q-5 4 -118 -12"/><path d="M79 -89Q1 -4 -0 -119"/><path d="M64 -101Q-1 -4 -102 -61"/><path d="M-96 70Q-1 -1 78 -90"/><path d="M-40 112Q1 0 83 -85"/><path d="M-110 44Q-12 7 -96 71"/><path d="M106 -54Q3 1 55 106"/><path d="M-58 104Q-1 10 31 115"/><path d="M-107 -52Q-8 -9 -43 -111"/><path d="M-108 -51Q-1 -7 90 -78"/><path d="M-40 -112Q3 -4 118 16"/><path d="M-10 -119Q0 -0 39 112"/><path d="M-98 -67Q-4 2 -9 119"/><path d="M119 8Q5 2 93 74"/><path d="M-31 -115Q-1 -1 -117 19"/><path d="M-110 -45Q-7 -4 -98 -68"/><path d="M40 112Q-1 12 -65 100"/><path d="M-40 112Q-2 3 -94 73"/><path d="M113 -36Q2 0 83 85"/><path d="M-12 -118Q-3 -1 -48 109"/><path d="M105 -57Q-0 -0 -105 56"/><path d="M84 84Q0 0 104 -57"/><path d="M-116 28Q-9 -4 -67 -99"/><path d="M-69 -97Q3 -6 118 -14"/><path d="M8 -119Q3 -1 54 106"/><path d="M-73 94Q-5 9 -31 115"/><path d="M-101 62Q-1 0 -108 -51"/><path d="M-76 -91Q-0 0 63 101"/><path d="M-117 -23Q-2 3 44 111"/><path d="M-45 110Q2 3 119 1"/><path d="M112 41Q6 4 83 86"/><path d="M118 -16Q5 5 -6 119"/><path d="M36 113Q-1 1 -113 -38"/><path d="M53 -106Q2 -2 118 -14"/><path d="M-82 87Q-2 1 -115 -31"/><path d="M-88 80Q0 1 118 -14"/><path d="M94 -73Q3 -2 98 -68"/><path d="M-109 48Q-0 -0 108 -51"/><path d="M2 -119Q-4 -8 -87 -81"/><path d="M117 -19Q6 -5 57 -105"/><path d="M-111 -44Q-10 -2 -118 -12"/><path d="M58 104Q0 6 -53 106"/><path d="M118 -17Q2 1 94 73"/><path d="M-94 73Q1 2 113 -37"/><path d="M-105 -56Q-0 -7 98 -67"/><path d="M68 -98Q2 1 -19 117"/><path d="M113 -37Q3 3 -12 118"/><path d="M63 -101Q6 -6 98 -68"/><path d="M-119 -9Q0 -0 119 6"/><path d="M105 56Q0 0 45 110"/><path d="M118 13Q2 4 -43 111"/><path d="M44 111Q-3 2 -100 -65"/><path d="M116 -25Q0 -1 -101 -63"/><path d="M-119 -2Q-0 -1 107 -51"/><path d="M-95 -71Q1 -1 110 45"/><path d="M21 117Q-0 10 -24 116"/><path d="M36 -114Q3 -7 54 -106"/><path d="M-21 -117Q3 -1 74 93"/><path d="M115 31Q1 5 -101 62"/><path d="M-64 100Q-7 3 -118 -13"/><path d="M-23 117Q-4 10 -66 99"/><path d="M110 47Q0 -0 -71 -95"/><path d="M-9 -119Q0 -0 51 107"/><path d="M7 119Q5 3 109 -49"/><path d="M-89 -79Q-10 -6 -107 -52"/><path d="M73 -94Q7 -9 79 -89"/><path d="M79 89Q-1 1 -98 -68"/><path d="M-117 19Q-2 -3 57 -104"/><path d="M-100 64Q-4 -3 28 -116"/><path d="M63 -101Q5 -2 116 27"/><path d="M76 91Q9 1 87 -81"/><path d="M24 -116Q5 -2 96 71"/><path d="M56 105Q-1 2 -107 -51"/><path d="M-95 71Q1 5 118 11"/><path d="M110 44Q5 -3 9 -119"/><path d="M-74 93Q2 6 119 8"/><path d="M60 -103Q0 -0 78 -90"/><path d="M-50 108Q-1 1 -71 96"/><path d="M104 -58Q-0 -0 -118 -13"/><path d="M31 115Q-1 2 -115 29"/><path d="M75 92Q-1 2 -116 -26"/><path d="M-112 39Q-2 -2 73 -94"/><path d="M-90 -77Q-0 -2 90 -77"/><path d="M107 52Q5 0 112 -40"/><path d="M-94 73Q0 1 118 11"/><path d="M-5 119Q-2 6 -59 104"/><path d="M-2 119Q-3 7 -87 81"/><path d="M19 117Q3 8 54 106"/><path d="M119 3Q8 -3 83 -85"/><path d="M-117 -24Q-7 -1 -119 3"/><path d="M-29 115Q2 3 113 38"/><path d="M-14 118Q-1 0 -14 -118"/><path d="M-76 92Q-5 2 -118 -15"/><path d="M94 -73Q0 -1 29 -115"/><path d="M-44 -111Q-2 -7 -15 -118"/><path d="M-110 46Q-3 -2 33 -114"/><path d="M-70 96Q1 4 95 72"/><path d="M-90 -77Q0 -0 92 75"/><path d="M119 2Q12 4 91 77"/><path d="M-3 -119Q-2 -1 -70 96"/><path d="M-117 20Q-8 -1 -113 -37"/><path d="M95 72Q2 4 12 118"/><path d="M-41 112Q-1 1 -119 9"/><path d="M-110 -45Q-0 0 90 78"/><path d="M-6 -119Q4 -5 119 -5"/><path d="M-69 -97Q-4 -3 -107 -51"/><path d="M-11 118Q5 6 117 20"/><path d="M-93 -74Q-7 -3 -117 -20"/><path d="M106 -53Q2 2 -24 117"/><path d="M64 100Q4 3 111 43"/><path d="M63 101Q1 0 119 -0"/><path d="M72 -95Q2 -0 90 78"/><path d="M-102 62Q-3 -1 -34 -114"/><path d="M81 -87Q11 -6 118 -18"/><path d="M34 -114Q5 -7 101 -62"/><path d="M26 -116Q-4 -10 -98 -67"/><path d="M108 -50Q8 -7 71 -95"/><path d="M42 111Q5 3 119 5"/><path d="M103 60Q5 3 92 76"/><path d="M-7 119Q-1 3 -75 93"/><path d="M51 -108Q0 0 18 118"/><path d="M7 -119Q-0 -9 -13 -118"/><path d="M-81 -87Q-1 -7 43 -111"/><path d="M-107 51Q-2 1 -86 83"/><path d="M117 23Q5 7 -14 118"/><path d="M104 -59Q3 -1 117 -21"/><path d="M-119 -0Q-9 3 -95 71"/><path d="M116 -27Q1 0 77 90"/><path d="M118 12Q6 -5 4 -119"/><path d="M73 -94Q0 0 71 95"/><path d="M71 -95Q3 1 23 117"/><path d="M24 -117Q-1 -0 -48 109"/><path d="M-100 -64Q-4 -1 -116 26"/><path d="M89 79Q4 2 119 10"/><path d="M118 -11Q1 -3 -57 -104"/><path d="M119 -0Q2 3 -60 103"/><path d="M-113 -37Q-1 -0 -63 -101"/><path d="M-59 -103Q2 -2 97 69"/><path d="M119 1Q0 1 -89 79"/><path d="M-114 35Q-12 6 -98 67"/><path d="M51 -108Q-0 -0 -106 55"/><path d="M-59 104Q1 2 106 -54"/><path d="M108 -50Q4 3 -17 118"/><path d="M-65 100Q-3 6 -53 107"/><path d="M-51 -108Q-3 -12 2 -119"/><path d="M46 110Q2 0 46 -110"/><path d="M109 49Q4 -3 -8 -119"/><path d="M116 28Q0 0 -70 97"/><path d="M58 104Q4 -1 12 -118"/><path d="M-102 61Q0 1 112 -41"/><path d="M116 27Q1 -2 -76 -91"/><path d="M78 90Q1 8 -63 101"/><path d="M107 -53Q10 -3 119 -8"/><path d="M-111 42Q-0 0 75 92"/><path d="M41 112Q9 6 119 3"/><path d="M2 119Q6 4 106 -55"/><path d="M4 -119Q-4 -3 -113 36"/><path d="M113 -38Q6 -3 91 -76"/><path d="M-110 -46Q-0 0 59 103"/><path d="M86 -82Q8 -1 96 70"/><path d="M106 55Q5 6 42 111"/><path d="M-49 -108Q0 -4 51 -107"/><path d="M-17 -118Q2 -3 107 -52"/><path d="M116 27Q0 0 -100 65"/><path d="M118 14Q11 -4 86 -82"/><path d="M-115 -30Q-2 -6 72 -95"/><path d="M101 -63Q0 -0 -31 -115"/><path d="M-2 119Q1 0 18 -118"/><path d="M-106 -54Q-0 -2 105 -56"/><path d="M-46 110Q-2 7 -24 117"/><path d="M113 -37Q-0 -3 -118 -12"/><path d="M-84 85Q-2 -1 -25 -116"/><path d="M105 -56Q9 -3 118 -16"/><path d="M42 -111Q3 -3 109 -48"/><path d="M-108 -49Q-1 1 86 83"/><path d="M-36 113Q-2 1 -119 5"/><path d="M42 111Q0 0 95 -72"/><path d="M10 119Q2 4 88 80"/><path d="M68 98Q3 -1 31 -115"/><path d="M-109 49Q-6 -0 -108 -50"/><path d="M-79 89Q-1 -1 51 -107"/><path d="M-60 103Q-0 1 49 108"/><path d="M70 96Q6 5 109 48"/><path d="M114 -33Q-0 -0 -119 -0"/><path d="M-94 73Q1 2 118 12"/><path d="M109 -48Q0 -2 -86 -82"/><path d="M119 7Q2 1 86 82"/><path d="M-116 29Q-9 -0 -113 -38"/><path d="M114 35Q5 5 17 118"/><path d="M31 -115Q-1 -1 -105 56"/><path d="M-64 100Q-2 1 -115 -30"/><path d="M106 54Q-0 0 -112 -41"/><path d="M-118 -12Q-9 3 -81 87"/><path d="M-66 -99Q2 -2 97 69"/><path d="M-82 86Q-1 -0 -19 -118"/><path d="M-72 -95Q-6 -1 -96 71"/><path d="M-118 14Q-3 4 10 119"/><path d="M18 -118Q0 -0 73 94"/><path d="M-119 8Q-3 -2 -62 -102"/><path d="M-97 69Q1 1 115 -31"/><path d="M77 91Q1 1 119 -8"/><path d="M81 -87Q3 -2 109 -48"/><path d="M-118 -18Q-0 0 117 24"/><path d="M-107 -52Q-2 2 27 116"/><path d="M103 60Q7 -3 37 -113"/><path d="M106 55Q-0 2 -115 32"/><path d="M28 -116Q4 -5 107 -52"/><path d="M116 26Q8 4 98 67"/><path d="M-108 49Q0 2 117 24"/><path d="M-27 116Q-5 1 -66 -99"/><path d="M116 25Q11 1 119 -8"/><path d="M-115 -30Q-4 -8 34 -114"/><path d="M-96 -70Q-1 -4 36 -113"/><path d="M106 53Q4 1 118 -19"/><path d="M34 -114Q-2 -2 -111 44"/><path d="M74 -93Q-0 -0 -119 9"/><path d="M118 -17Q1 -3 -67 -98"/><path d="M-32 115Q0 0 73 -94"/><path d="M-78 -90Q-1 -2 -9 -119"/><path d="M37 113Q-0 6 -47 109"/><path d="M-58 -104Q1 -5 99 -66"/><path d="M98 68Q4 0 105 -56"/><path d="M-41 -112Q-4 -7 -67 -99"/><path d="M-81 -87Q-6 1 -65 100"/><path d="M-110 45Q-0 5 106 54"/><path d="M63 101Q2 0 69 -97"/><path d="M75 92Q-1 1 -93 -74"/><path d="M-71 -95Q-6 -6 -95 -71"/><path d="M-18 -118Q5 -5 116 24"/><path d="M5 119Q-4 10 -91 77"/><path d="M-105 -55Q-5 -2 -114 -33"/><path d="M-94 73Q-2 -1 37 -113"/><path d="M-74 -93Q1 -2 119 -8"/><path d="M114 33Q4 0 119 -5"/><path d="M59 104Q4 2 116 -26"/><path d="M57 -104Q2 -12 -10 -119"/><path d="M67 -98Q7 -12 51 -107"/><path d="M73 -94Q5 -9 34 -114"/><path d="M-20 117Q-1 -0 -5 -119"/><path d="M-116 25Q-8 6 -54 106"/><path d="M-49 -109Q-1 0 8 119"/><path d="M-31 -115Q0 -0 116 -27"/><path d="M-87 -82Q-0 0 86 83"/><path d="M-10 119Q3 8 87 81"/><path d="M118 -15Q7 1 114 35"/><path d="M75 93Q0 -0 45 -110"/><path d="M-82 -86Q-2 -1 -114 -33"/><path d="M-14 118Q0 1 101 62"/><path d="M68 -98Q1 0 -4 119"/><path d="M114 -34Q1 1 -38 113"/><path d="M-115 -30Q-3 1 -72 95"/><path d="M50 108Q0 0 40 112"/><path d="M117 21Q1 1 56 105"/><path d="M-48 109Q-7 2 -100 -64"/><path d="M-116 -28Q-0 -2 112 -40"/><path d="M-56 105Q2 1 90 -78"/><path d="M-108 49Q0 0 118 -18"/><path d="M-4 -119Q-3 -2 -113 37"/><path d="M-105 -56Q-5 -5 -61 -102"/><path d="M-118 -18Q-0 1 105 56"/><path d="M-106 -54Q-0 -2 76 -91"/><path d="M-116 -26Q-6 4 -12 118"/><path d="M67 -98Q-2 -5 -116 -27"/><path d="M119 -10Q8 3 86 82"/><path d="M-24 -116Q-4 -3 -119 7"/><path d="M-29 -115Q2 -1 86 82"/><path d="M-52 107Q-2 -1 12 -118"/><path d="M-119 1Q-3 -0 -113 -37"/><path d="M-119 4Q-5 1 -110 46"/><path d="M-111 -43Q0 -0 119 3"/><path d="M108 -49Q-0 -0 -118 11"/><path d="M-6 -119Q3 -2 115 30"/><path d="M53 -107Q4 -10 25 -116"/><path d="M-91 76Q-9 8 -83 85"/><path d="M21 117Q3 8 60 103"/><path d="M112 41Q0 -0 43 -111"/><path d="M-99 -66Q-0 0 -67 98"/><path d="M-119 5Q-12 5 -92 76"/><path d="M-104 -57Q-2 0 -87 81"/><path d="M-116 -27Q-3 -2 -59 -103"/><path d="M83 -85Q-2 -6 -117 -23"/><path d="M-62 102Q0 0 103 -60"/><path d="M-68 -98Q2 -8 110 -45"/><path d="M94 73Q5 -2 35 -114"/><path d="M117 23Q2 -3 -46 -110"/><path d="M118 18Q1 -1 -25 -116"/><path d="M-6 -119Q-4 -2 -111 42"/><path d="M-109 47Q-0 3 106 53"/><path d="M-108 50Q-2 2 -61 102"/><path d="M78 90Q-2 5 -119 1"/></g></g><text x="8" y="489.5" font-size="41" font-weight="bold">b</text><text x="388.7" y="490.6" font-size="23.3" text-anchor="middle" font-weight="bold">CedBTN1</text><text x="1170.9" y="490.4" font-size="23.3" text-anchor="middle" font-weight="bold">CedBTN2</text><text x="393" y="523.8" font-size="23.8" text-anchor="middle">SV count per chromosome</text><text x="393" y="841.8" font-size="23.8" text-anchor="middle">SV density per chromosome</text><text x="393" y="1160.9" font-size="23.8" text-anchor="middle">SV type composition per chromosome</text><text x="1172.6" y="523.8" font-size="23.8" text-anchor="middle">SV count per chromosome</text><text x="1172.6" y="841.8" font-size="23.8" text-anchor="middle">SV density per chromosome</text><text x="1172.6" y="1160.9" font-size="23.8" text-anchor="middle">SV type composition per chromosome</text><rect x="593.7" y="473.7" width="16.8" height="15.8" fill="#E41A1C"/><text x="620.5" y="489.3" font-size="22.5">Deletion</text><rect x="593.7" y="503.3" width="16.8" height="15.8" fill="#4DAF4A"/><text x="620.5" y="518.9" font-size="22.5">Duplication</text><rect x="593.7" y="532.4" width="16.8" height="15.8" fill="#377EB8"/><text x="620.5" y="548" font-size="22.5">Inversion</text><rect x="593.7" y="561.4" width="16.8" height="15.8" fill="#984EA3"/><text x="620.5" y="577" font-size="22.5">Breakend</text><text x="620.5" y="602.2" font-size="22.5">(translocation)</text><line x1="109.2" x2="109.2" y1="770.3" y2="526.3" stroke="#000" stroke-width="1.6"/><line x1="100.2" x2="109.2" y1="770.3" y2="770.3" stroke="#000" stroke-width="1.6"/><text transform="translate(90.5,770.3) rotate(-90)" font-size="17.5" text-anchor="middle">0</text><line x1="100.2" x2="109.2" y1="721.5" y2="721.5" stroke="#000" stroke-width="1.6"/><text transform="translate(90.5,721.5) rotate(-90)" font-size="17.5" text-anchor="middle">200</text><line x1="100.2" x2="109.2" y1="672.7" y2="672.7" stroke="#000" stroke-width="1.6"/><text transform="translate(90.5,672.7) rotate(-90)" font-size="17.5" text-anchor="middle">400</text><line x1="100.2" x2="109.2" y1="623.9" y2="623.9" stroke="#000" stroke-width="1.6"/><text transform="translate(90.5,623.9) rotate(-90)" font-size="17.5" text-anchor="middle">600</text><line x1="100.2" x2="109.2" y1="575.1" y2="575.1" stroke="#000" stroke-width="1.6"/><text transform="translate(90.5,575.1) rotate(-90)" font-size="17.5" text-anchor="middle">800</text><line x1="100.2" x2="109.2" y1="526.3" y2="526.3" stroke="#000" stroke-width="1.6"/><text transform="translate(90.5,526.3) rotate(-90)" font-size="17.5" text-anchor="middle">1000</text><line x1="109.2" x2="109.2" y1="1091.8" y2="848.1" stroke="#000" stroke-width="1.6"/><line x1="100.2" x2="109.2" y1="1091.8" y2="1091.8" stroke="#000" stroke-width="1.6"/><text transform="translate(90.5,1091.8) rotate(-90)" font-size="17.5" text-anchor="middle">0</text><line x1="100.2" x2="109.2" y1="1030.9" y2="1030.9" stroke="#000" stroke-width="1.6"/><text transform="translate(90.5,1030.9) rotate(-90)" font-size="17.5" text-anchor="middle">5</text><line x1="100.2" x2="109.2" y1="970" y2="970" stroke="#000" stroke-width="1.6"/><text transform="translate(90.5,970) rotate(-90)" font-size="17.5" text-anchor="middle">10</text><line x1="100.2" x2="109.2" y1="909" y2="909" stroke="#000" stroke-width="1.6"/><text transform="translate(90.5,909) rotate(-90)" font-size="17.5" text-anchor="middle">15</text><line x1="100.2" x2="109.2" y1="848.1" y2="848.1" stroke="#000" stroke-width="1.6"/><text transform="translate(90.5,848.1) rotate(-90)" font-size="17.5" text-anchor="middle">20</text><line x1="109.2" x2="109.2" y1="1423.6" y2="1179.1" stroke="#000" stroke-width="1.6"/><line x1="100.2" x2="109.2" y1="1423.6" y2="1423.6" stroke="#000" stroke-width="1.6"/><text transform="translate(90.5,1423.6) rotate(-90)" font-size="17.5" text-anchor="middle">0</text><line x1="100.2" x2="109.2" y1="1374.7" y2="1374.7" stroke="#000" stroke-width="1.6"/><text transform="translate(90.5,1374.7) rotate(-90)" font-size="17.5" text-anchor="middle">20</text><line x1="100.2" x2="109.2" y1="1325.8" y2="1325.8" stroke="#000" stroke-width="1.6"/><text transform="translate(90.5,1325.8) rotate(-90)" font-size="17.5" text-anchor="middle">40</text><line x1="100.2" x2="109.2" y1="1276.9" y2="1276.9" stroke="#000" stroke-width="1.6"/><text transform="translate(90.5,1276.9) rotate(-90)" font-size="17.5" text-anchor="middle">60</text><line x1="100.2" x2="109.2" y1="1228" y2="1228" stroke="#000" stroke-width="1.6"/><text transform="translate(90.5,1228) rotate(-90)" font-size="17.5" text-anchor="middle">80</text><line x1="100.2" x2="109.2" y1="1179.1" y2="1179.1" stroke="#000" stroke-width="1.6"/><text transform="translate(90.5,1179.1) rotate(-90)" font-size="17.5" text-anchor="middle">100</text><text transform="translate(56.2,642.4) rotate(-90)" font-size="24" text-anchor="middle">Total SVs</text><text transform="translate(56.2,967) rotate(-90)" font-size="23.6" text-anchor="middle">SV density (events/Mb)</text><text transform="translate(56.2,1300.7) rotate(-90)" font-size="24" text-anchor="middle">Percentage</text><text x="141.7" y="792.8" font-size="18.5" text-anchor="middle">1</text><text x="170.4" y="792.8" font-size="18.5" text-anchor="middle">2</text><text x="199.1" y="792.8" font-size="18.5" text-anchor="middle">3</text><text x="227.8" y="792.8" font-size="18.5" text-anchor="middle">4</text><text x="256.6" y="792.8" font-size="18.5" text-anchor="middle">5</text><text x="285.3" y="792.8" font-size="18.5" text-anchor="middle">6</text><text x="314" y="792.8" font-size="18.5" text-anchor="middle">7</text><text x="342.8" y="792.8" font-size="18.5" text-anchor="middle">8</text><text x="371.5" y="792.8" font-size="18.5" text-anchor="middle">9</text><text x="400.2" y="792.8" font-size="18.5" text-anchor="middle">10</text><text x="429" y="792.8" font-size="18.5" text-anchor="middle">11</text><text x="457.7" y="792.8" font-size="18.5" text-anchor="middle">12</text><text x="486.4" y="792.8" font-size="18.5" text-anchor="middle">13</text><text x="515.1" y="792.8" font-size="18.5" text-anchor="middle">14</text><text x="543.9" y="792.8" font-size="18.5" text-anchor="middle">15</text><text x="572.6" y="792.8" font-size="18.5" text-anchor="middle">16</text><text x="601.3" y="792.8" font-size="18.5" text-anchor="middle">17</text><text x="630.1" y="792.8" font-size="18.5" text-anchor="middle">18</text><text x="658.8" y="792.8" font-size="18.5" text-anchor="middle">19</text><text x="141.7" y="1114.6" font-size="18.5" text-anchor="middle">1</text><text x="170.4" y="1114.6" font-size="18.5" text-anchor="middle">2</text><text x="199.1" y="1114.6" font-size="18.5" text-anchor="middle">3</text><text x="227.8" y="1114.6" font-size="18.5" text-anchor="middle">4</text><text x="256.6" y="1114.6" font-size="18.5" text-anchor="middle">5</text><text x="285.3" y="1114.6" font-size="18.5" text-anchor="middle">6</text><text x="314" y="1114.6" font-size="18.5" text-anchor="middle">7</text><text x="342.8" y="1114.6" font-size="18.5" text-anchor="middle">8</text><text x="371.5" y="1114.6" font-size="18.5" text-anchor="middle">9</text><text x="400.2" y="1114.6" font-size="18.5" text-anchor="middle">10</text><text x="429" y="1114.6" font-size="18.5" text-anchor="middle">11</text><text x="457.7" y="1114.6" font-size="18.5" text-anchor="middle">12</text><text x="486.4" y="1114.6" font-size="18.5" text-anchor="middle">13</text><text x="515.1" y="1114.6" font-size="18.5" text-anchor="middle">14</text><text x="543.9" y="1114.6" font-size="18.5" text-anchor="middle">15</text><text x="572.6" y="1114.6" font-size="18.5" text-anchor="middle">16</text><text x="601.3" y="1114.6" font-size="18.5" text-anchor="middle">17</text><text x="630.1" y="1114.6" font-size="18.5" text-anchor="middle">18</text><text x="658.8" y="1114.6" font-size="18.5" text-anchor="middle">19</text><text x="141.7" y="1446.2" font-size="18.5" text-anchor="middle">1</text><text x="170.4" y="1446.2" font-size="18.5" text-anchor="middle">2</text><text x="199.1" y="1446.2" font-size="18.5" text-anchor="middle">3</text><text x="227.8" y="1446.2" font-size="18.5" text-anchor="middle">4</text><text x="256.6" y="1446.2" font-size="18.5" text-anchor="middle">5</text><text x="285.3" y="1446.2" font-size="18.5" text-anchor="middle">6</text><text x="314" y="1446.2" font-size="18.5" text-anchor="middle">7</text><text x="342.8" y="1446.2" font-size="18.5" text-anchor="middle">8</text><text x="371.5" y="1446.2" font-size="18.5" text-anchor="middle">9</text><text x="400.2" y="1446.2" font-size="18.5" text-anchor="middle">10</text><text x="429" y="1446.2" font-size="18.5" text-anchor="middle">11</text><text x="457.7" y="1446.2" font-size="18.5" text-anchor="middle">12</text><text x="486.4" y="1446.2" font-size="18.5" text-anchor="middle">13</text><text x="515.1" y="1446.2" font-size="18.5" text-anchor="middle">14</text><text x="543.9" y="1446.2" font-size="18.5" text-anchor="middle">15</text><text x="572.6" y="1446.2" font-size="18.5" text-anchor="middle">16</text><text x="601.3" y="1446.2" font-size="18.5" text-anchor="middle">17</text><text x="630.1" y="1446.2" font-size="18.5" text-anchor="middle">18</text><text x="658.8" y="1446.2" font-size="18.5" text-anchor="middle">19</text><line x1="881.9" x2="881.9" y1="770.3" y2="526.3" stroke="#000" stroke-width="1.6"/><line x1="872.9" x2="881.9" y1="770.3" y2="770.3" stroke="#000" stroke-width="1.6"/><text transform="translate(863.2,770.3) rotate(-90)" font-size="17.5" text-anchor="middle">0</text><line x1="872.9" x2="881.9" y1="721.5" y2="721.5" stroke="#000" stroke-width="1.6"/><text transform="translate(863.2,721.5) rotate(-90)" font-size="17.5" text-anchor="middle">200</text><line x1="872.9" x2="881.9" y1="672.7" y2="672.7" stroke="#000" stroke-width="1.6"/><text transform="translate(863.2,672.7) rotate(-90)" font-size="17.5" text-anchor="middle">400</text><line x1="872.9" x2="881.9" y1="623.9" y2="623.9" stroke="#000" stroke-width="1.6"/><text transform="translate(863.2,623.9) rotate(-90)" font-size="17.5" text-anchor="middle">600</text><line x1="872.9" x2="881.9" y1="575.1" y2="575.1" stroke="#000" stroke-width="1.6"/><text transform="translate(863.2,575.1) rotate(-90)" font-size="17.5" text-anchor="middle">800</text><line x1="872.9" x2="881.9" y1="526.3" y2="526.3" stroke="#000" stroke-width="1.6"/><text transform="translate(863.2,526.3) rotate(-90)" font-size="17.5" text-anchor="middle">1000</text><line x1="881.9" x2="881.9" y1="1091.8" y2="848.1" stroke="#000" stroke-width="1.6"/><line x1="872.9" x2="881.9" y1="1091.8" y2="1091.8" stroke="#000" stroke-width="1.6"/><text transform="translate(863.2,1091.8) rotate(-90)" font-size="17.5" text-anchor="middle">0</text><line x1="872.9" x2="881.9" y1="1030.9" y2="1030.9" stroke="#000" stroke-width="1.6"/><text transform="translate(863.2,1030.9) rotate(-90)" font-size="17.5" text-anchor="middle">5</text><line x1="872.9" x2="881.9" y1="970" y2="970" stroke="#000" stroke-width="1.6"/><text transform="translate(863.2,970) rotate(-90)" font-size="17.5" text-anchor="middle">10</text><line x1="872.9" x2="881.9" y1="909" y2="909" stroke="#000" stroke-width="1.6"/><text transform="translate(863.2,909) rotate(-90)" font-size="17.5" text-anchor="middle">15</text><line x1="872.9" x2="881.9" y1="848.1" y2="848.1" stroke="#000" stroke-width="1.6"/><text transform="translate(863.2,848.1) rotate(-90)" font-size="17.5" text-anchor="middle">20</text><line x1="881.9" x2="881.9" y1="1423.6" y2="1179.1" stroke="#000" stroke-width="1.6"/><line x1="872.9" x2="881.9" y1="1423.6" y2="1423.6" stroke="#000" stroke-width="1.6"/><text transform="translate(863.2,1423.6) rotate(-90)" font-size="17.5" text-anchor="middle">0</text><line x1="872.9" x2="881.9" y1="1374.7" y2="1374.7" stroke="#000" stroke-width="1.6"/><text transform="translate(863.2,1374.7) rotate(-90)" font-size="17.5" text-anchor="middle">20</text><line x1="872.9" x2="881.9" y1="1325.8" y2="1325.8" stroke="#000" stroke-width="1.6"/><text transform="translate(863.2,1325.8) rotate(-90)" font-size="17.5" text-anchor="middle">40</text><line x1="872.9" x2="881.9" y1="1276.9" y2="1276.9" stroke="#000" stroke-width="1.6"/><text transform="translate(863.2,1276.9) rotate(-90)" font-size="17.5" text-anchor="middle">60</text><line x1="872.9" x2="881.9" y1="1228" y2="1228" stroke="#000" stroke-width="1.6"/><text transform="translate(863.2,1228) rotate(-90)" font-size="17.5" text-anchor="middle">80</text><line x1="872.9" x2="881.9" y1="1179.1" y2="1179.1" stroke="#000" stroke-width="1.6"/><text transform="translate(863.2,1179.1) rotate(-90)" font-size="17.5" text-anchor="middle">100</text><text transform="translate(828.9,642.4) rotate(-90)" font-size="24" text-anchor="middle">Total SVs</text><text transform="translate(828.9,967) rotate(-90)" font-size="23.6" text-anchor="middle">SV density (events/Mb)</text><text transform="translate(828.9,1300.7) rotate(-90)" font-size="24" text-anchor="middle">Percentage</text><text x="914.4" y="792.8" font-size="18.5" text-anchor="middle">1</text><text x="943.1" y="792.8" font-size="18.5" text-anchor="middle">2</text><text x="971.8" y="792.8" font-size="18.5" text-anchor="middle">3</text><text x="1000.5" y="792.8" font-size="18.5" text-anchor="middle">4</text><text x="1029.3" y="792.8" font-size="18.5" text-anchor="middle">5</text><text x="1058" y="792.8" font-size="18.5" text-anchor="middle">6</text><text x="1086.7" y="792.8" font-size="18.5" text-anchor="middle">7</text><text x="1115.5" y="792.8" font-size="18.5" text-anchor="middle">8</text><text x="1144.2" y="792.8" font-size="18.5" text-anchor="middle">9</text><text x="1172.9" y="792.8" font-size="18.5" text-anchor="middle">10</text><text x="1201.6" y="792.8" font-size="18.5" text-anchor="middle">11</text><text x="1230.4" y="792.8" font-size="18.5" text-anchor="middle">12</text><text x="1259.1" y="792.8" font-size="18.5" text-anchor="middle">13</text><text x="1287.8" y="792.8" font-size="18.5" text-anchor="middle">14</text><text x="1316.6" y="792.8" font-size="18.5" text-anchor="middle">15</text><text x="1345.3" y="792.8" font-size="18.5" text-anchor="middle">16</text><text x="1374" y="792.8" font-size="18.5" text-anchor="middle">17</text><text x="1402.8" y="792.8" font-size="18.5" text-anchor="middle">18</text><text x="1431.5" y="792.8" font-size="18.5" text-anchor="middle">19</text><text x="914.4" y="1114.6" font-size="18.5" text-anchor="middle">1</text><text x="943.1" y="1114.6" font-size="18.5" text-anchor="middle">2</text><text x="971.8" y="1114.6" font-size="18.5" text-anchor="middle">3</text><text x="1000.5" y="1114.6" font-size="18.5" text-anchor="middle">4</text><text x="1029.3" y="1114.6" font-size="18.5" text-anchor="middle">5</text><text x="1058" y="1114.6" font-size="18.5" text-anchor="middle">6</text><text x="1086.7" y="1114.6" font-size="18.5" text-anchor="middle">7</text><text x="1115.5" y="1114.6" font-size="18.5" text-anchor="middle">8</text><text x="1144.2" y="1114.6" font-size="18.5" text-anchor="middle">9</text><text x="1172.9" y="1114.6" font-size="18.5" text-anchor="middle">10</text><text x="1201.6" y="1114.6" font-size="18.5" text-anchor="middle">11</text><text x="1230.4" y="1114.6" font-size="18.5" text-anchor="middle">12</text><text x="1259.1" y="1114.6" font-size="18.5" text-anchor="middle">13</text><text x="1287.8" y="1114.6" font-size="18.5" text-anchor="middle">14</text><text x="1316.6" y="1114.6" font-size="18.5" text-anchor="middle">15</text><text x="1345.3" y="1114.6" font-size="18.5" text-anchor="middle">16</text><text x="1374" y="1114.6" font-size="18.5" text-anchor="middle">17</text><text x="1402.8" y="1114.6" font-size="18.5" text-anchor="middle">18</text><text x="1431.5" y="1114.6" font-size="18.5" text-anchor="middle">19</text><text x="914.4" y="1446.2" font-size="18.5" text-anchor="middle">1</text><text x="943.1" y="1446.2" font-size="18.5" text-anchor="middle">2</text><text x="971.8" y="1446.2" font-size="18.5" text-anchor="middle">3</text><text x="1000.5" y="1446.2" font-size="18.5" text-anchor="middle">4</text><text x="1029.3" y="1446.2" font-size="18.5" text-anchor="middle">5</text><text x="1058" y="1446.2" font-size="18.5" text-anchor="middle">6</text><text x="1086.7" y="1446.2" font-size="18.5" text-anchor="middle">7</text><text x="1115.5" y="1446.2" font-size="18.5" text-anchor="middle">8</text><text x="1144.2" y="1446.2" font-size="18.5" text-anchor="middle">9</text><text x="1172.9" y="1446.2" font-size="18.5" text-anchor="middle">10</text><text x="1201.6" y="1446.2" font-size="18.5" text-anchor="middle">11</text><text x="1230.4" y="1446.2" font-size="18.5" text-anchor="middle">12</text><text x="1259.1" y="1446.2" font-size="18.5" text-anchor="middle">13</text><text x="1287.8" y="1446.2" font-size="18.5" text-anchor="middle">14</text><text x="1316.6" y="1446.2" font-size="18.5" text-anchor="middle">15</text><text x="1345.3" y="1446.2" font-size="18.5" text-anchor="middle">16</text><text x="1374" y="1446.2" font-size="18.5" text-anchor="middle">17</text><text x="1402.8" y="1446.2" font-size="18.5" text-anchor="middle">18</text><text x="1431.5" y="1446.2" font-size="18.5" text-anchor="middle">19</text><text x="397.3" y="1482.6" font-size="24" text-anchor="middle">Chromosome</text><text x="1172.5" y="1482.6" font-size="24" text-anchor="middle">Chromosome</text><rect x="131.1" y="754.5" width="23.1" height="15.8" fill="#984EA3"/><rect x="131.1" y="711.2" width="23.1" height="43.3" fill="#E41A1C"/><rect x="131.1" y="707" width="23.1" height="4.2" fill="#4DAF4A"/><rect x="131.1" y="705.6" width="23.1" height="1.4" fill="#377EB8"/><rect x="131.1" y="705.6" width="23.1" height="64.7" fill="none" stroke="#000" stroke-width="1.6"/><line x1="131.1" x2="154.2" y1="707" y2="707" stroke="#000" stroke-width="1.44"/><line x1="131.1" x2="154.2" y1="711.2" y2="711.2" stroke="#000" stroke-width="1.44"/><line x1="131.1" x2="154.2" y1="754.5" y2="754.5" stroke="#000" stroke-width="1.44"/><rect x="159.8" y="760" width="23.1" height="10.3" fill="#984EA3"/><rect x="159.8" y="638.5" width="23.1" height="121.5" fill="#E41A1C"/><rect x="159.8" y="619" width="23.1" height="19.5" fill="#4DAF4A"/><rect x="159.8" y="616" width="23.1" height="3" fill="#377EB8"/><rect x="159.8" y="616" width="23.1" height="154.3" fill="none" stroke="#000" stroke-width="1.6"/><line x1="159.8" x2="182.9" y1="619" y2="619" stroke="#000" stroke-width="1.44"/><line x1="159.8" x2="182.9" y1="638.5" y2="638.5" stroke="#000" stroke-width="1.44"/><line x1="159.8" x2="182.9" y1="760" y2="760" stroke="#000" stroke-width="1.44"/><rect x="188.6" y="757.2" width="23.1" height="13.1" fill="#984EA3"/><rect x="188.6" y="630.8" width="23.1" height="126.4" fill="#E41A1C"/><rect x="188.6" y="614.4" width="23.1" height="16.4" fill="#4DAF4A"/><rect x="188.6" y="610.9" width="23.1" height="3.5" fill="#377EB8"/><rect x="188.6" y="610.9" width="23.1" height="159.4" fill="none" stroke="#000" stroke-width="1.6"/><line x1="188.6" x2="211.7" y1="614.4" y2="614.4" stroke="#000" stroke-width="1.44"/><line x1="188.6" x2="211.7" y1="630.8" y2="630.8" stroke="#000" stroke-width="1.44"/><line x1="188.6" x2="211.7" y1="757.2" y2="757.2" stroke="#000" stroke-width="1.44"/><rect x="217.3" y="757.2" width="23.1" height="13.1" fill="#984EA3"/><rect x="217.3" y="658.7" width="23.1" height="98.5" fill="#E41A1C"/><rect x="217.3" y="648.4" width="23.1" height="10.3" fill="#4DAF4A"/><rect x="217.3" y="645.9" width="23.1" height="2.5" fill="#377EB8"/><rect x="217.3" y="645.9" width="23.1" height="124.4" fill="none" stroke="#000" stroke-width="1.6"/><line x1="217.3" x2="240.4" y1="648.4" y2="648.4" stroke="#000" stroke-width="1.44"/><line x1="217.3" x2="240.4" y1="658.7" y2="658.7" stroke="#000" stroke-width="1.44"/><line x1="217.3" x2="240.4" y1="757.2" y2="757.2" stroke="#000" stroke-width="1.44"/><rect x="246" y="757.6" width="23.1" height="12.7" fill="#984EA3"/><rect x="246" y="658.2" width="23.1" height="99.4" fill="#E41A1C"/><rect x="246" y="644.2" width="23.1" height="14" fill="#4DAF4A"/><rect x="246" y="641.6" width="23.1" height="2.6" fill="#377EB8"/><rect x="246" y="641.6" width="23.1" height="128.7" fill="none" stroke="#000" stroke-width="1.6"/><line x1="246" x2="269.1" y1="644.2" y2="644.2" stroke="#000" stroke-width="1.44"/><line x1="246" x2="269.1" y1="658.2" y2="658.2" stroke="#000" stroke-width="1.44"/><line x1="246" x2="269.1" y1="757.6" y2="757.6" stroke="#000" stroke-width="1.44"/><rect x="274.8" y="760.7" width="23.1" height="9.6" fill="#984EA3"/><rect x="274.8" y="679.9" width="23.1" height="80.8" fill="#E41A1C"/><rect x="274.8" y="669.6" width="23.1" height="10.3" fill="#4DAF4A"/><rect x="274.8" y="667.5" width="23.1" height="2.1" fill="#377EB8"/><rect x="274.8" y="667.5" width="23.1" height="102.8" fill="none" stroke="#000" stroke-width="1.6"/><line x1="274.8" x2="297.9" y1="669.6" y2="669.6" stroke="#000" stroke-width="1.44"/><line x1="274.8" x2="297.9" y1="679.9" y2="679.9" stroke="#000" stroke-width="1.44"/><line x1="274.8" x2="297.9" y1="760.7" y2="760.7" stroke="#000" stroke-width="1.44"/><rect x="303.5" y="759.2" width="23.1" height="11.1" fill="#984EA3"/><rect x="303.5" y="673" width="23.1" height="86.2" fill="#E41A1C"/><rect x="303.5" y="665.9" width="23.1" height="7.1" fill="#4DAF4A"/><rect x="303.5" y="663.8" width="23.1" height="2.1" fill="#377EB8"/><rect x="303.5" y="663.8" width="23.1" height="106.5" fill="none" stroke="#000" stroke-width="1.6"/><line x1="303.5" x2="326.6" y1="665.9" y2="665.9" stroke="#000" stroke-width="1.44"/><line x1="303.5" x2="326.6" y1="673" y2="673" stroke="#000" stroke-width="1.44"/><line x1="303.5" x2="326.6" y1="759.2" y2="759.2" stroke="#000" stroke-width="1.44"/><rect x="332.2" y="761.3" width="23.1" height="9" fill="#984EA3"/><rect x="332.2" y="691.6" width="23.1" height="69.7" fill="#E41A1C"/><rect x="332.2" y="681.3" width="23.1" height="10.3" fill="#4DAF4A"/><rect x="332.2" y="679.9" width="23.1" height="1.4" fill="#377EB8"/><rect x="332.2" y="679.9" width="23.1" height="90.4" fill="none" stroke="#000" stroke-width="1.6"/><line x1="332.2" x2="355.3" y1="681.3" y2="681.3" stroke="#000" stroke-width="1.44"/><line x1="332.2" x2="355.3" y1="691.6" y2="691.6" stroke="#000" stroke-width="1.44"/><line x1="332.2" x2="355.3" y1="761.3" y2="761.3" stroke="#000" stroke-width="1.44"/><rect x="360.9" y="757.6" width="23.1" height="12.7" fill="#984EA3"/><rect x="360.9" y="670" width="23.1" height="87.6" fill="#E41A1C"/><rect x="360.9" y="658.2" width="23.1" height="11.8" fill="#4DAF4A"/><rect x="360.9" y="657" width="23.1" height="1.2" fill="#377EB8"/><rect x="360.9" y="657" width="23.1" height="113.3" fill="none" stroke="#000" stroke-width="1.6"/><line x1="360.9" x2="384" y1="658.2" y2="658.2" stroke="#000" stroke-width="1.44"/><line x1="360.9" x2="384" y1="670" y2="670" stroke="#000" stroke-width="1.44"/><line x1="360.9" x2="384" y1="757.6" y2="757.6" stroke="#000" stroke-width="1.44"/><rect x="389.7" y="759" width="23.1" height="11.3" fill="#984EA3"/><rect x="389.7" y="664.8" width="23.1" height="94.2" fill="#E41A1C"/><rect x="389.7" y="652.5" width="23.1" height="12.3" fill="#4DAF4A"/><rect x="389.7" y="649.4" width="23.1" height="3.1" fill="#377EB8"/><rect x="389.7" y="649.4" width="23.1" height="120.9" fill="none" stroke="#000" stroke-width="1.6"/><line x1="389.7" x2="412.8" y1="652.5" y2="652.5" stroke="#000" stroke-width="1.44"/><line x1="389.7" x2="412.8" y1="664.8" y2="664.8" stroke="#000" stroke-width="1.44"/><line x1="389.7" x2="412.8" y1="759" y2="759" stroke="#000" stroke-width="1.44"/><rect x="418.4" y="759.6" width="23.1" height="10.7" fill="#984EA3"/><rect x="418.4" y="694.7" width="23.1" height="64.9" fill="#E41A1C"/><rect x="418.4" y="689.6" width="23.1" height="5.1" fill="#4DAF4A"/><rect x="418.4" y="688.1" width="23.1" height="1.5" fill="#377EB8"/><rect x="418.4" y="688.1" width="23.1" height="82.2" fill="none" stroke="#000" stroke-width="1.6"/><line x1="418.4" x2="441.5" y1="689.6" y2="689.6" stroke="#000" stroke-width="1.44"/><line x1="418.4" x2="441.5" y1="694.7" y2="694.7" stroke="#000" stroke-width="1.44"/><line x1="418.4" x2="441.5" y1="759.6" y2="759.6" stroke="#000" stroke-width="1.44"/><rect x="447.1" y="762.1" width="23.1" height="8.2" fill="#984EA3"/><rect x="447.1" y="686.9" width="23.1" height="75.2" fill="#E41A1C"/><rect x="447.1" y="677.6" width="23.1" height="9.3" fill="#4DAF4A"/><rect x="447.1" y="674.5" width="23.1" height="3.1" fill="#377EB8"/><rect x="447.1" y="674.5" width="23.1" height="95.8" fill="none" stroke="#000" stroke-width="1.6"/><line x1="447.1" x2="470.2" y1="677.6" y2="677.6" stroke="#000" stroke-width="1.44"/><line x1="447.1" x2="470.2" y1="686.9" y2="686.9" stroke="#000" stroke-width="1.44"/><line x1="447.1" x2="470.2" y1="762.1" y2="762.1" stroke="#000" stroke-width="1.44"/><rect x="475.9" y="762.1" width="23.1" height="8.2" fill="#984EA3"/><rect x="475.9" y="684.8" width="23.1" height="77.3" fill="#E41A1C"/><rect x="475.9" y="677.6" width="23.1" height="7.2" fill="#4DAF4A"/><rect x="475.9" y="676.8" width="23.1" height="0.8" fill="#377EB8"/><rect x="475.9" y="676.8" width="23.1" height="93.5" fill="none" stroke="#000" stroke-width="1.6"/><line x1="475.9" x2="499" y1="677.6" y2="677.6" stroke="#000" stroke-width="1.44"/><line x1="475.9" x2="499" y1="684.8" y2="684.8" stroke="#000" stroke-width="1.44"/><line x1="475.9" x2="499" y1="762.1" y2="762.1" stroke="#000" stroke-width="1.44"/><rect x="504.6" y="763.8" width="23.1" height="6.5" fill="#984EA3"/><rect x="504.6" y="703.6" width="23.1" height="60.2" fill="#E41A1C"/><rect x="504.6" y="693.7" width="23.1" height="9.9" fill="#4DAF4A"/><rect x="504.6" y="692" width="23.1" height="1.7" fill="#377EB8"/><rect x="504.6" y="692" width="23.1" height="78.3" fill="none" stroke="#000" stroke-width="1.6"/><line x1="504.6" x2="527.7" y1="693.7" y2="693.7" stroke="#000" stroke-width="1.44"/><line x1="504.6" x2="527.7" y1="703.6" y2="703.6" stroke="#000" stroke-width="1.44"/><line x1="504.6" x2="527.7" y1="763.8" y2="763.8" stroke="#000" stroke-width="1.44"/><rect x="533.3" y="764.2" width="23.1" height="6.1" fill="#984EA3"/><rect x="533.3" y="708.1" width="23.1" height="56.1" fill="#E41A1C"/><rect x="533.3" y="701.9" width="23.1" height="6.2" fill="#4DAF4A"/><rect x="533.3" y="699.9" width="23.1" height="2" fill="#377EB8"/><rect x="533.3" y="699.9" width="23.1" height="70.4" fill="none" stroke="#000" stroke-width="1.6"/><line x1="533.3" x2="556.4" y1="701.9" y2="701.9" stroke="#000" stroke-width="1.44"/><line x1="533.3" x2="556.4" y1="708.1" y2="708.1" stroke="#000" stroke-width="1.44"/><line x1="533.3" x2="556.4" y1="764.2" y2="764.2" stroke="#000" stroke-width="1.44"/><rect x="562" y="762.1" width="23.1" height="8.2" fill="#984EA3"/><rect x="562" y="699.3" width="23.1" height="62.8" fill="#E41A1C"/><rect x="562" y="692" width="23.1" height="7.3" fill="#4DAF4A"/><rect x="562" y="689.6" width="23.1" height="2.4" fill="#377EB8"/><rect x="562" y="689.6" width="23.1" height="80.7" fill="none" stroke="#000" stroke-width="1.6"/><line x1="562" x2="585.1" y1="692" y2="692" stroke="#000" stroke-width="1.44"/><line x1="562" x2="585.1" y1="699.3" y2="699.3" stroke="#000" stroke-width="1.44"/><line x1="562" x2="585.1" y1="762.1" y2="762.1" stroke="#000" stroke-width="1.44"/><rect x="590.8" y="764.2" width="23.1" height="6.1" fill="#984EA3"/><rect x="590.8" y="719.5" width="23.1" height="44.7" fill="#E41A1C"/><rect x="590.8" y="715.3" width="23.1" height="4.2" fill="#4DAF4A"/><rect x="590.8" y="713.7" width="23.1" height="1.6" fill="#377EB8"/><rect x="590.8" y="713.7" width="23.1" height="56.6" fill="none" stroke="#000" stroke-width="1.6"/><line x1="590.8" x2="613.9" y1="715.3" y2="715.3" stroke="#000" stroke-width="1.44"/><line x1="590.8" x2="613.9" y1="719.5" y2="719.5" stroke="#000" stroke-width="1.44"/><line x1="590.8" x2="613.9" y1="764.2" y2="764.2" stroke="#000" stroke-width="1.44"/><rect x="619.5" y="767.5" width="23.1" height="2.8" fill="#984EA3"/><rect x="619.5" y="738.6" width="23.1" height="28.9" fill="#E41A1C"/><rect x="619.5" y="735.5" width="23.1" height="3.1" fill="#4DAF4A"/><rect x="619.5" y="734.3" width="23.1" height="1.2" fill="#377EB8"/><rect x="619.5" y="734.3" width="23.1" height="36" fill="none" stroke="#000" stroke-width="1.6"/><line x1="619.5" x2="642.6" y1="735.5" y2="735.5" stroke="#000" stroke-width="1.44"/><line x1="619.5" x2="642.6" y1="738.6" y2="738.6" stroke="#000" stroke-width="1.44"/><line x1="619.5" x2="642.6" y1="767.5" y2="767.5" stroke="#000" stroke-width="1.44"/><rect x="648.2" y="765.8" width="23.1" height="4.5" fill="#984EA3"/><rect x="648.2" y="737" width="23.1" height="28.8" fill="#E41A1C"/><rect x="648.2" y="733.9" width="23.1" height="3.1" fill="#4DAF4A"/><rect x="648.2" y="733.5" width="23.1" height="0.4" fill="#377EB8"/><rect x="648.2" y="733.5" width="23.1" height="36.8" fill="none" stroke="#000" stroke-width="1.6"/><line x1="648.2" x2="671.3" y1="733.9" y2="733.9" stroke="#000" stroke-width="1.44"/><line x1="648.2" x2="671.3" y1="737" y2="737" stroke="#000" stroke-width="1.44"/><line x1="648.2" x2="671.3" y1="765.8" y2="765.8" stroke="#000" stroke-width="1.44"/><rect x="903.8" y="747.5" width="23.1" height="22.6" fill="#984EA3"/><rect x="903.8" y="671" width="23.1" height="76.5" fill="#E41A1C"/><rect x="903.8" y="666.6" width="23.1" height="4.4" fill="#4DAF4A"/><rect x="903.8" y="661.5" width="23.1" height="5.1" fill="#377EB8"/><rect x="903.8" y="661.5" width="23.1" height="108.6" fill="none" stroke="#000" stroke-width="1.6"/><line x1="903.8" x2="926.9" y1="666.6" y2="666.6" stroke="#000" stroke-width="1.44"/><line x1="903.8" x2="926.9" y1="671" y2="671" stroke="#000" stroke-width="1.44"/><line x1="903.8" x2="926.9" y1="747.5" y2="747.5" stroke="#000" stroke-width="1.44"/><rect x="932.5" y="751.2" width="23.1" height="18.9" fill="#984EA3"/><rect x="932.5" y="556" width="23.1" height="195.2" fill="#E41A1C"/><rect x="932.5" y="533.2" width="23.1" height="22.8" fill="#4DAF4A"/><rect x="932.5" y="529.2" width="23.1" height="4" fill="#377EB8"/><rect x="932.5" y="529.2" width="23.1" height="240.9" fill="none" stroke="#000" stroke-width="1.6"/><line x1="932.5" x2="955.6" y1="533.2" y2="533.2" stroke="#000" stroke-width="1.44"/><line x1="932.5" x2="955.6" y1="556" y2="556" stroke="#000" stroke-width="1.44"/><line x1="932.5" x2="955.6" y1="751.2" y2="751.2" stroke="#000" stroke-width="1.44"/><rect x="961.3" y="750.5" width="23.1" height="19.6" fill="#984EA3"/><rect x="961.3" y="544.6" width="23.1" height="205.9" fill="#E41A1C"/><rect x="961.3" y="523.3" width="23.1" height="21.3" fill="#4DAF4A"/><rect x="961.3" y="517.6" width="23.1" height="5.7" fill="#377EB8"/><rect x="961.3" y="517.6" width="23.1" height="252.5" fill="none" stroke="#000" stroke-width="1.6"/><line x1="961.3" x2="984.4" y1="523.3" y2="523.3" stroke="#000" stroke-width="1.44"/><line x1="961.3" x2="984.4" y1="544.6" y2="544.6" stroke="#000" stroke-width="1.44"/><line x1="961.3" x2="984.4" y1="750.5" y2="750.5" stroke="#000" stroke-width="1.44"/><rect x="990" y="752.3" width="23.1" height="17.8" fill="#984EA3"/><rect x="990" y="584.2" width="23.1" height="168.1" fill="#E41A1C"/><rect x="990" y="563.3" width="23.1" height="20.9" fill="#4DAF4A"/><rect x="990" y="560.2" width="23.1" height="3.1" fill="#377EB8"/><rect x="990" y="560.2" width="23.1" height="209.9" fill="none" stroke="#000" stroke-width="1.6"/><line x1="990" x2="1013.1" y1="563.3" y2="563.3" stroke="#000" stroke-width="1.44"/><line x1="990" x2="1013.1" y1="584.2" y2="584.2" stroke="#000" stroke-width="1.44"/><line x1="990" x2="1013.1" y1="752.3" y2="752.3" stroke="#000" stroke-width="1.44"/><rect x="1018.7" y="754.5" width="23.1" height="15.6" fill="#984EA3"/><rect x="1018.7" y="604.6" width="23.1" height="149.9" fill="#E41A1C"/><rect x="1018.7" y="591.2" width="23.1" height="13.4" fill="#4DAF4A"/><rect x="1018.7" y="587" width="23.1" height="4.2" fill="#377EB8"/><rect x="1018.7" y="587" width="23.1" height="183.1" fill="none" stroke="#000" stroke-width="1.6"/><line x1="1018.7" x2="1041.8" y1="591.2" y2="591.2" stroke="#000" stroke-width="1.44"/><line x1="1018.7" x2="1041.8" y1="604.6" y2="604.6" stroke="#000" stroke-width="1.44"/><line x1="1018.7" x2="1041.8" y1="754.5" y2="754.5" stroke="#000" stroke-width="1.44"/><rect x="1047.5" y="757.1" width="23.1" height="13" fill="#984EA3"/><rect x="1047.5" y="634.7" width="23.1" height="122.4" fill="#E41A1C"/><rect x="1047.5" y="620.4" width="23.1" height="14.3" fill="#4DAF4A"/><rect x="1047.5" y="617.6" width="23.1" height="2.8" fill="#377EB8"/><rect x="1047.5" y="617.6" width="23.1" height="152.5" fill="none" stroke="#000" stroke-width="1.6"/><line x1="1047.5" x2="1070.5" y1="620.4" y2="620.4" stroke="#000" stroke-width="1.44"/><line x1="1047.5" x2="1070.5" y1="634.7" y2="634.7" stroke="#000" stroke-width="1.44"/><line x1="1047.5" x2="1070.5" y1="757.1" y2="757.1" stroke="#000" stroke-width="1.44"/><rect x="1076.2" y="758.8" width="23.1" height="11.3" fill="#984EA3"/><rect x="1076.2" y="615.9" width="23.1" height="142.9" fill="#E41A1C"/><rect x="1076.2" y="600.8" width="23.1" height="15.1" fill="#4DAF4A"/><rect x="1076.2" y="596.2" width="23.1" height="4.6" fill="#377EB8"/><rect x="1076.2" y="596.2" width="23.1" height="173.9" fill="none" stroke="#000" stroke-width="1.6"/><line x1="1076.2" x2="1099.3" y1="600.8" y2="600.8" stroke="#000" stroke-width="1.44"/><line x1="1076.2" x2="1099.3" y1="615.9" y2="615.9" stroke="#000" stroke-width="1.44"/><line x1="1076.2" x2="1099.3" y1="758.8" y2="758.8" stroke="#000" stroke-width="1.44"/><rect x="1104.9" y="758.2" width="23.1" height="11.9" fill="#984EA3"/><rect x="1104.9" y="656" width="23.1" height="102.2" fill="#E41A1C"/><rect x="1104.9" y="645" width="23.1" height="11" fill="#4DAF4A"/><rect x="1104.9" y="642.3" width="23.1" height="2.7" fill="#377EB8"/><rect x="1104.9" y="642.3" width="23.1" height="127.8" fill="none" stroke="#000" stroke-width="1.6"/><line x1="1104.9" x2="1128" y1="645" y2="645" stroke="#000" stroke-width="1.44"/><line x1="1104.9" x2="1128" y1="656" y2="656" stroke="#000" stroke-width="1.44"/><line x1="1104.9" x2="1128" y1="758.2" y2="758.2" stroke="#000" stroke-width="1.44"/><rect x="1133.6" y="757.4" width="23.1" height="12.7" fill="#984EA3"/><rect x="1133.6" y="606.3" width="23.1" height="151.1" fill="#E41A1C"/><rect x="1133.6" y="591.5" width="23.1" height="14.8" fill="#4DAF4A"/><rect x="1133.6" y="587.9" width="23.1" height="3.6" fill="#377EB8"/><rect x="1133.6" y="587.9" width="23.1" height="182.2" fill="none" stroke="#000" stroke-width="1.6"/><line x1="1133.6" x2="1156.7" y1="591.5" y2="591.5" stroke="#000" stroke-width="1.44"/><line x1="1133.6" x2="1156.7" y1="606.3" y2="606.3" stroke="#000" stroke-width="1.44"/><line x1="1133.6" x2="1156.7" y1="757.4" y2="757.4" stroke="#000" stroke-width="1.44"/><rect x="1162.4" y="759.1" width="23.1" height="11" fill="#984EA3"/><rect x="1162.4" y="623.9" width="23.1" height="135.2" fill="#E41A1C"/><rect x="1162.4" y="607.1" width="23.1" height="16.8" fill="#4DAF4A"/><rect x="1162.4" y="604.4" width="23.1" height="2.7" fill="#377EB8"/><rect x="1162.4" y="604.4" width="23.1" height="165.7" fill="none" stroke="#000" stroke-width="1.6"/><line x1="1162.4" x2="1185.5" y1="607.1" y2="607.1" stroke="#000" stroke-width="1.44"/><line x1="1162.4" x2="1185.5" y1="623.9" y2="623.9" stroke="#000" stroke-width="1.44"/><line x1="1162.4" x2="1185.5" y1="759.1" y2="759.1" stroke="#000" stroke-width="1.44"/><rect x="1191.1" y="758.2" width="23.1" height="11.9" fill="#984EA3"/><rect x="1191.1" y="662.9" width="23.1" height="95.3" fill="#E41A1C"/><rect x="1191.1" y="650.3" width="23.1" height="12.6" fill="#4DAF4A"/><rect x="1191.1" y="647.5" width="23.1" height="2.8" fill="#377EB8"/><rect x="1191.1" y="647.5" width="23.1" height="122.6" fill="none" stroke="#000" stroke-width="1.6"/><line x1="1191.1" x2="1214.2" y1="650.3" y2="650.3" stroke="#000" stroke-width="1.44"/><line x1="1191.1" x2="1214.2" y1="662.9" y2="662.9" stroke="#000" stroke-width="1.44"/><line x1="1191.1" x2="1214.2" y1="758.2" y2="758.2" stroke="#000" stroke-width="1.44"/><rect x="1219.8" y="760.4" width="23.1" height="9.7" fill="#984EA3"/><rect x="1219.8" y="649.2" width="23.1" height="111.2" fill="#E41A1C"/><rect x="1219.8" y="637.4" width="23.1" height="11.8" fill="#4DAF4A"/><rect x="1219.8" y="634.1" width="23.1" height="3.3" fill="#377EB8"/><rect x="1219.8" y="634.1" width="23.1" height="136" fill="none" stroke="#000" stroke-width="1.6"/><line x1="1219.8" x2="1242.9" y1="637.4" y2="637.4" stroke="#000" stroke-width="1.44"/><line x1="1219.8" x2="1242.9" y1="649.2" y2="649.2" stroke="#000" stroke-width="1.44"/><line x1="1219.8" x2="1242.9" y1="760.4" y2="760.4" stroke="#000" stroke-width="1.44"/><rect x="1248.6" y="756.9" width="23.1" height="13.2" fill="#984EA3"/><rect x="1248.6" y="629.7" width="23.1" height="127.2" fill="#E41A1C"/><rect x="1248.6" y="613.2" width="23.1" height="16.5" fill="#4DAF4A"/><rect x="1248.6" y="610.4" width="23.1" height="2.8" fill="#377EB8"/><rect x="1248.6" y="610.4" width="23.1" height="159.7" fill="none" stroke="#000" stroke-width="1.6"/><line x1="1248.6" x2="1271.7" y1="613.2" y2="613.2" stroke="#000" stroke-width="1.44"/><line x1="1248.6" x2="1271.7" y1="629.7" y2="629.7" stroke="#000" stroke-width="1.44"/><line x1="1248.6" x2="1271.7" y1="756.9" y2="756.9" stroke="#000" stroke-width="1.44"/><rect x="1277.3" y="758.2" width="23.1" height="11.9" fill="#984EA3"/><rect x="1277.3" y="662.9" width="23.1" height="95.3" fill="#E41A1C"/><rect x="1277.3" y="653.8" width="23.1" height="9.1" fill="#4DAF4A"/><rect x="1277.3" y="651.1" width="23.1" height="2.7" fill="#377EB8"/><rect x="1277.3" y="651.1" width="23.1" height="119" fill="none" stroke="#000" stroke-width="1.6"/><line x1="1277.3" x2="1300.4" y1="653.8" y2="653.8" stroke="#000" stroke-width="1.44"/><line x1="1277.3" x2="1300.4" y1="662.9" y2="662.9" stroke="#000" stroke-width="1.44"/><line x1="1277.3" x2="1300.4" y1="758.2" y2="758.2" stroke="#000" stroke-width="1.44"/><rect x="1306" y="760.4" width="23.1" height="9.7" fill="#984EA3"/><rect x="1306" y="675" width="23.1" height="85.4" fill="#E41A1C"/><rect x="1306" y="664.8" width="23.1" height="10.2" fill="#4DAF4A"/><rect x="1306" y="662.1" width="23.1" height="2.7" fill="#377EB8"/><rect x="1306" y="662.1" width="23.1" height="108" fill="none" stroke="#000" stroke-width="1.6"/><line x1="1306" x2="1329.1" y1="664.8" y2="664.8" stroke="#000" stroke-width="1.44"/><line x1="1306" x2="1329.1" y1="675" y2="675" stroke="#000" stroke-width="1.44"/><line x1="1306" x2="1329.1" y1="760.4" y2="760.4" stroke="#000" stroke-width="1.44"/><rect x="1334.8" y="759.6" width="23.1" height="10.5" fill="#984EA3"/><rect x="1334.8" y="662.9" width="23.1" height="96.7" fill="#E41A1C"/><rect x="1334.8" y="655.2" width="23.1" height="7.7" fill="#4DAF4A"/><rect x="1334.8" y="653" width="23.1" height="2.2" fill="#377EB8"/><rect x="1334.8" y="653" width="23.1" height="117.1" fill="none" stroke="#000" stroke-width="1.6"/><line x1="1334.8" x2="1357.8" y1="655.2" y2="655.2" stroke="#000" stroke-width="1.44"/><line x1="1334.8" x2="1357.8" y1="662.9" y2="662.9" stroke="#000" stroke-width="1.44"/><line x1="1334.8" x2="1357.8" y1="759.6" y2="759.6" stroke="#000" stroke-width="1.44"/><rect x="1363.5" y="762.9" width="23.1" height="7.2" fill="#984EA3"/><rect x="1363.5" y="684.9" width="23.1" height="78" fill="#E41A1C"/><rect x="1363.5" y="678.6" width="23.1" height="6.3" fill="#4DAF4A"/><rect x="1363.5" y="676.4" width="23.1" height="2.2" fill="#377EB8"/><rect x="1363.5" y="676.4" width="23.1" height="93.7" fill="none" stroke="#000" stroke-width="1.6"/><line x1="1363.5" x2="1386.6" y1="678.6" y2="678.6" stroke="#000" stroke-width="1.44"/><line x1="1363.5" x2="1386.6" y1="684.9" y2="684.9" stroke="#000" stroke-width="1.44"/><line x1="1363.5" x2="1386.6" y1="762.9" y2="762.9" stroke="#000" stroke-width="1.44"/><rect x="1392.2" y="765.9" width="23.1" height="4.2" fill="#984EA3"/><rect x="1392.2" y="728" width="23.1" height="37.9" fill="#E41A1C"/><rect x="1392.2" y="725.3" width="23.1" height="2.7" fill="#4DAF4A"/><rect x="1392.2" y="723.9" width="23.1" height="1.4" fill="#377EB8"/><rect x="1392.2" y="723.9" width="23.1" height="46.2" fill="none" stroke="#000" stroke-width="1.6"/><line x1="1392.2" x2="1415.3" y1="725.3" y2="725.3" stroke="#000" stroke-width="1.44"/><line x1="1392.2" x2="1415.3" y1="728" y2="728" stroke="#000" stroke-width="1.44"/><line x1="1392.2" x2="1415.3" y1="765.9" y2="765.9" stroke="#000" stroke-width="1.44"/><rect x="1420.9" y="764.3" width="23.1" height="5.8" fill="#984EA3"/><rect x="1420.9" y="706" width="23.1" height="58.3" fill="#E41A1C"/><rect x="1420.9" y="699.7" width="23.1" height="6.3" fill="#4DAF4A"/><rect x="1420.9" y="697.3" width="23.1" height="2.4" fill="#377EB8"/><rect x="1420.9" y="697.3" width="23.1" height="72.8" fill="none" stroke="#000" stroke-width="1.6"/><line x1="1420.9" x2="1444" y1="699.7" y2="699.7" stroke="#000" stroke-width="1.44"/><line x1="1420.9" x2="1444" y1="706" y2="706" stroke="#000" stroke-width="1.44"/><line x1="1420.9" x2="1444" y1="764.3" y2="764.3" stroke="#000" stroke-width="1.44"/><rect x="131.1" y="1079.7" width="23.1" height="12.3" fill="#984EA3"/><rect x="131.1" y="1046.4" width="23.1" height="33.3" fill="#E41A1C"/><rect x="131.1" y="1043.1" width="23.1" height="3.3" fill="#4DAF4A"/><rect x="131.1" y="1041.8" width="23.1" height="1.3" fill="#377EB8"/><rect x="131.1" y="1041.8" width="23.1" height="50.2" fill="none" stroke="#000" stroke-width="1.6"/><line x1="131.1" x2="154.2" y1="1043.1" y2="1043.1" stroke="#000" stroke-width="1.44"/><line x1="131.1" x2="154.2" y1="1046.4" y2="1046.4" stroke="#000" stroke-width="1.44"/><line x1="131.1" x2="154.2" y1="1079.7" y2="1079.7" stroke="#000" stroke-width="1.44"/><rect x="159.8" y="1083" width="23.1" height="9" fill="#984EA3"/><rect x="159.8" y="974.5" width="23.1" height="108.5" fill="#E41A1C"/><rect x="159.8" y="958" width="23.1" height="16.5" fill="#4DAF4A"/><rect x="159.8" y="954.7" width="23.1" height="3.3" fill="#377EB8"/><rect x="159.8" y="954.7" width="23.1" height="137.3" fill="none" stroke="#000" stroke-width="1.6"/><line x1="159.8" x2="182.9" y1="958" y2="958" stroke="#000" stroke-width="1.44"/><line x1="159.8" x2="182.9" y1="974.5" y2="974.5" stroke="#000" stroke-width="1.44"/><line x1="159.8" x2="182.9" y1="1083" y2="1083" stroke="#000" stroke-width="1.44"/><rect x="188.6" y="1080.2" width="23.1" height="11.8" fill="#984EA3"/><rect x="188.6" y="967.6" width="23.1" height="112.6" fill="#E41A1C"/><rect x="188.6" y="952.5" width="23.1" height="15.1" fill="#4DAF4A"/><rect x="188.6" y="949.2" width="23.1" height="3.3" fill="#377EB8"/><rect x="188.6" y="949.2" width="23.1" height="142.8" fill="none" stroke="#000" stroke-width="1.6"/><line x1="188.6" x2="211.7" y1="952.5" y2="952.5" stroke="#000" stroke-width="1.44"/><line x1="188.6" x2="211.7" y1="967.6" y2="967.6" stroke="#000" stroke-width="1.44"/><line x1="188.6" x2="211.7" y1="1080.2" y2="1080.2" stroke="#000" stroke-width="1.44"/><rect x="217.3" y="1078.8" width="23.1" height="13.2" fill="#984EA3"/><rect x="217.3" y="984.6" width="23.1" height="94.2" fill="#E41A1C"/><rect x="217.3" y="974.5" width="23.1" height="10.1" fill="#4DAF4A"/><rect x="217.3" y="972.5" width="23.1" height="2" fill="#377EB8"/><rect x="217.3" y="972.5" width="23.1" height="119.5" fill="none" stroke="#000" stroke-width="1.6"/><line x1="217.3" x2="240.4" y1="974.5" y2="974.5" stroke="#000" stroke-width="1.44"/><line x1="217.3" x2="240.4" y1="984.6" y2="984.6" stroke="#000" stroke-width="1.44"/><line x1="217.3" x2="240.4" y1="1078.8" y2="1078.8" stroke="#000" stroke-width="1.44"/><rect x="246" y="1079.4" width="23.1" height="12.6" fill="#984EA3"/><rect x="246" y="981.3" width="23.1" height="98.1" fill="#E41A1C"/><rect x="246" y="968.1" width="23.1" height="13.2" fill="#4DAF4A"/><rect x="246" y="964.8" width="23.1" height="3.3" fill="#377EB8"/><rect x="246" y="964.8" width="23.1" height="127.2" fill="none" stroke="#000" stroke-width="1.6"/><line x1="246" x2="269.1" y1="968.1" y2="968.1" stroke="#000" stroke-width="1.44"/><line x1="246" x2="269.1" y1="981.3" y2="981.3" stroke="#000" stroke-width="1.44"/><line x1="246" x2="269.1" y1="1079.4" y2="1079.4" stroke="#000" stroke-width="1.44"/><rect x="274.8" y="1080.2" width="23.1" height="11.8" fill="#984EA3"/><rect x="274.8" y="979.9" width="23.1" height="100.3" fill="#E41A1C"/><rect x="274.8" y="965.7" width="23.1" height="14.2" fill="#4DAF4A"/><rect x="274.8" y="964" width="23.1" height="1.7" fill="#377EB8"/><rect x="274.8" y="964" width="23.1" height="128" fill="none" stroke="#000" stroke-width="1.6"/><line x1="274.8" x2="297.9" y1="965.7" y2="965.7" stroke="#000" stroke-width="1.44"/><line x1="274.8" x2="297.9" y1="979.9" y2="979.9" stroke="#000" stroke-width="1.44"/><line x1="274.8" x2="297.9" y1="1080.2" y2="1080.2" stroke="#000" stroke-width="1.44"/><rect x="303.5" y="1078" width="23.1" height="14" fill="#984EA3"/><rect x="303.5" y="970.3" width="23.1" height="107.7" fill="#E41A1C"/><rect x="303.5" y="960.7" width="23.1" height="9.6" fill="#4DAF4A"/><rect x="303.5" y="958.5" width="23.1" height="2.2" fill="#377EB8"/><rect x="303.5" y="958.5" width="23.1" height="133.5" fill="none" stroke="#000" stroke-width="1.6"/><line x1="303.5" x2="326.6" y1="960.7" y2="960.7" stroke="#000" stroke-width="1.44"/><line x1="303.5" x2="326.6" y1="970.3" y2="970.3" stroke="#000" stroke-width="1.44"/><line x1="303.5" x2="326.6" y1="1078" y2="1078" stroke="#000" stroke-width="1.44"/><rect x="332.2" y="1080.2" width="23.1" height="11.8" fill="#984EA3"/><rect x="332.2" y="992.3" width="23.1" height="87.9" fill="#E41A1C"/><rect x="332.2" y="979.9" width="23.1" height="12.4" fill="#4DAF4A"/><rect x="332.2" y="978" width="23.1" height="1.9" fill="#377EB8"/><rect x="332.2" y="978" width="23.1" height="114" fill="none" stroke="#000" stroke-width="1.6"/><line x1="332.2" x2="355.3" y1="979.9" y2="979.9" stroke="#000" stroke-width="1.44"/><line x1="332.2" x2="355.3" y1="992.3" y2="992.3" stroke="#000" stroke-width="1.44"/><line x1="332.2" x2="355.3" y1="1080.2" y2="1080.2" stroke="#000" stroke-width="1.44"/><rect x="360.9" y="1076.1" width="23.1" height="15.9" fill="#984EA3"/><rect x="360.9" y="963.5" width="23.1" height="112.6" fill="#E41A1C"/><rect x="360.9" y="948.4" width="23.1" height="15.1" fill="#4DAF4A"/><rect x="360.9" y="947" width="23.1" height="1.4" fill="#377EB8"/><rect x="360.9" y="947" width="23.1" height="145" fill="none" stroke="#000" stroke-width="1.6"/><line x1="360.9" x2="384" y1="948.4" y2="948.4" stroke="#000" stroke-width="1.44"/><line x1="360.9" x2="384" y1="963.5" y2="963.5" stroke="#000" stroke-width="1.44"/><line x1="360.9" x2="384" y1="1076.1" y2="1076.1" stroke="#000" stroke-width="1.44"/><rect x="389.7" y="1076.6" width="23.1" height="15.4" fill="#984EA3"/><rect x="389.7" y="954.6" width="23.1" height="122" fill="#E41A1C"/><rect x="389.7" y="937.7" width="23.1" height="16.9" fill="#4DAF4A"/><rect x="389.7" y="934.4" width="23.1" height="3.3" fill="#377EB8"/><rect x="389.7" y="934.4" width="23.1" height="157.6" fill="none" stroke="#000" stroke-width="1.6"/><line x1="389.7" x2="412.8" y1="937.7" y2="937.7" stroke="#000" stroke-width="1.44"/><line x1="389.7" x2="412.8" y1="954.6" y2="954.6" stroke="#000" stroke-width="1.44"/><line x1="389.7" x2="412.8" y1="1076.6" y2="1076.6" stroke="#000" stroke-width="1.44"/><rect x="418.4" y="1077.6" width="23.1" height="14.4" fill="#984EA3"/><rect x="418.4" y="993.1" width="23.1" height="84.5" fill="#E41A1C"/><rect x="418.4" y="986.5" width="23.1" height="6.6" fill="#4DAF4A"/><rect x="418.4" y="984.5" width="23.1" height="2" fill="#377EB8"/><rect x="418.4" y="984.5" width="23.1" height="107.5" fill="none" stroke="#000" stroke-width="1.6"/><line x1="418.4" x2="441.5" y1="986.5" y2="986.5" stroke="#000" stroke-width="1.44"/><line x1="418.4" x2="441.5" y1="993.1" y2="993.1" stroke="#000" stroke-width="1.44"/><line x1="418.4" x2="441.5" y1="1077.6" y2="1077.6" stroke="#000" stroke-width="1.44"/><rect x="447.1" y="1080.7" width="23.1" height="11.3" fill="#984EA3"/><rect x="447.1" y="977.3" width="23.1" height="103.4" fill="#E41A1C"/><rect x="447.1" y="963.9" width="23.1" height="13.4" fill="#4DAF4A"/><rect x="447.1" y="960.4" width="23.1" height="3.5" fill="#377EB8"/><rect x="447.1" y="960.4" width="23.1" height="131.6" fill="none" stroke="#000" stroke-width="1.6"/><line x1="447.1" x2="470.2" y1="963.9" y2="963.9" stroke="#000" stroke-width="1.44"/><line x1="447.1" x2="470.2" y1="977.3" y2="977.3" stroke="#000" stroke-width="1.44"/><line x1="447.1" x2="470.2" y1="1080.7" y2="1080.7" stroke="#000" stroke-width="1.44"/><rect x="475.9" y="1079.9" width="23.1" height="12.1" fill="#984EA3"/><rect x="475.9" y="973.6" width="23.1" height="106.3" fill="#E41A1C"/><rect x="475.9" y="963.5" width="23.1" height="10.1" fill="#4DAF4A"/><rect x="475.9" y="962.2" width="23.1" height="1.3" fill="#377EB8"/><rect x="475.9" y="962.2" width="23.1" height="129.8" fill="none" stroke="#000" stroke-width="1.6"/><line x1="475.9" x2="499" y1="963.5" y2="963.5" stroke="#000" stroke-width="1.44"/><line x1="475.9" x2="499" y1="973.6" y2="973.6" stroke="#000" stroke-width="1.44"/><line x1="475.9" x2="499" y1="1079.9" y2="1079.9" stroke="#000" stroke-width="1.44"/><rect x="504.6" y="1082.4" width="23.1" height="9.6" fill="#984EA3"/><rect x="504.6" y="993.8" width="23.1" height="88.6" fill="#E41A1C"/><rect x="504.6" y="979.3" width="23.1" height="14.5" fill="#4DAF4A"/><rect x="504.6" y="976.7" width="23.1" height="2.6" fill="#377EB8"/><rect x="504.6" y="976.7" width="23.1" height="115.3" fill="none" stroke="#000" stroke-width="1.6"/><line x1="504.6" x2="527.7" y1="979.3" y2="979.3" stroke="#000" stroke-width="1.44"/><line x1="504.6" x2="527.7" y1="993.8" y2="993.8" stroke="#000" stroke-width="1.44"/><line x1="504.6" x2="527.7" y1="1082.4" y2="1082.4" stroke="#000" stroke-width="1.44"/><rect x="533.3" y="1082.4" width="23.1" height="9.6" fill="#984EA3"/><rect x="533.3" y="994.8" width="23.1" height="87.6" fill="#E41A1C"/><rect x="533.3" y="984.9" width="23.1" height="9.9" fill="#4DAF4A"/><rect x="533.3" y="981" width="23.1" height="3.9" fill="#377EB8"/><rect x="533.3" y="981" width="23.1" height="111" fill="none" stroke="#000" stroke-width="1.6"/><line x1="533.3" x2="556.4" y1="984.9" y2="984.9" stroke="#000" stroke-width="1.44"/><line x1="533.3" x2="556.4" y1="994.8" y2="994.8" stroke="#000" stroke-width="1.44"/><line x1="533.3" x2="556.4" y1="1082.4" y2="1082.4" stroke="#000" stroke-width="1.44"/><rect x="562" y="1078.2" width="23.1" height="13.8" fill="#984EA3"/><rect x="562" y="980" width="23.1" height="98.2" fill="#E41A1C"/><rect x="562" y="968" width="23.1" height="12" fill="#4DAF4A"/><rect x="562" y="964.5" width="23.1" height="3.5" fill="#377EB8"/><rect x="562" y="964.5" width="23.1" height="127.5" fill="none" stroke="#000" stroke-width="1.6"/><line x1="562" x2="585.1" y1="968" y2="968" stroke="#000" stroke-width="1.44"/><line x1="562" x2="585.1" y1="980" y2="980" stroke="#000" stroke-width="1.44"/><line x1="562" x2="585.1" y1="1078.2" y2="1078.2" stroke="#000" stroke-width="1.44"/><rect x="590.8" y="1079.7" width="23.1" height="12.3" fill="#984EA3"/><rect x="590.8" y="996.8" width="23.1" height="82.9" fill="#E41A1C"/><rect x="590.8" y="988.6" width="23.1" height="8.2" fill="#4DAF4A"/><rect x="590.8" y="985.1" width="23.1" height="3.5" fill="#377EB8"/><rect x="590.8" y="985.1" width="23.1" height="106.9" fill="none" stroke="#000" stroke-width="1.6"/><line x1="590.8" x2="613.9" y1="988.6" y2="988.6" stroke="#000" stroke-width="1.44"/><line x1="590.8" x2="613.9" y1="996.8" y2="996.8" stroke="#000" stroke-width="1.44"/><line x1="590.8" x2="613.9" y1="1079.7" y2="1079.7" stroke="#000" stroke-width="1.44"/><rect x="619.5" y="1084.8" width="23.1" height="7.2" fill="#984EA3"/><rect x="619.5" y="1021.6" width="23.1" height="63.2" fill="#E41A1C"/><rect x="619.5" y="1014.8" width="23.1" height="6.8" fill="#4DAF4A"/><rect x="619.5" y="1012.3" width="23.1" height="2.5" fill="#377EB8"/><rect x="619.5" y="1012.3" width="23.1" height="79.7" fill="none" stroke="#000" stroke-width="1.6"/><line x1="619.5" x2="642.6" y1="1014.8" y2="1014.8" stroke="#000" stroke-width="1.44"/><line x1="619.5" x2="642.6" y1="1021.6" y2="1021.6" stroke="#000" stroke-width="1.44"/><line x1="619.5" x2="642.6" y1="1084.8" y2="1084.8" stroke="#000" stroke-width="1.44"/><rect x="648.2" y="1081.3" width="23.1" height="10.7" fill="#984EA3"/><rect x="648.2" y="1016.4" width="23.1" height="64.9" fill="#E41A1C"/><rect x="648.2" y="1008.6" width="23.1" height="7.8" fill="#4DAF4A"/><rect x="648.2" y="1007.1" width="23.1" height="1.5" fill="#377EB8"/><rect x="648.2" y="1007.1" width="23.1" height="84.9" fill="none" stroke="#000" stroke-width="1.6"/><line x1="648.2" x2="671.3" y1="1008.6" y2="1008.6" stroke="#000" stroke-width="1.44"/><line x1="648.2" x2="671.3" y1="1016.4" y2="1016.4" stroke="#000" stroke-width="1.44"/><line x1="648.2" x2="671.3" y1="1081.3" y2="1081.3" stroke="#000" stroke-width="1.44"/><rect x="903.8" y="1074.6" width="23.1" height="17.1" fill="#984EA3"/><rect x="903.8" y="1014.8" width="23.1" height="59.8" fill="#E41A1C"/><rect x="903.8" y="1011.8" width="23.1" height="3" fill="#4DAF4A"/><rect x="903.8" y="1008.2" width="23.1" height="3.6" fill="#377EB8"/><rect x="903.8" y="1008.2" width="23.1" height="83.5" fill="none" stroke="#000" stroke-width="1.6"/><line x1="903.8" x2="926.9" y1="1011.8" y2="1011.8" stroke="#000" stroke-width="1.44"/><line x1="903.8" x2="926.9" y1="1014.8" y2="1014.8" stroke="#000" stroke-width="1.44"/><line x1="903.8" x2="926.9" y1="1074.6" y2="1074.6" stroke="#000" stroke-width="1.44"/><rect x="932.5" y="1075.6" width="23.1" height="16.1" fill="#984EA3"/><rect x="932.5" y="901.9" width="23.1" height="173.7" fill="#E41A1C"/><rect x="932.5" y="881.3" width="23.1" height="20.6" fill="#4DAF4A"/><rect x="932.5" y="877.8" width="23.1" height="3.5" fill="#377EB8"/><rect x="932.5" y="877.8" width="23.1" height="213.9" fill="none" stroke="#000" stroke-width="1.6"/><line x1="932.5" x2="955.6" y1="881.3" y2="881.3" stroke="#000" stroke-width="1.44"/><line x1="932.5" x2="955.6" y1="901.9" y2="901.9" stroke="#000" stroke-width="1.44"/><line x1="932.5" x2="955.6" y1="1075.6" y2="1075.6" stroke="#000" stroke-width="1.44"/><rect x="961.3" y="1075" width="23.1" height="16.7" fill="#984EA3"/><rect x="961.3" y="890.6" width="23.1" height="184.4" fill="#E41A1C"/><rect x="961.3" y="871.6" width="23.1" height="19" fill="#4DAF4A"/><rect x="961.3" y="866.5" width="23.1" height="5.1" fill="#377EB8"/><rect x="961.3" y="866.5" width="23.1" height="225.2" fill="none" stroke="#000" stroke-width="1.6"/><line x1="961.3" x2="984.4" y1="871.6" y2="871.6" stroke="#000" stroke-width="1.44"/><line x1="961.3" x2="984.4" y1="890.6" y2="890.6" stroke="#000" stroke-width="1.44"/><line x1="961.3" x2="984.4" y1="1075" y2="1075" stroke="#000" stroke-width="1.44"/><rect x="990" y="1075.6" width="23.1" height="16.1" fill="#984EA3"/><rect x="990" y="913.5" width="23.1" height="162.1" fill="#E41A1C"/><rect x="990" y="893.7" width="23.1" height="19.8" fill="#4DAF4A"/><rect x="990" y="890.6" width="23.1" height="3.1" fill="#377EB8"/><rect x="990" y="890.6" width="23.1" height="201.1" fill="none" stroke="#000" stroke-width="1.6"/><line x1="990" x2="1013.1" y1="893.7" y2="893.7" stroke="#000" stroke-width="1.44"/><line x1="990" x2="1013.1" y1="913.5" y2="913.5" stroke="#000" stroke-width="1.44"/><line x1="990" x2="1013.1" y1="1075.6" y2="1075.6" stroke="#000" stroke-width="1.44"/><rect x="1018.7" y="1076.7" width="23.1" height="15" fill="#984EA3"/><rect x="1018.7" y="929.3" width="23.1" height="147.4" fill="#E41A1C"/><rect x="1018.7" y="915.5" width="23.1" height="13.8" fill="#4DAF4A"/><rect x="1018.7" y="911.8" width="23.1" height="3.7" fill="#377EB8"/><rect x="1018.7" y="911.8" width="23.1" height="179.9" fill="none" stroke="#000" stroke-width="1.6"/><line x1="1018.7" x2="1041.8" y1="915.5" y2="915.5" stroke="#000" stroke-width="1.44"/><line x1="1018.7" x2="1041.8" y1="929.3" y2="929.3" stroke="#000" stroke-width="1.44"/><line x1="1018.7" x2="1041.8" y1="1076.7" y2="1076.7" stroke="#000" stroke-width="1.44"/><rect x="1047.5" y="1076.7" width="23.1" height="15" fill="#984EA3"/><rect x="1047.5" y="924.2" width="23.1" height="152.5" fill="#E41A1C"/><rect x="1047.5" y="905.6" width="23.1" height="18.6" fill="#4DAF4A"/><rect x="1047.5" y="903" width="23.1" height="2.6" fill="#377EB8"/><rect x="1047.5" y="903" width="23.1" height="188.7" fill="none" stroke="#000" stroke-width="1.6"/><line x1="1047.5" x2="1070.5" y1="905.6" y2="905.6" stroke="#000" stroke-width="1.44"/><line x1="1047.5" x2="1070.5" y1="924.2" y2="924.2" stroke="#000" stroke-width="1.44"/><line x1="1047.5" x2="1070.5" y1="1076.7" y2="1076.7" stroke="#000" stroke-width="1.44"/><rect x="1076.2" y="1077.7" width="23.1" height="14" fill="#984EA3"/><rect x="1076.2" y="898.8" width="23.1" height="178.9" fill="#E41A1C"/><rect x="1076.2" y="879.9" width="23.1" height="18.9" fill="#4DAF4A"/><rect x="1076.2" y="874.1" width="23.1" height="5.8" fill="#377EB8"/><rect x="1076.2" y="874.1" width="23.1" height="217.6" fill="none" stroke="#000" stroke-width="1.6"/><line x1="1076.2" x2="1099.3" y1="879.9" y2="879.9" stroke="#000" stroke-width="1.44"/><line x1="1076.2" x2="1099.3" y1="898.8" y2="898.8" stroke="#000" stroke-width="1.44"/><line x1="1076.2" x2="1099.3" y1="1077.7" y2="1077.7" stroke="#000" stroke-width="1.44"/><rect x="1104.9" y="1076.7" width="23.1" height="15" fill="#984EA3"/><rect x="1104.9" y="947.9" width="23.1" height="128.8" fill="#E41A1C"/><rect x="1104.9" y="934.1" width="23.1" height="13.8" fill="#4DAF4A"/><rect x="1104.9" y="931.4" width="23.1" height="2.7" fill="#377EB8"/><rect x="1104.9" y="931.4" width="23.1" height="160.3" fill="none" stroke="#000" stroke-width="1.6"/><line x1="1104.9" x2="1128" y1="934.1" y2="934.1" stroke="#000" stroke-width="1.44"/><line x1="1104.9" x2="1128" y1="947.9" y2="947.9" stroke="#000" stroke-width="1.44"/><line x1="1104.9" x2="1128" y1="1076.7" y2="1076.7" stroke="#000" stroke-width="1.44"/><rect x="1133.6" y="1075" width="23.1" height="16.7" fill="#984EA3"/><rect x="1133.6" y="881.9" width="23.1" height="193.1" fill="#E41A1C"/><rect x="1133.6" y="862.8" width="23.1" height="19.1" fill="#4DAF4A"/><rect x="1133.6" y="858.7" width="23.1" height="4.1" fill="#377EB8"/><rect x="1133.6" y="858.7" width="23.1" height="233" fill="none" stroke="#000" stroke-width="1.6"/><line x1="1133.6" x2="1156.7" y1="862.8" y2="862.8" stroke="#000" stroke-width="1.44"/><line x1="1133.6" x2="1156.7" y1="881.9" y2="881.9" stroke="#000" stroke-width="1.44"/><line x1="1133.6" x2="1156.7" y1="1075" y2="1075" stroke="#000" stroke-width="1.44"/><rect x="1162.4" y="1077.7" width="23.1" height="14" fill="#984EA3"/><rect x="1162.4" y="900.9" width="23.1" height="176.8" fill="#E41A1C"/><rect x="1162.4" y="878.8" width="23.1" height="22.1" fill="#4DAF4A"/><rect x="1162.4" y="875.8" width="23.1" height="3" fill="#377EB8"/><rect x="1162.4" y="875.8" width="23.1" height="215.9" fill="none" stroke="#000" stroke-width="1.6"/><line x1="1162.4" x2="1185.5" y1="878.8" y2="878.8" stroke="#000" stroke-width="1.44"/><line x1="1162.4" x2="1185.5" y1="900.9" y2="900.9" stroke="#000" stroke-width="1.44"/><line x1="1162.4" x2="1185.5" y1="1077.7" y2="1077.7" stroke="#000" stroke-width="1.44"/><rect x="1191.1" y="1076" width="23.1" height="15.7" fill="#984EA3"/><rect x="1191.1" y="951.6" width="23.1" height="124.4" fill="#E41A1C"/><rect x="1191.1" y="934.5" width="23.1" height="17.1" fill="#4DAF4A"/><rect x="1191.1" y="931.8" width="23.1" height="2.7" fill="#377EB8"/><rect x="1191.1" y="931.8" width="23.1" height="159.9" fill="none" stroke="#000" stroke-width="1.6"/><line x1="1191.1" x2="1214.2" y1="934.5" y2="934.5" stroke="#000" stroke-width="1.44"/><line x1="1191.1" x2="1214.2" y1="951.6" y2="951.6" stroke="#000" stroke-width="1.44"/><line x1="1191.1" x2="1214.2" y1="1076" y2="1076" stroke="#000" stroke-width="1.44"/><rect x="1219.8" y="1078.7" width="23.1" height="13" fill="#984EA3"/><rect x="1219.8" y="925.2" width="23.1" height="153.5" fill="#E41A1C"/><rect x="1219.8" y="909.8" width="23.1" height="15.4" fill="#4DAF4A"/><rect x="1219.8" y="905" width="23.1" height="4.8" fill="#377EB8"/><rect x="1219.8" y="905" width="23.1" height="186.7" fill="none" stroke="#000" stroke-width="1.6"/><line x1="1219.8" x2="1242.9" y1="909.8" y2="909.8" stroke="#000" stroke-width="1.44"/><line x1="1219.8" x2="1242.9" y1="925.2" y2="925.2" stroke="#000" stroke-width="1.44"/><line x1="1219.8" x2="1242.9" y1="1078.7" y2="1078.7" stroke="#000" stroke-width="1.44"/><rect x="1248.6" y="1073.2" width="23.1" height="18.5" fill="#984EA3"/><rect x="1248.6" y="896.4" width="23.1" height="176.8" fill="#E41A1C"/><rect x="1248.6" y="874.1" width="23.1" height="22.3" fill="#4DAF4A"/><rect x="1248.6" y="870.2" width="23.1" height="3.9" fill="#377EB8"/><rect x="1248.6" y="870.2" width="23.1" height="221.5" fill="none" stroke="#000" stroke-width="1.6"/><line x1="1248.6" x2="1271.7" y1="874.1" y2="874.1" stroke="#000" stroke-width="1.44"/><line x1="1248.6" x2="1271.7" y1="896.4" y2="896.4" stroke="#000" stroke-width="1.44"/><line x1="1248.6" x2="1271.7" y1="1073.2" y2="1073.2" stroke="#000" stroke-width="1.44"/><rect x="1277.3" y="1073.6" width="23.1" height="18.1" fill="#984EA3"/><rect x="1277.3" y="934.1" width="23.1" height="139.5" fill="#E41A1C"/><rect x="1277.3" y="920.1" width="23.1" height="14" fill="#4DAF4A"/><rect x="1277.3" y="916.4" width="23.1" height="3.7" fill="#377EB8"/><rect x="1277.3" y="916.4" width="23.1" height="175.3" fill="none" stroke="#000" stroke-width="1.6"/><line x1="1277.3" x2="1300.4" y1="920.1" y2="920.1" stroke="#000" stroke-width="1.44"/><line x1="1277.3" x2="1300.4" y1="934.1" y2="934.1" stroke="#000" stroke-width="1.44"/><line x1="1277.3" x2="1300.4" y1="1073.6" y2="1073.6" stroke="#000" stroke-width="1.44"/><rect x="1306" y="1076.7" width="23.1" height="15" fill="#984EA3"/><rect x="1306" y="941.7" width="23.1" height="135" fill="#E41A1C"/><rect x="1306" y="924.6" width="23.1" height="17.1" fill="#4DAF4A"/><rect x="1306" y="922.1" width="23.1" height="2.5" fill="#377EB8"/><rect x="1306" y="922.1" width="23.1" height="169.6" fill="none" stroke="#000" stroke-width="1.6"/><line x1="1306" x2="1329.1" y1="924.6" y2="924.6" stroke="#000" stroke-width="1.44"/><line x1="1306" x2="1329.1" y1="941.7" y2="941.7" stroke="#000" stroke-width="1.44"/><line x1="1306" x2="1329.1" y1="1076.7" y2="1076.7" stroke="#000" stroke-width="1.44"/><rect x="1334.8" y="1075" width="23.1" height="16.7" fill="#984EA3"/><rect x="1334.8" y="921.7" width="23.1" height="153.3" fill="#E41A1C"/><rect x="1334.8" y="908.7" width="23.1" height="13" fill="#4DAF4A"/><rect x="1334.8" y="906.3" width="23.1" height="2.4" fill="#377EB8"/><rect x="1334.8" y="906.3" width="23.1" height="185.4" fill="none" stroke="#000" stroke-width="1.6"/><line x1="1334.8" x2="1357.8" y1="908.7" y2="908.7" stroke="#000" stroke-width="1.44"/><line x1="1334.8" x2="1357.8" y1="921.7" y2="921.7" stroke="#000" stroke-width="1.44"/><line x1="1334.8" x2="1357.8" y1="1075" y2="1075" stroke="#000" stroke-width="1.44"/><rect x="1363.5" y="1078.3" width="23.1" height="13.4" fill="#984EA3"/><rect x="1363.5" y="932.4" width="23.1" height="145.9" fill="#E41A1C"/><rect x="1363.5" y="919" width="23.1" height="13.4" fill="#4DAF4A"/><rect x="1363.5" y="915.9" width="23.1" height="3.1" fill="#377EB8"/><rect x="1363.5" y="915.9" width="23.1" height="175.8" fill="none" stroke="#000" stroke-width="1.6"/><line x1="1363.5" x2="1386.6" y1="919" y2="919" stroke="#000" stroke-width="1.44"/><line x1="1363.5" x2="1386.6" y1="932.4" y2="932.4" stroke="#000" stroke-width="1.44"/><line x1="1363.5" x2="1386.6" y1="1078.3" y2="1078.3" stroke="#000" stroke-width="1.44"/><rect x="1392.2" y="1082.8" width="23.1" height="8.9" fill="#984EA3"/><rect x="1392.2" y="998.4" width="23.1" height="84.4" fill="#E41A1C"/><rect x="1392.2" y="991.8" width="23.1" height="6.6" fill="#4DAF4A"/><rect x="1392.2" y="989.5" width="23.1" height="2.3" fill="#377EB8"/><rect x="1392.2" y="989.5" width="23.1" height="102.2" fill="none" stroke="#000" stroke-width="1.6"/><line x1="1392.2" x2="1415.3" y1="991.8" y2="991.8" stroke="#000" stroke-width="1.44"/><line x1="1392.2" x2="1415.3" y1="998.4" y2="998.4" stroke="#000" stroke-width="1.44"/><line x1="1392.2" x2="1415.3" y1="1082.8" y2="1082.8" stroke="#000" stroke-width="1.44"/><rect x="1420.9" y="1078.3" width="23.1" height="13.4" fill="#984EA3"/><rect x="1420.9" y="943.1" width="23.1" height="135.2" fill="#E41A1C"/><rect x="1420.9" y="928.9" width="23.1" height="14.2" fill="#4DAF4A"/><rect x="1420.9" y="925.2" width="23.1" height="3.7" fill="#377EB8"/><rect x="1420.9" y="925.2" width="23.1" height="166.5" fill="none" stroke="#000" stroke-width="1.6"/><line x1="1420.9" x2="1444" y1="928.9" y2="928.9" stroke="#000" stroke-width="1.44"/><line x1="1420.9" x2="1444" y1="943.1" y2="943.1" stroke="#000" stroke-width="1.44"/><line x1="1420.9" x2="1444" y1="1078.3" y2="1078.3" stroke="#000" stroke-width="1.44"/><rect x="131.1" y="1363.7" width="23.1" height="59.8" fill="#984EA3"/><rect x="131.1" y="1198.2" width="23.1" height="165.5" fill="#E41A1C"/><rect x="131.1" y="1184.4" width="23.1" height="13.8" fill="#4DAF4A"/><rect x="131.1" y="1179.3" width="23.1" height="5.1" fill="#377EB8"/><rect x="131.1" y="1179.3" width="23.1" height="244.2" fill="none" stroke="#000" stroke-width="1.6"/><line x1="131.1" x2="154.2" y1="1184.4" y2="1184.4" stroke="#000" stroke-width="1.44"/><line x1="131.1" x2="154.2" y1="1198.2" y2="1198.2" stroke="#000" stroke-width="1.44"/><line x1="131.1" x2="154.2" y1="1363.7" y2="1363.7" stroke="#000" stroke-width="1.44"/><rect x="159.8" y="1407" width="23.1" height="16.5" fill="#984EA3"/><rect x="159.8" y="1214.3" width="23.1" height="192.7" fill="#E41A1C"/><rect x="159.8" y="1184.4" width="23.1" height="29.9" fill="#4DAF4A"/><rect x="159.8" y="1179.3" width="23.1" height="5.1" fill="#377EB8"/><rect x="159.8" y="1179.3" width="23.1" height="244.2" fill="none" stroke="#000" stroke-width="1.6"/><line x1="159.8" x2="182.9" y1="1184.4" y2="1184.4" stroke="#000" stroke-width="1.44"/><line x1="159.8" x2="182.9" y1="1214.3" y2="1214.3" stroke="#000" stroke-width="1.44"/><line x1="159.8" x2="182.9" y1="1407" y2="1407" stroke="#000" stroke-width="1.44"/><rect x="188.6" y="1403.5" width="23.1" height="20" fill="#984EA3"/><rect x="188.6" y="1210.2" width="23.1" height="193.3" fill="#E41A1C"/><rect x="188.6" y="1184.4" width="23.1" height="25.8" fill="#4DAF4A"/><rect x="188.6" y="1179.3" width="23.1" height="5.1" fill="#377EB8"/><rect x="188.6" y="1179.3" width="23.1" height="244.2" fill="none" stroke="#000" stroke-width="1.6"/><line x1="188.6" x2="211.7" y1="1184.4" y2="1184.4" stroke="#000" stroke-width="1.44"/><line x1="188.6" x2="211.7" y1="1210.2" y2="1210.2" stroke="#000" stroke-width="1.44"/><line x1="188.6" x2="211.7" y1="1403.5" y2="1403.5" stroke="#000" stroke-width="1.44"/><rect x="217.3" y="1396.7" width="23.1" height="26.8" fill="#984EA3"/><rect x="217.3" y="1204.6" width="23.1" height="192.1" fill="#E41A1C"/><rect x="217.3" y="1183.4" width="23.1" height="21.2" fill="#4DAF4A"/><rect x="217.3" y="1179.3" width="23.1" height="4.1" fill="#377EB8"/><rect x="217.3" y="1179.3" width="23.1" height="244.2" fill="none" stroke="#000" stroke-width="1.6"/><line x1="217.3" x2="240.4" y1="1183.4" y2="1183.4" stroke="#000" stroke-width="1.44"/><line x1="217.3" x2="240.4" y1="1204.6" y2="1204.6" stroke="#000" stroke-width="1.44"/><line x1="217.3" x2="240.4" y1="1396.7" y2="1396.7" stroke="#000" stroke-width="1.44"/><rect x="246" y="1399.1" width="23.1" height="24.4" fill="#984EA3"/><rect x="246" y="1211.2" width="23.1" height="187.9" fill="#E41A1C"/><rect x="246" y="1184.8" width="23.1" height="26.4" fill="#4DAF4A"/><rect x="246" y="1179.3" width="23.1" height="5.5" fill="#377EB8"/><rect x="246" y="1179.3" width="23.1" height="244.2" fill="none" stroke="#000" stroke-width="1.6"/><line x1="246" x2="269.1" y1="1184.8" y2="1184.8" stroke="#000" stroke-width="1.44"/><line x1="246" x2="269.1" y1="1211.2" y2="1211.2" stroke="#000" stroke-width="1.44"/><line x1="246" x2="269.1" y1="1399.1" y2="1399.1" stroke="#000" stroke-width="1.44"/><rect x="274.8" y="1401.2" width="23.1" height="22.3" fill="#984EA3"/><rect x="274.8" y="1208.5" width="23.1" height="192.7" fill="#E41A1C"/><rect x="274.8" y="1182.4" width="23.1" height="26.1" fill="#4DAF4A"/><rect x="274.8" y="1179.3" width="23.1" height="3.1" fill="#377EB8"/><rect x="274.8" y="1179.3" width="23.1" height="244.2" fill="none" stroke="#000" stroke-width="1.6"/><line x1="274.8" x2="297.9" y1="1182.4" y2="1182.4" stroke="#000" stroke-width="1.44"/><line x1="274.8" x2="297.9" y1="1208.5" y2="1208.5" stroke="#000" stroke-width="1.44"/><line x1="274.8" x2="297.9" y1="1401.2" y2="1401.2" stroke="#000" stroke-width="1.44"/><rect x="303.5" y="1398.1" width="23.1" height="25.4" fill="#984EA3"/><rect x="303.5" y="1200.9" width="23.1" height="197.2" fill="#E41A1C"/><rect x="303.5" y="1183" width="23.1" height="17.9" fill="#4DAF4A"/><rect x="303.5" y="1179.3" width="23.1" height="3.7" fill="#377EB8"/><rect x="303.5" y="1179.3" width="23.1" height="244.2" fill="none" stroke="#000" stroke-width="1.6"/><line x1="303.5" x2="326.6" y1="1183" y2="1183" stroke="#000" stroke-width="1.44"/><line x1="303.5" x2="326.6" y1="1200.9" y2="1200.9" stroke="#000" stroke-width="1.44"/><line x1="303.5" x2="326.6" y1="1398.1" y2="1398.1" stroke="#000" stroke-width="1.44"/><rect x="332.2" y="1398.7" width="23.1" height="24.8" fill="#984EA3"/><rect x="332.2" y="1210.8" width="23.1" height="187.9" fill="#E41A1C"/><rect x="332.2" y="1182.4" width="23.1" height="28.4" fill="#4DAF4A"/><rect x="332.2" y="1179.3" width="23.1" height="3.1" fill="#377EB8"/><rect x="332.2" y="1179.3" width="23.1" height="244.2" fill="none" stroke="#000" stroke-width="1.6"/><line x1="332.2" x2="355.3" y1="1182.4" y2="1182.4" stroke="#000" stroke-width="1.44"/><line x1="332.2" x2="355.3" y1="1210.8" y2="1210.8" stroke="#000" stroke-width="1.44"/><line x1="332.2" x2="355.3" y1="1398.7" y2="1398.7" stroke="#000" stroke-width="1.44"/><rect x="360.9" y="1396.7" width="23.1" height="26.8" fill="#984EA3"/><rect x="360.9" y="1207.7" width="23.1" height="189" fill="#E41A1C"/><rect x="360.9" y="1182" width="23.1" height="25.7" fill="#4DAF4A"/><rect x="360.9" y="1179.3" width="23.1" height="2.7" fill="#377EB8"/><rect x="360.9" y="1179.3" width="23.1" height="244.2" fill="none" stroke="#000" stroke-width="1.6"/><line x1="360.9" x2="384" y1="1182" y2="1182" stroke="#000" stroke-width="1.44"/><line x1="360.9" x2="384" y1="1207.7" y2="1207.7" stroke="#000" stroke-width="1.44"/><line x1="360.9" x2="384" y1="1396.7" y2="1396.7" stroke="#000" stroke-width="1.44"/><rect x="389.7" y="1400.2" width="23.1" height="23.3" fill="#984EA3"/><rect x="389.7" y="1210.2" width="23.1" height="190" fill="#E41A1C"/><rect x="389.7" y="1184.4" width="23.1" height="25.8" fill="#4DAF4A"/><rect x="389.7" y="1179.3" width="23.1" height="5.1" fill="#377EB8"/><rect x="389.7" y="1179.3" width="23.1" height="244.2" fill="none" stroke="#000" stroke-width="1.6"/><line x1="389.7" x2="412.8" y1="1184.4" y2="1184.4" stroke="#000" stroke-width="1.44"/><line x1="389.7" x2="412.8" y1="1210.2" y2="1210.2" stroke="#000" stroke-width="1.44"/><line x1="389.7" x2="412.8" y1="1400.2" y2="1400.2" stroke="#000" stroke-width="1.44"/><rect x="418.4" y="1391.1" width="23.1" height="32.4" fill="#984EA3"/><rect x="418.4" y="1199.5" width="23.1" height="191.6" fill="#E41A1C"/><rect x="418.4" y="1182.8" width="23.1" height="16.7" fill="#4DAF4A"/><rect x="418.4" y="1179.3" width="23.1" height="3.5" fill="#377EB8"/><rect x="418.4" y="1179.3" width="23.1" height="244.2" fill="none" stroke="#000" stroke-width="1.6"/><line x1="418.4" x2="441.5" y1="1182.8" y2="1182.8" stroke="#000" stroke-width="1.44"/><line x1="418.4" x2="441.5" y1="1199.5" y2="1199.5" stroke="#000" stroke-width="1.44"/><line x1="418.4" x2="441.5" y1="1391.1" y2="1391.1" stroke="#000" stroke-width="1.44"/><rect x="447.1" y="1402.8" width="23.1" height="20.7" fill="#984EA3"/><rect x="447.1" y="1210.6" width="23.1" height="192.2" fill="#E41A1C"/><rect x="447.1" y="1186.5" width="23.1" height="24.1" fill="#4DAF4A"/><rect x="447.1" y="1179.3" width="23.1" height="7.2" fill="#377EB8"/><rect x="447.1" y="1179.3" width="23.1" height="244.2" fill="none" stroke="#000" stroke-width="1.6"/><line x1="447.1" x2="470.2" y1="1186.5" y2="1186.5" stroke="#000" stroke-width="1.44"/><line x1="447.1" x2="470.2" y1="1210.6" y2="1210.6" stroke="#000" stroke-width="1.44"/><line x1="447.1" x2="470.2" y1="1402.8" y2="1402.8" stroke="#000" stroke-width="1.44"/><rect x="475.9" y="1400.8" width="23.1" height="22.7" fill="#984EA3"/><rect x="475.9" y="1200.3" width="23.1" height="200.5" fill="#E41A1C"/><rect x="475.9" y="1182" width="23.1" height="18.3" fill="#4DAF4A"/><rect x="475.9" y="1179.3" width="23.1" height="2.7" fill="#377EB8"/><rect x="475.9" y="1179.3" width="23.1" height="244.2" fill="none" stroke="#000" stroke-width="1.6"/><line x1="475.9" x2="499" y1="1182" y2="1182" stroke="#000" stroke-width="1.44"/><line x1="475.9" x2="499" y1="1200.3" y2="1200.3" stroke="#000" stroke-width="1.44"/><line x1="475.9" x2="499" y1="1400.8" y2="1400.8" stroke="#000" stroke-width="1.44"/><rect x="504.6" y="1403.5" width="23.1" height="20" fill="#984EA3"/><rect x="504.6" y="1215.3" width="23.1" height="188.2" fill="#E41A1C"/><rect x="504.6" y="1184.8" width="23.1" height="30.5" fill="#4DAF4A"/><rect x="504.6" y="1179.3" width="23.1" height="5.5" fill="#377EB8"/><rect x="504.6" y="1179.3" width="23.1" height="244.2" fill="none" stroke="#000" stroke-width="1.6"/><line x1="504.6" x2="527.7" y1="1184.8" y2="1184.8" stroke="#000" stroke-width="1.44"/><line x1="504.6" x2="527.7" y1="1215.3" y2="1215.3" stroke="#000" stroke-width="1.44"/><line x1="504.6" x2="527.7" y1="1403.5" y2="1403.5" stroke="#000" stroke-width="1.44"/><rect x="533.3" y="1401.8" width="23.1" height="21.7" fill="#984EA3"/><rect x="533.3" y="1208.5" width="23.1" height="193.3" fill="#E41A1C"/><rect x="533.3" y="1187.9" width="23.1" height="20.6" fill="#4DAF4A"/><rect x="533.3" y="1179.3" width="23.1" height="8.6" fill="#377EB8"/><rect x="533.3" y="1179.3" width="23.1" height="244.2" fill="none" stroke="#000" stroke-width="1.6"/><line x1="533.3" x2="556.4" y1="1187.9" y2="1187.9" stroke="#000" stroke-width="1.44"/><line x1="533.3" x2="556.4" y1="1208.5" y2="1208.5" stroke="#000" stroke-width="1.44"/><line x1="533.3" x2="556.4" y1="1401.8" y2="1401.8" stroke="#000" stroke-width="1.44"/><rect x="562" y="1396.7" width="23.1" height="26.8" fill="#984EA3"/><rect x="562" y="1208.5" width="23.1" height="188.2" fill="#E41A1C"/><rect x="562" y="1186.1" width="23.1" height="22.4" fill="#4DAF4A"/><rect x="562" y="1179.3" width="23.1" height="6.8" fill="#377EB8"/><rect x="562" y="1179.3" width="23.1" height="244.2" fill="none" stroke="#000" stroke-width="1.6"/><line x1="562" x2="585.1" y1="1186.1" y2="1186.1" stroke="#000" stroke-width="1.44"/><line x1="562" x2="585.1" y1="1208.5" y2="1208.5" stroke="#000" stroke-width="1.44"/><line x1="562" x2="585.1" y1="1396.7" y2="1396.7" stroke="#000" stroke-width="1.44"/><rect x="590.8" y="1395.6" width="23.1" height="27.9" fill="#984EA3"/><rect x="590.8" y="1206.1" width="23.1" height="189.5" fill="#E41A1C"/><rect x="590.8" y="1184.8" width="23.1" height="21.3" fill="#4DAF4A"/><rect x="590.8" y="1179.3" width="23.1" height="5.5" fill="#377EB8"/><rect x="590.8" y="1179.3" width="23.1" height="244.2" fill="none" stroke="#000" stroke-width="1.6"/><line x1="590.8" x2="613.9" y1="1184.8" y2="1184.8" stroke="#000" stroke-width="1.44"/><line x1="590.8" x2="613.9" y1="1206.1" y2="1206.1" stroke="#000" stroke-width="1.44"/><line x1="590.8" x2="613.9" y1="1395.6" y2="1395.6" stroke="#000" stroke-width="1.44"/><rect x="619.5" y="1401.4" width="23.1" height="22.1" fill="#984EA3"/><rect x="619.5" y="1207.7" width="23.1" height="193.7" fill="#E41A1C"/><rect x="619.5" y="1187.5" width="23.1" height="20.2" fill="#4DAF4A"/><rect x="619.5" y="1179.3" width="23.1" height="8.2" fill="#377EB8"/><rect x="619.5" y="1179.3" width="23.1" height="244.2" fill="none" stroke="#000" stroke-width="1.6"/><line x1="619.5" x2="642.6" y1="1187.5" y2="1187.5" stroke="#000" stroke-width="1.44"/><line x1="619.5" x2="642.6" y1="1207.7" y2="1207.7" stroke="#000" stroke-width="1.44"/><line x1="619.5" x2="642.6" y1="1401.4" y2="1401.4" stroke="#000" stroke-width="1.44"/><rect x="648.2" y="1392.5" width="23.1" height="31" fill="#984EA3"/><rect x="648.2" y="1205.4" width="23.1" height="187.1" fill="#E41A1C"/><rect x="648.2" y="1182.8" width="23.1" height="22.6" fill="#4DAF4A"/><rect x="648.2" y="1179.3" width="23.1" height="3.5" fill="#377EB8"/><rect x="648.2" y="1179.3" width="23.1" height="244.2" fill="none" stroke="#000" stroke-width="1.6"/><line x1="648.2" x2="671.3" y1="1182.8" y2="1182.8" stroke="#000" stroke-width="1.44"/><line x1="648.2" x2="671.3" y1="1205.4" y2="1205.4" stroke="#000" stroke-width="1.44"/><line x1="648.2" x2="671.3" y1="1392.5" y2="1392.5" stroke="#000" stroke-width="1.44"/><rect x="903.8" y="1373" width="23.1" height="50.5" fill="#984EA3"/><rect x="903.8" y="1199.3" width="23.1" height="173.7" fill="#E41A1C"/><rect x="903.8" y="1190.2" width="23.1" height="9.1" fill="#4DAF4A"/><rect x="903.8" y="1179.3" width="23.1" height="10.9" fill="#377EB8"/><rect x="903.8" y="1179.3" width="23.1" height="244.2" fill="none" stroke="#000" stroke-width="1.6"/><line x1="903.8" x2="926.9" y1="1190.2" y2="1190.2" stroke="#000" stroke-width="1.44"/><line x1="903.8" x2="926.9" y1="1199.3" y2="1199.3" stroke="#000" stroke-width="1.44"/><line x1="903.8" x2="926.9" y1="1373" y2="1373" stroke="#000" stroke-width="1.44"/><rect x="932.5" y="1404.9" width="23.1" height="18.6" fill="#984EA3"/><rect x="932.5" y="1207.1" width="23.1" height="197.8" fill="#E41A1C"/><rect x="932.5" y="1183.4" width="23.1" height="23.7" fill="#4DAF4A"/><rect x="932.5" y="1179.3" width="23.1" height="4.1" fill="#377EB8"/><rect x="932.5" y="1179.3" width="23.1" height="244.2" fill="none" stroke="#000" stroke-width="1.6"/><line x1="932.5" x2="955.6" y1="1183.4" y2="1183.4" stroke="#000" stroke-width="1.44"/><line x1="932.5" x2="955.6" y1="1207.1" y2="1207.1" stroke="#000" stroke-width="1.44"/><line x1="932.5" x2="955.6" y1="1404.9" y2="1404.9" stroke="#000" stroke-width="1.44"/><rect x="961.3" y="1404.9" width="23.1" height="18.6" fill="#984EA3"/><rect x="961.3" y="1205.6" width="23.1" height="199.3" fill="#E41A1C"/><rect x="961.3" y="1185" width="23.1" height="20.6" fill="#4DAF4A"/><rect x="961.3" y="1179.3" width="23.1" height="5.7" fill="#377EB8"/><rect x="961.3" y="1179.3" width="23.1" height="244.2" fill="none" stroke="#000" stroke-width="1.6"/><line x1="961.3" x2="984.4" y1="1185" y2="1185" stroke="#000" stroke-width="1.44"/><line x1="961.3" x2="984.4" y1="1205.6" y2="1205.6" stroke="#000" stroke-width="1.44"/><line x1="961.3" x2="984.4" y1="1404.9" y2="1404.9" stroke="#000" stroke-width="1.44"/><rect x="990" y="1403.9" width="23.1" height="19.6" fill="#984EA3"/><rect x="990" y="1207.5" width="23.1" height="196.4" fill="#E41A1C"/><rect x="990" y="1183.4" width="23.1" height="24.1" fill="#4DAF4A"/><rect x="990" y="1179.3" width="23.1" height="4.1" fill="#377EB8"/><rect x="990" y="1179.3" width="23.1" height="244.2" fill="none" stroke="#000" stroke-width="1.6"/><line x1="990" x2="1013.1" y1="1183.4" y2="1183.4" stroke="#000" stroke-width="1.44"/><line x1="990" x2="1013.1" y1="1207.5" y2="1207.5" stroke="#000" stroke-width="1.44"/><line x1="990" x2="1013.1" y1="1403.9" y2="1403.9" stroke="#000" stroke-width="1.44"/><rect x="1018.7" y="1403.5" width="23.1" height="20" fill="#984EA3"/><rect x="1018.7" y="1203.4" width="23.1" height="200.1" fill="#E41A1C"/><rect x="1018.7" y="1184.8" width="23.1" height="18.6" fill="#4DAF4A"/><rect x="1018.7" y="1179.3" width="23.1" height="5.5" fill="#377EB8"/><rect x="1018.7" y="1179.3" width="23.1" height="244.2" fill="none" stroke="#000" stroke-width="1.6"/><line x1="1018.7" x2="1041.8" y1="1184.8" y2="1184.8" stroke="#000" stroke-width="1.44"/><line x1="1018.7" x2="1041.8" y1="1203.4" y2="1203.4" stroke="#000" stroke-width="1.44"/><line x1="1018.7" x2="1041.8" y1="1403.5" y2="1403.5" stroke="#000" stroke-width="1.44"/><rect x="1047.5" y="1403.9" width="23.1" height="19.6" fill="#984EA3"/><rect x="1047.5" y="1206.7" width="23.1" height="197.2" fill="#E41A1C"/><rect x="1047.5" y="1183.4" width="23.1" height="23.3" fill="#4DAF4A"/><rect x="1047.5" y="1179.3" width="23.1" height="4.1" fill="#377EB8"/><rect x="1047.5" y="1179.3" width="23.1" height="244.2" fill="none" stroke="#000" stroke-width="1.6"/><line x1="1047.5" x2="1070.5" y1="1183.4" y2="1183.4" stroke="#000" stroke-width="1.44"/><line x1="1047.5" x2="1070.5" y1="1206.7" y2="1206.7" stroke="#000" stroke-width="1.44"/><line x1="1047.5" x2="1070.5" y1="1403.9" y2="1403.9" stroke="#000" stroke-width="1.44"/><rect x="1076.2" y="1407.4" width="23.1" height="16.1" fill="#984EA3"/><rect x="1076.2" y="1207.1" width="23.1" height="200.3" fill="#E41A1C"/><rect x="1076.2" y="1185.9" width="23.1" height="21.2" fill="#4DAF4A"/><rect x="1076.2" y="1179.3" width="23.1" height="6.6" fill="#377EB8"/><rect x="1076.2" y="1179.3" width="23.1" height="244.2" fill="none" stroke="#000" stroke-width="1.6"/><line x1="1076.2" x2="1099.3" y1="1185.9" y2="1185.9" stroke="#000" stroke-width="1.44"/><line x1="1076.2" x2="1099.3" y1="1207.1" y2="1207.1" stroke="#000" stroke-width="1.44"/><line x1="1076.2" x2="1099.3" y1="1407.4" y2="1407.4" stroke="#000" stroke-width="1.44"/><rect x="1104.9" y="1401.2" width="23.1" height="22.3" fill="#984EA3"/><rect x="1104.9" y="1205" width="23.1" height="196.2" fill="#E41A1C"/><rect x="1104.9" y="1184" width="23.1" height="21" fill="#4DAF4A"/><rect x="1104.9" y="1179.3" width="23.1" height="4.7" fill="#377EB8"/><rect x="1104.9" y="1179.3" width="23.1" height="244.2" fill="none" stroke="#000" stroke-width="1.6"/><line x1="1104.9" x2="1128" y1="1184" y2="1184" stroke="#000" stroke-width="1.44"/><line x1="1104.9" x2="1128" y1="1205" y2="1205" stroke="#000" stroke-width="1.44"/><line x1="1104.9" x2="1128" y1="1401.2" y2="1401.2" stroke="#000" stroke-width="1.44"/><rect x="1133.6" y="1406.4" width="23.1" height="17.1" fill="#984EA3"/><rect x="1133.6" y="1204" width="23.1" height="202.4" fill="#E41A1C"/><rect x="1133.6" y="1184" width="23.1" height="20" fill="#4DAF4A"/><rect x="1133.6" y="1179.3" width="23.1" height="4.7" fill="#377EB8"/><rect x="1133.6" y="1179.3" width="23.1" height="244.2" fill="none" stroke="#000" stroke-width="1.6"/><line x1="1133.6" x2="1156.7" y1="1184" y2="1184" stroke="#000" stroke-width="1.44"/><line x1="1133.6" x2="1156.7" y1="1204" y2="1204" stroke="#000" stroke-width="1.44"/><line x1="1133.6" x2="1156.7" y1="1406.4" y2="1406.4" stroke="#000" stroke-width="1.44"/><rect x="1162.4" y="1407.4" width="23.1" height="16.1" fill="#984EA3"/><rect x="1162.4" y="1208.5" width="23.1" height="198.9" fill="#E41A1C"/><rect x="1162.4" y="1183.4" width="23.1" height="25.1" fill="#4DAF4A"/><rect x="1162.4" y="1179.3" width="23.1" height="4.1" fill="#377EB8"/><rect x="1162.4" y="1179.3" width="23.1" height="244.2" fill="none" stroke="#000" stroke-width="1.6"/><line x1="1162.4" x2="1185.5" y1="1183.4" y2="1183.4" stroke="#000" stroke-width="1.44"/><line x1="1162.4" x2="1185.5" y1="1208.5" y2="1208.5" stroke="#000" stroke-width="1.44"/><line x1="1162.4" x2="1185.5" y1="1407.4" y2="1407.4" stroke="#000" stroke-width="1.44"/><rect x="1191.1" y="1399.1" width="23.1" height="24.4" fill="#984EA3"/><rect x="1191.1" y="1210.2" width="23.1" height="188.9" fill="#E41A1C"/><rect x="1191.1" y="1183.4" width="23.1" height="26.8" fill="#4DAF4A"/><rect x="1191.1" y="1179.3" width="23.1" height="4.1" fill="#377EB8"/><rect x="1191.1" y="1179.3" width="23.1" height="244.2" fill="none" stroke="#000" stroke-width="1.6"/><line x1="1191.1" x2="1214.2" y1="1183.4" y2="1183.4" stroke="#000" stroke-width="1.44"/><line x1="1191.1" x2="1214.2" y1="1210.2" y2="1210.2" stroke="#000" stroke-width="1.44"/><line x1="1191.1" x2="1214.2" y1="1399.1" y2="1399.1" stroke="#000" stroke-width="1.44"/><rect x="1219.8" y="1406.6" width="23.1" height="16.9" fill="#984EA3"/><rect x="1219.8" y="1206.7" width="23.1" height="199.9" fill="#E41A1C"/><rect x="1219.8" y="1186.1" width="23.1" height="20.6" fill="#4DAF4A"/><rect x="1219.8" y="1179.3" width="23.1" height="6.8" fill="#377EB8"/><rect x="1219.8" y="1179.3" width="23.1" height="244.2" fill="none" stroke="#000" stroke-width="1.6"/><line x1="1219.8" x2="1242.9" y1="1186.1" y2="1186.1" stroke="#000" stroke-width="1.44"/><line x1="1219.8" x2="1242.9" y1="1206.7" y2="1206.7" stroke="#000" stroke-width="1.44"/><line x1="1219.8" x2="1242.9" y1="1406.6" y2="1406.6" stroke="#000" stroke-width="1.44"/><rect x="1248.6" y="1402.8" width="23.1" height="20.7" fill="#984EA3"/><rect x="1248.6" y="1208.5" width="23.1" height="194.3" fill="#E41A1C"/><rect x="1248.6" y="1184" width="23.1" height="24.5" fill="#4DAF4A"/><rect x="1248.6" y="1179.3" width="23.1" height="4.7" fill="#377EB8"/><rect x="1248.6" y="1179.3" width="23.1" height="244.2" fill="none" stroke="#000" stroke-width="1.6"/><line x1="1248.6" x2="1271.7" y1="1184" y2="1184" stroke="#000" stroke-width="1.44"/><line x1="1248.6" x2="1271.7" y1="1208.5" y2="1208.5" stroke="#000" stroke-width="1.44"/><line x1="1248.6" x2="1271.7" y1="1402.8" y2="1402.8" stroke="#000" stroke-width="1.44"/><rect x="1277.3" y="1398.7" width="23.1" height="24.8" fill="#984EA3"/><rect x="1277.3" y="1204.4" width="23.1" height="194.3" fill="#E41A1C"/><rect x="1277.3" y="1184.8" width="23.1" height="19.6" fill="#4DAF4A"/><rect x="1277.3" y="1179.3" width="23.1" height="5.5" fill="#377EB8"/><rect x="1277.3" y="1179.3" width="23.1" height="244.2" fill="none" stroke="#000" stroke-width="1.6"/><line x1="1277.3" x2="1300.4" y1="1184.8" y2="1184.8" stroke="#000" stroke-width="1.44"/><line x1="1277.3" x2="1300.4" y1="1204.4" y2="1204.4" stroke="#000" stroke-width="1.44"/><line x1="1277.3" x2="1300.4" y1="1398.7" y2="1398.7" stroke="#000" stroke-width="1.44"/><rect x="1306" y="1401.4" width="23.1" height="22.1" fill="#984EA3"/><rect x="1306" y="1208.5" width="23.1" height="192.9" fill="#E41A1C"/><rect x="1306" y="1183.4" width="23.1" height="25.1" fill="#4DAF4A"/><rect x="1306" y="1179.3" width="23.1" height="4.1" fill="#377EB8"/><rect x="1306" y="1179.3" width="23.1" height="244.2" fill="none" stroke="#000" stroke-width="1.6"/><line x1="1306" x2="1329.1" y1="1183.4" y2="1183.4" stroke="#000" stroke-width="1.44"/><line x1="1306" x2="1329.1" y1="1208.5" y2="1208.5" stroke="#000" stroke-width="1.44"/><line x1="1306" x2="1329.1" y1="1401.4" y2="1401.4" stroke="#000" stroke-width="1.44"/><rect x="1334.8" y="1401.4" width="23.1" height="22.1" fill="#984EA3"/><rect x="1334.8" y="1199.9" width="23.1" height="201.5" fill="#E41A1C"/><rect x="1334.8" y="1182.4" width="23.1" height="17.5" fill="#4DAF4A"/><rect x="1334.8" y="1179.3" width="23.1" height="3.1" fill="#377EB8"/><rect x="1334.8" y="1179.3" width="23.1" height="244.2" fill="none" stroke="#000" stroke-width="1.6"/><line x1="1334.8" x2="1357.8" y1="1182.4" y2="1182.4" stroke="#000" stroke-width="1.44"/><line x1="1334.8" x2="1357.8" y1="1199.9" y2="1199.9" stroke="#000" stroke-width="1.44"/><line x1="1334.8" x2="1357.8" y1="1401.4" y2="1401.4" stroke="#000" stroke-width="1.44"/><rect x="1363.5" y="1404.5" width="23.1" height="19" fill="#984EA3"/><rect x="1363.5" y="1202.6" width="23.1" height="201.9" fill="#E41A1C"/><rect x="1363.5" y="1183.4" width="23.1" height="19.2" fill="#4DAF4A"/><rect x="1363.5" y="1179.3" width="23.1" height="4.1" fill="#377EB8"/><rect x="1363.5" y="1179.3" width="23.1" height="244.2" fill="none" stroke="#000" stroke-width="1.6"/><line x1="1363.5" x2="1386.6" y1="1183.4" y2="1183.4" stroke="#000" stroke-width="1.44"/><line x1="1363.5" x2="1386.6" y1="1202.6" y2="1202.6" stroke="#000" stroke-width="1.44"/><line x1="1363.5" x2="1386.6" y1="1404.5" y2="1404.5" stroke="#000" stroke-width="1.44"/><rect x="1392.2" y="1401.4" width="23.1" height="22.1" fill="#984EA3"/><rect x="1392.2" y="1201.5" width="23.1" height="199.9" fill="#E41A1C"/><rect x="1392.2" y="1182.4" width="23.1" height="19.1" fill="#4DAF4A"/><rect x="1392.2" y="1179.3" width="23.1" height="3.1" fill="#377EB8"/><rect x="1392.2" y="1179.3" width="23.1" height="244.2" fill="none" stroke="#000" stroke-width="1.6"/><line x1="1392.2" x2="1415.3" y1="1182.4" y2="1182.4" stroke="#000" stroke-width="1.44"/><line x1="1392.2" x2="1415.3" y1="1201.5" y2="1201.5" stroke="#000" stroke-width="1.44"/><line x1="1392.2" x2="1415.3" y1="1401.4" y2="1401.4" stroke="#000" stroke-width="1.44"/><rect x="1420.9" y="1403.9" width="23.1" height="19.6" fill="#984EA3"/><rect x="1420.9" y="1206.1" width="23.1" height="197.8" fill="#E41A1C"/><rect x="1420.9" y="1185.5" width="23.1" height="20.6" fill="#4DAF4A"/><rect x="1420.9" y="1179.3" width="23.1" height="6.2" fill="#377EB8"/><rect x="1420.9" y="1179.3" width="23.1" height="244.2" fill="none" stroke="#000" stroke-width="1.6"/><line x1="1420.9" x2="1444" y1="1185.5" y2="1185.5" stroke="#000" stroke-width="1.44"/><line x1="1420.9" x2="1444" y1="1206.1" y2="1206.1" stroke="#000" stroke-width="1.44"/><line x1="1420.9" x2="1444" y1="1403.9" y2="1403.9" stroke="#000" stroke-width="1.44"/><defs><clipPath id="cp1"><rect x="184" y="1555.6" width="536.3" height="502.4"/></clipPath><clipPath id="cp2"><rect x="822" y="1556" width="535.5" height="501.2"/></clipPath><clipPath id="cp3"><rect x="183.8" y="2130.8" width="536.4" height="502.7"/></clipPath><clipPath id="cp4"><rect x="821.7" y="2130.8" width="535.9" height="502.7"/></clipPath></defs><text x="93" y="1542.5" font-size="40" font-weight="bold">c</text><rect x="183" y="1554.6" width="538.3" height="504.4" fill="none" stroke="#000" stroke-width="2"/><line x1="167" x2="183" y1="2058.9" y2="2058.9" stroke="#000" stroke-width="2"/><text transform="translate(154.7,2058.9) rotate(-90)" font-size="26" text-anchor="middle">0</text><line x1="167" x2="183" y1="1954.6" y2="1954.6" stroke="#000" stroke-width="2"/><text transform="translate(154.7,1954.6) rotate(-90)" font-size="26" text-anchor="middle">2000</text><line x1="167" x2="183" y1="1850.3" y2="1850.3" stroke="#000" stroke-width="2"/><text transform="translate(154.7,1850.3) rotate(-90)" font-size="26" text-anchor="middle">4000</text><line x1="167" x2="183" y1="1746" y2="1746" stroke="#000" stroke-width="2"/><text transform="translate(154.7,1746) rotate(-90)" font-size="26" text-anchor="middle">6000</text><line x1="167" x2="183" y1="1641.7" y2="1641.7" stroke="#000" stroke-width="2"/><text transform="translate(154.7,1641.7) rotate(-90)" font-size="26" text-anchor="middle">8000</text><line x1="296.4" x2="296.4" y1="2059" y2="2075" stroke="#000" stroke-width="2"/><line x1="452.1" x2="452.1" y1="2059" y2="2075" stroke="#000" stroke-width="2"/><line x1="607.8" x2="607.8" y1="2059" y2="2075" stroke="#000" stroke-width="2"/><text x="449.2" y="1541.2" font-size="27" text-anchor="middle" font-weight="bold" font-style="italic">CCND3</text><rect x="821" y="1555" width="537.5" height="503.2" fill="none" stroke="#000" stroke-width="2"/><line x1="805" x2="821" y1="2058.2" y2="2058.2" stroke="#000" stroke-width="2"/><text transform="translate(792.7,2058.2) rotate(-90)" font-size="26" text-anchor="middle">0</text><line x1="805" x2="821" y1="1896.9" y2="1896.9" stroke="#000" stroke-width="2"/><text transform="translate(792.7,1896.9) rotate(-90)" font-size="26" text-anchor="middle">5000</text><line x1="805" x2="821" y1="1735.7" y2="1735.7" stroke="#000" stroke-width="2"/><text transform="translate(792.7,1735.7) rotate(-90)" font-size="26" text-anchor="middle">10000</text><line x1="805" x2="821" y1="1574.4" y2="1574.4" stroke="#000" stroke-width="2"/><text transform="translate(792.7,1574.4) rotate(-90)" font-size="26" text-anchor="middle">15000</text><line x1="934.2" x2="934.2" y1="2058.2" y2="2074.2" stroke="#000" stroke-width="2"/><line x1="1089.7" x2="1089.7" y1="2058.2" y2="2074.2" stroke="#000" stroke-width="2"/><line x1="1245.4" x2="1245.4" y1="2058.2" y2="2074.2" stroke="#000" stroke-width="2"/><text x="1089.8" y="1541.1" font-size="27" text-anchor="middle" font-weight="bold" font-style="italic">MDM2</text><rect x="182.8" y="2129.8" width="538.4" height="504.7" fill="none" stroke="#000" stroke-width="2"/><line x1="166.8" x2="182.8" y1="2634.5" y2="2634.5" stroke="#000" stroke-width="2"/><text transform="translate(154.5,2634.5) rotate(-90)" font-size="26" text-anchor="middle">0</text><line x1="166.8" x2="182.8" y1="2552.2" y2="2552.2" stroke="#000" stroke-width="2"/><text transform="translate(154.5,2552.2) rotate(-90)" font-size="26" text-anchor="middle">200</text><line x1="166.8" x2="182.8" y1="2469.9" y2="2469.9" stroke="#000" stroke-width="2"/><text transform="translate(154.5,2469.9) rotate(-90)" font-size="26" text-anchor="middle">400</text><line x1="166.8" x2="182.8" y1="2387.6" y2="2387.6" stroke="#000" stroke-width="2"/><text transform="translate(154.5,2387.6) rotate(-90)" font-size="26" text-anchor="middle">600</text><line x1="166.8" x2="182.8" y1="2305.3" y2="2305.3" stroke="#000" stroke-width="2"/><text transform="translate(154.5,2305.3) rotate(-90)" font-size="26" text-anchor="middle">800</text><line x1="166.8" x2="182.8" y1="2223" y2="2223" stroke="#000" stroke-width="2"/><text transform="translate(154.5,2223) rotate(-90)" font-size="26" text-anchor="middle">1000</text><line x1="166.8" x2="182.8" y1="2140.7" y2="2140.7" stroke="#000" stroke-width="2"/><text transform="translate(154.5,2140.7) rotate(-90)" font-size="26" text-anchor="middle">1200</text><line x1="296.6" x2="296.6" y1="2634.5" y2="2650.5" stroke="#000" stroke-width="2"/><line x1="452" x2="452" y1="2634.5" y2="2650.5" stroke="#000" stroke-width="2"/><line x1="607.5" x2="607.5" y1="2634.5" y2="2650.5" stroke="#000" stroke-width="2"/><text x="451.8" y="2117.9" font-size="27" text-anchor="middle" font-weight="bold" font-style="italic">MGMT</text><rect x="820.7" y="2129.8" width="537.9" height="504.7" fill="none" stroke="#000" stroke-width="2"/><line x1="804.7" x2="820.7" y1="2634.5" y2="2634.5" stroke="#000" stroke-width="2"/><text transform="translate(792.4,2634.5) rotate(-90)" font-size="26" text-anchor="middle">0</text><line x1="804.7" x2="820.7" y1="2551.7" y2="2551.7" stroke="#000" stroke-width="2"/><text transform="translate(792.4,2551.7) rotate(-90)" font-size="26" text-anchor="middle">10000</text><line x1="804.7" x2="820.7" y1="2468.9" y2="2468.9" stroke="#000" stroke-width="2"/><line x1="804.7" x2="820.7" y1="2386.2" y2="2386.2" stroke="#000" stroke-width="2"/><text transform="translate(792.4,2386.2) rotate(-90)" font-size="26" text-anchor="middle">30000</text><line x1="804.7" x2="820.7" y1="2303.4" y2="2303.4" stroke="#000" stroke-width="2"/><line x1="804.7" x2="820.7" y1="2220.6" y2="2220.6" stroke="#000" stroke-width="2"/><text transform="translate(792.4,2220.6) rotate(-90)" font-size="26" text-anchor="middle">50000</text><line x1="804.7" x2="820.7" y1="2137.8" y2="2137.8" stroke="#000" stroke-width="2"/><line x1="933.9" x2="933.9" y1="2634.5" y2="2650.5" stroke="#000" stroke-width="2"/><line x1="1089.4" x2="1089.4" y1="2634.5" y2="2650.5" stroke="#000" stroke-width="2"/><line x1="1244.8" x2="1244.8" y1="2634.5" y2="2650.5" stroke="#000" stroke-width="2"/><text x="1093.7" y="2117.9" font-size="27" text-anchor="middle" font-weight="bold" font-style="italic">MYC</text><text transform="translate(110.5,1806.8) rotate(-90)" font-size="25.9" text-anchor="middle">Normalized gene count</text><text transform="translate(110.5,2382.8) rotate(-90)" font-size="25.9" text-anchor="middle">Normalized gene count</text><text x="298.5" y="2681" font-size="25.6" text-anchor="middle">Normal</text><text x="298.5" y="2707.5" font-size="25.6" text-anchor="middle">tissues</text><text x="451.5" y="2681" font-size="25.6" text-anchor="middle">CedBTN1</text><text x="607.7" y="2681" font-size="25.6" text-anchor="middle">CedBTN2</text><text x="936.2" y="2681" font-size="25.6" text-anchor="middle">Normal</text><text x="936.2" y="2707.5" font-size="25.6" text-anchor="middle">tissues</text><text x="1089.2" y="2681" font-size="25.6" text-anchor="middle">CedBTN1</text><text x="1245.4" y="2681" font-size="25.6" text-anchor="middle">CedBTN2</text><line x1="295.1" x2="608.1" y1="1615.3" y2="1615.3" stroke="#000" stroke-width="2"/><line x1="295.1" x2="453.2" y1="1677.7" y2="1677.7" stroke="#000" stroke-width="2"/><line x1="939.7" x2="1252.8" y1="1615.3" y2="1615.3" stroke="#000" stroke-width="2"/><line x1="939.7" x2="1097.5" y1="1677.4" y2="1677.4" stroke="#000" stroke-width="2"/><line x1="295.6" x2="608.4" y1="2192.8" y2="2192.8" stroke="#000" stroke-width="2"/><line x1="295.6" x2="453.5" y1="2255.4" y2="2255.4" stroke="#000" stroke-width="2"/><line x1="939.1" x2="1252.9" y1="2192.8" y2="2192.8" stroke="#000" stroke-width="2"/><line x1="939.1" x2="1097.4" y1="2255.4" y2="2255.4" stroke="#000" stroke-width="2"/><text x="403" y="1598.9" font-size="22.8"><tspan font-style="italic">P</tspan><tspan> = 0.091</tspan></text><text x="296.1" y="1658.6" font-size="22.8"><tspan font-style="italic">P</tspan><tspan> = 9.38 × 10</tspan><tspan dy="-10" font-size="16.9">−9</tspan></text><text x="1014" y="1598.4" font-size="22.8"><tspan font-style="italic">P</tspan><tspan> = 6.94 × 10</tspan><tspan dy="-10" font-size="16.9">−11</tspan></text><text x="936.5" y="1659.2" font-size="22.8"><tspan font-style="italic">P</tspan><tspan> = 5.09 × 10</tspan><tspan dy="-10" font-size="16.9">−48</tspan></text><text x="403.7" y="2176.2" font-size="22.8"><tspan font-style="italic">P</tspan><tspan> = 0.961</tspan></text><text x="296.6" y="2236.4" font-size="22.8"><tspan font-style="italic">P</tspan><tspan> = 5.78 × 10</tspan><tspan dy="-10" font-size="16.9">−4</tspan></text><text x="1042" y="2176.2" font-size="22.8"><tspan font-style="italic">P</tspan><tspan> = 0.0011</tspan></text><text x="963.8" y="2236.4" font-size="22.8"><tspan font-style="italic">P</tspan><tspan> = 0.0040</tspan></text><g fill="#000" stroke="#000" stroke-width="0.9" clip-path="url(#cp1)"><circle cx="288.1" cy="1970.4" r="6.3"/><circle cx="312.5" cy="1971.1" r="6.3"/><circle cx="313.2" cy="1975.9" r="6.3"/><circle cx="282.3" cy="1984.2" r="6.3"/><circle cx="297.4" cy="1980" r="6.3"/><circle cx="309.1" cy="1984.9" r="6.3"/><circle cx="281.9" cy="1989.7" r="6.3"/><circle cx="302.9" cy="1995.9" r="6.3"/><circle cx="287.1" cy="2002" r="6.3"/><circle cx="294" cy="2006.2" r="6.3"/><circle cx="306.3" cy="2002.7" r="6.3"/><circle cx="309.4" cy="2014.4" r="6.3"/><circle cx="283.7" cy="2020.6" r="6.3"/><circle cx="295.3" cy="2019.9" r="6.3"/><circle cx="304.3" cy="2028.8" r="6.3"/><circle cx="289.8" cy="2026.8" r="6.3"/><circle cx="294.6" cy="2036.4" r="6.3"/><circle cx="291.2" cy="1992.4" r="6.3"/><circle cx="284" cy="1996" r="6.3"/><circle cx="300" cy="2010" r="6.3"/></g><g fill="#08AEC8" stroke="#0B8FA5" stroke-width="0.9" clip-path="url(#cp1)"><circle cx="299.1" cy="1929.2" r="6.3"/><circle cx="295.5" cy="1942.3" r="6.3"/><circle cx="300" cy="1966.7" r="6.3"/><circle cx="297.7" cy="1985.2" r="6.3"/></g><line x1="262.3" x2="330.4" y1="1996.4" y2="1996.4" stroke="#808080" stroke-width="4" stroke-linecap="round" clip-path="url(#cp1)"/><g fill="#D21E28" stroke="#9A1820" stroke-width="0.9" clip-path="url(#cp1)"><circle cx="458.5" cy="1722.7" r="6.3"/><circle cx="463.1" cy="1790.2" r="6.3"/><circle cx="445.4" cy="1851.1" r="6.3"/><circle cx="449.8" cy="1910.8" r="6.3"/><circle cx="441.2" cy="1933.5" r="6.3"/><circle cx="454.3" cy="1938.3" r="6.3"/></g><line x1="418.7" x2="485.6" y1="1880.8" y2="1880.8" stroke="#808080" stroke-width="4" stroke-linecap="round" clip-path="url(#cp1)"/><g fill="#7034A8" stroke="#4E2478" stroke-width="0.9" clip-path="url(#cp1)"><circle cx="607.7" cy="1920.8" r="6.3"/><circle cx="607.7" cy="1959.4" r="6.3"/></g><g fill="#000" stroke="#000" stroke-width="0.9" clip-path="url(#cp2)"><circle cx="925.8" cy="2027.8" r="6.3"/><circle cx="943.8" cy="2026.6" r="6.3"/><circle cx="919.7" cy="2049.4" r="6.3"/><circle cx="933.3" cy="2052.5" r="6.3"/><circle cx="948.7" cy="2047" r="6.3"/><circle cx="953" cy="2039.6" r="6.3"/><circle cx="927.1" cy="2050.7" r="6.3"/><circle cx="940" cy="2050" r="6.3"/><circle cx="936" cy="2034" r="6.3"/><circle cx="945" cy="2044" r="6.3"/><circle cx="922" cy="2044" r="6.3"/></g><g fill="#08AEC8" stroke="#0B8FA5" stroke-width="0.9" clip-path="url(#cp2)"><circle cx="920.3" cy="2037.1" r="6.3"/><circle cx="929.6" cy="2043.3" r="6.3"/><circle cx="938.2" cy="2038.3" r="6.3"/><circle cx="948.1" cy="2037.1" r="6.3"/><circle cx="924" cy="2040" r="6.3"/></g><line x1="900" x2="968.3" y1="2043.3" y2="2043.3" stroke="#808080" stroke-width="4" stroke-linecap="round" clip-path="url(#cp2)"/><g fill="#D21E28" stroke="#9A1820" stroke-width="0.9" clip-path="url(#cp2)"><circle cx="1095.8" cy="1722.8" r="6.3"/><circle cx="1091.5" cy="1781.3" r="6.3"/><circle cx="1100.2" cy="1831.5" r="6.3"/><circle cx="1082.9" cy="1911.9" r="6.3"/><circle cx="1078.5" cy="1935.8" r="6.3"/><circle cx="1087.2" cy="1968.6" r="6.3"/></g><line x1="1056.3" x2="1123.7" y1="1871.3" y2="1871.3" stroke="#808080" stroke-width="4" stroke-linecap="round" clip-path="url(#cp2)"/><g fill="#7034A8" stroke="#4E2478" stroke-width="0.9" clip-path="url(#cp2)"><circle cx="1245.1" cy="1940.1" r="6.3"/><circle cx="1245.1" cy="1983.3" r="6.3"/></g><g fill="#000" stroke="#000" stroke-width="0.9" clip-path="url(#cp3)"><circle cx="301.8" cy="2299" r="6.3"/><circle cx="306.5" cy="2365.8" r="6.3"/><circle cx="296.1" cy="2418.9" r="6.3"/><circle cx="295.7" cy="2505.5" r="6.3"/><circle cx="304.7" cy="2518.5" r="6.3"/><circle cx="294.8" cy="2527.9" r="6.3"/><circle cx="290.4" cy="2532.8" r="6.3"/><circle cx="313.1" cy="2529.4" r="6.3"/><circle cx="283.6" cy="2561.4" r="6.3"/><circle cx="286" cy="2561" r="6.3"/><circle cx="297" cy="2572" r="6.3"/><circle cx="287.3" cy="2588.8" r="6.3"/><circle cx="284.8" cy="2600" r="6.3"/><circle cx="304.1" cy="2588.8" r="6.3"/><circle cx="308.4" cy="2593.1" r="6.3"/><circle cx="312.2" cy="2604.3" r="6.3"/><circle cx="281.7" cy="2632.5" r="6.3"/><circle cx="309.7" cy="2632.5" r="6.3"/><circle cx="296" cy="2633" r="6.3"/></g><g fill="#08AEC8" stroke="#0B8FA5" stroke-width="0.9" clip-path="url(#cp3)"><circle cx="298.5" cy="2542.8" r="6.3"/><circle cx="298.2" cy="2593.7" r="6.3"/><circle cx="289.8" cy="2633" r="6.3"/><circle cx="303.5" cy="2633" r="6.3"/></g><line x1="262.6" x2="330.7" y1="2582.2" y2="2582.2" stroke="#808080" stroke-width="4" stroke-linecap="round" clip-path="url(#cp3)"/><g fill="#D21E28" stroke="#9A1820" stroke-width="0.9" clip-path="url(#cp3)"><circle cx="440.9" cy="2632.6" r="6.3"/><circle cx="449.9" cy="2622.8" r="6.3"/><circle cx="463.8" cy="2629.6" r="6.3"/><circle cx="456" cy="2632" r="6.3"/><circle cx="447" cy="2633" r="6.3"/></g><line x1="418.2" x2="486.2" y1="2632.2" y2="2632.2" stroke="#808080" stroke-width="4" stroke-linecap="round" clip-path="url(#cp3)"/><g fill="#7034A8" stroke="#4E2478" stroke-width="0.9" clip-path="url(#cp3)"><circle cx="607.5" cy="2553.9" r="6.3"/><circle cx="607.5" cy="2580" r="6.3"/></g><g fill="#000" stroke="#000" stroke-width="0.9" clip-path="url(#cp4)"><circle cx="919.7" cy="2524.1" r="6.3"/><circle cx="933.6" cy="2519.2" r="6.3"/><circle cx="939.4" cy="2527.2" r="6.3"/><circle cx="950.9" cy="2525.3" r="6.3"/><circle cx="946.2" cy="2541.4" r="6.3"/><circle cx="934.5" cy="2551.3" r="6.3"/><circle cx="920.3" cy="2564.3" r="6.3"/><circle cx="926.5" cy="2569.2" r="6.3"/><circle cx="942.2" cy="2562.4" r="6.3"/><circle cx="950" cy="2568.6" r="6.3"/><circle cx="922.1" cy="2581.6" r="6.3"/><circle cx="946.9" cy="2576" r="6.3"/><circle cx="922.1" cy="2587.8" r="6.3"/><circle cx="932" cy="2587.8" r="6.3"/><circle cx="941.3" cy="2587.1" r="6.3"/><circle cx="931.4" cy="2596.4" r="6.3"/><circle cx="939.4" cy="2619.3" r="6.3"/><circle cx="932.6" cy="2629.8" r="6.3"/><circle cx="935" cy="2578" r="6.3"/></g><g fill="#08AEC8" stroke="#0B8FA5" stroke-width="0.9" clip-path="url(#cp4)"><circle cx="920.9" cy="2607.5" r="6.3"/><circle cx="935.7" cy="2600.1" r="6.3"/><circle cx="932.6" cy="2612.5" r="6.3"/><circle cx="947.8" cy="2608.2" r="6.3"/></g><line x1="900.3" x2="968.3" y1="2573.5" y2="2573.5" stroke="#808080" stroke-width="4" stroke-linecap="round" clip-path="url(#cp4)"/><g fill="#D21E28" stroke="#9A1820" stroke-width="0.9" clip-path="url(#cp4)"><circle cx="1091.8" cy="2407" r="6.3"/><circle cx="1083.2" cy="2430.7" r="6.3"/><circle cx="1087" cy="2484.3" r="6.3"/><circle cx="1096" cy="2526.4" r="6.3"/><circle cx="1079" cy="2569.1" r="6.3"/><circle cx="1100.3" cy="2583.8" r="6.3"/></g><line x1="1055.8" x2="1123.9" y1="2505.1" y2="2505.1" stroke="#808080" stroke-width="4" stroke-linecap="round" clip-path="url(#cp4)"/><g fill="#7034A8" stroke="#4E2478" stroke-width="0.9" clip-path="url(#cp4)"><circle cx="1244.8" cy="2299" r="6.3"/><circle cx="1244.8" cy="2429.8" r="6.3"/></g></svg></body></html>
